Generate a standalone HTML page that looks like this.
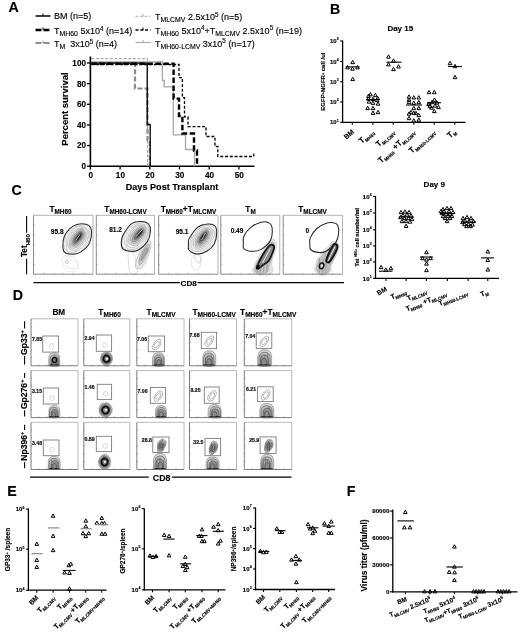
<!DOCTYPE html>
<html><head><meta charset="utf-8"><style>
html,body{margin:0;padding:0;background:#fff;}
svg{display:block;filter:blur(0.35px);}
text{font-family:"Liberation Sans",sans-serif;stroke:#000;stroke-width:0.14px;}
</style></head><body>
<svg width="520" height="632" viewBox="0 0 520 632">
<rect width="520" height="632" fill="#fff"/>
<text x="8.6" y="11.6" font-size="14.2" font-weight="bold" text-anchor="start" fill="#000" >A</text>
<text x="330" y="13.6" font-size="14.2" font-weight="bold" text-anchor="start" fill="#000" >B</text>
<text x="11.6" y="195.4" font-size="14.2" font-weight="bold" text-anchor="start" fill="#000" >C</text>
<text x="12.8" y="299.6" font-size="14.2" font-weight="bold" text-anchor="start" fill="#000" >D</text>
<text x="7.2" y="495.7" font-size="14.2" font-weight="bold" text-anchor="start" fill="#000" >E</text>
<text x="346.8" y="495.7" font-size="14.2" font-weight="bold" text-anchor="start" fill="#000" >F</text>
<line x1="90.4" y1="56.5" x2="90.4" y2="167.0" stroke="#000" stroke-width="1.6" />
<line x1="89.60000000000001" y1="166.2" x2="254.5" y2="166.2" stroke="#000" stroke-width="1.6" />
<line x1="86.9" y1="166.2" x2="90.4" y2="166.2" stroke="#000" stroke-width="1.3" />
<text x="86.0" y="169.1" font-size="8.2" font-weight="bold" text-anchor="end" fill="#000" >0</text>
<line x1="86.9" y1="145.56" x2="90.4" y2="145.56" stroke="#000" stroke-width="1.3" />
<text x="86.0" y="148.46" font-size="8.2" font-weight="bold" text-anchor="end" fill="#000" >20</text>
<line x1="86.9" y1="124.91999999999999" x2="90.4" y2="124.91999999999999" stroke="#000" stroke-width="1.3" />
<text x="86.0" y="127.82" font-size="8.2" font-weight="bold" text-anchor="end" fill="#000" >40</text>
<line x1="86.9" y1="104.27999999999999" x2="90.4" y2="104.27999999999999" stroke="#000" stroke-width="1.3" />
<text x="86.0" y="107.17999999999999" font-size="8.2" font-weight="bold" text-anchor="end" fill="#000" >60</text>
<line x1="86.9" y1="83.63999999999999" x2="90.4" y2="83.63999999999999" stroke="#000" stroke-width="1.3" />
<text x="86.0" y="86.53999999999999" font-size="8.2" font-weight="bold" text-anchor="end" fill="#000" >80</text>
<line x1="86.9" y1="62.999999999999986" x2="90.4" y2="62.999999999999986" stroke="#000" stroke-width="1.3" />
<text x="86.0" y="65.89999999999999" font-size="8.2" font-weight="bold" text-anchor="end" fill="#000" >100</text>
<line x1="90.4" y1="166.2" x2="90.4" y2="169.5" stroke="#000" stroke-width="1.3" />
<text x="90.7" y="178.39999999999998" font-size="8.2" font-weight="bold" text-anchor="middle" fill="#000" >0</text>
<line x1="120.10000000000001" y1="166.2" x2="120.10000000000001" y2="169.5" stroke="#000" stroke-width="1.3" />
<text x="120.4" y="178.39999999999998" font-size="8.2" font-weight="bold" text-anchor="middle" fill="#000" >10</text>
<line x1="149.8" y1="166.2" x2="149.8" y2="169.5" stroke="#000" stroke-width="1.3" />
<text x="150.10000000000002" y="178.39999999999998" font-size="8.2" font-weight="bold" text-anchor="middle" fill="#000" >20</text>
<line x1="179.5" y1="166.2" x2="179.5" y2="169.5" stroke="#000" stroke-width="1.3" />
<text x="179.8" y="178.39999999999998" font-size="8.2" font-weight="bold" text-anchor="middle" fill="#000" >30</text>
<line x1="209.20000000000002" y1="166.2" x2="209.20000000000002" y2="169.5" stroke="#000" stroke-width="1.3" />
<text x="209.50000000000003" y="178.39999999999998" font-size="8.2" font-weight="bold" text-anchor="middle" fill="#000" >40</text>
<line x1="238.9" y1="166.2" x2="238.9" y2="169.5" stroke="#000" stroke-width="1.3" />
<text x="239.20000000000002" y="178.39999999999998" font-size="8.2" font-weight="bold" text-anchor="middle" fill="#000" >50</text>
<text x="172" y="190.2" font-size="9.1" font-weight="bold" text-anchor="middle" fill="#000" >Days Post Transplant</text>
<text x="0" y="0" font-size="9.5" font-weight="bold" text-anchor="middle" fill="#000" transform="translate(68.4,109) rotate(-90)">Percent survival</text>
<polyline points="91.40,58.60 147.50,58.60 147.50,166.20" stroke="#aaa" stroke-width="1.1" fill="none" stroke-dasharray="3,1.6"/>
<polyline points="91.40,62.50 135.00,62.50 135.00,88.50 147.50,88.50 147.50,140.50 149.80,140.50 149.80,166.20" stroke="#8c8c8c" stroke-width="2.2" fill="none" stroke-dasharray="5,2.2"/>
<polyline points="91.40,62.00 162.40,62.00 162.40,80.50 164.20,80.50 164.20,86.80 173.30,86.80 173.30,134.80 185.50,134.80 185.50,149.50 194.50,149.50 194.50,166.20" stroke="#a8a8a8" stroke-width="1.3" fill="none" />
<polyline points="91.40,63.20 147.20,63.20 147.20,124.50 150.20,124.50 150.20,166.20" stroke="#000" stroke-width="1.3" fill="none" />
<polyline points="91.40,64.50 179.00,64.50 179.00,77.70 182.40,77.70 182.40,97.70 184.50,97.70 184.50,116.80 188.00,116.80 188.00,126.60 206.00,126.60 206.00,136.50 215.00,136.50 215.00,146.50 217.80,146.50 217.80,156.50 253.80,156.50" stroke="#000" stroke-width="1.3" fill="none" stroke-dasharray="3,1.8"/>
<line x1="253.8" y1="153.5" x2="253.8" y2="156.5" stroke="#000" stroke-width="1.2" />
<polyline points="91.40,63.80 173.60,63.80 173.60,98.60 179.00,98.60 179.00,116.00 182.40,116.00 182.40,133.50 194.00,133.50 194.00,150.50 197.00,150.50 197.00,166.20" stroke="#000" stroke-width="2.4" fill="none" stroke-dasharray="5.5,2.5"/>
<line x1="35.5" y1="16" x2="50.5" y2="16" stroke="#000" stroke-width="1.5" />
<line x1="43.0" y1="13.5" x2="43.0" y2="16" stroke="#000" stroke-width="1" />
<line x1="35.5" y1="30" x2="50.5" y2="30" stroke="#000" stroke-width="2.4" stroke-dasharray="6,2"/>
<line x1="43.0" y1="27.5" x2="43.0" y2="30" stroke="#000" stroke-width="1" />
<line x1="35.5" y1="43" x2="50.5" y2="43" stroke="#8c8c8c" stroke-width="2.0" stroke-dasharray="6,2"/>
<line x1="43.0" y1="40.5" x2="43.0" y2="43" stroke="#8c8c8c" stroke-width="1" />
<line x1="135.5" y1="16.3" x2="150.5" y2="16.3" stroke="#aaa" stroke-width="1.1" stroke-dasharray="3,1.6"/>
<line x1="143.0" y1="13.8" x2="143.0" y2="16.3" stroke="#aaa" stroke-width="1" />
<line x1="135.5" y1="30" x2="150.5" y2="30" stroke="#000" stroke-width="1.3" stroke-dasharray="3,1.8"/>
<line x1="143.0" y1="27.5" x2="143.0" y2="30" stroke="#000" stroke-width="1" />
<line x1="135.5" y1="42.5" x2="150.5" y2="42.5" stroke="#aaa" stroke-width="1.2" />
<line x1="143.0" y1="40.0" x2="143.0" y2="42.5" stroke="#aaa" stroke-width="1" />
<text x="54" y="19.1" font-size="9" font-weight="normal" text-anchor="start" fill="#000" >BM (n=5)</text>
<text x="54" y="34.1" font-size="9" font-weight="normal" text-anchor="start" fill="#000" >T<tspan font-size="6.9" dy="2.0">MH60</tspan><tspan dy="-2.0"> 5x10<tspan font-size="6.3" dy="-3.4">4</tspan><tspan dy="3.4"> (n=14)</tspan></tspan></text>
<text x="54" y="47.3" font-size="9" font-weight="normal" text-anchor="start" fill="#000" >T<tspan font-size="6.9" dy="2.0">M</tspan><tspan dy="-2.0">&#160; 3x10<tspan font-size="6.3" dy="-3.4">5</tspan><tspan dy="3.4"> (n=4)</tspan></tspan></text>
<text x="155" y="20.1" font-size="9" font-weight="normal" text-anchor="start" fill="#000" >T<tspan font-size="6.9" dy="2.0">MLCMV</tspan><tspan dy="-2.0"> 2.5x10<tspan font-size="6.3" dy="-3.4">5</tspan><tspan dy="3.4"> (n=5)</tspan></tspan></text>
<text x="155" y="33.6" font-size="9" font-weight="normal" text-anchor="start" fill="#000" >T<tspan font-size="6.9" dy="2.0">MH60</tspan><tspan dy="-2.0"> 5x10<tspan font-size="6.3" dy="-3.4">4</tspan><tspan dy="3.4">+</tspan></tspan>T<tspan font-size="6.9" dy="2.0">MLCMV</tspan><tspan dy="-2.0"> 2.5x10<tspan font-size="6.3" dy="-3.4">5</tspan><tspan dy="3.4"> (n=19)</tspan></tspan></text>
<text x="155" y="46.7" font-size="9" font-weight="normal" text-anchor="start" fill="#000" >T<tspan font-size="6.9" dy="2.0">MH60-LCMV</tspan><tspan dy="-2.0"> 3x10<tspan font-size="6.3" dy="-3.4">5</tspan><tspan dy="3.4"> (n=17)</tspan></tspan></text>
<text x="400.3" y="30.8" font-size="8" font-weight="bold" text-anchor="middle" fill="#000" >Day 15</text>
<line x1="342.6" y1="40.5" x2="342.6" y2="122.89999999999999" stroke="#000" stroke-width="1.3" />
<line x1="342.0" y1="122.3" x2="465.5" y2="122.3" stroke="#000" stroke-width="1.3" />
<line x1="340.1" y1="41" x2="342.6" y2="41" stroke="#000" stroke-width="1.1" />
<text x="336.6" y="43.16" font-size="6.0" font-weight="bold" text-anchor="end" fill="#000" >10</text>
<text x="336.8" y="40.4" font-size="3.5999999999999996" font-weight="bold" text-anchor="start" fill="#000" >5</text>
<line x1="340.1" y1="61.5" x2="342.6" y2="61.5" stroke="#000" stroke-width="1.1" />
<text x="336.6" y="63.66" font-size="6.0" font-weight="bold" text-anchor="end" fill="#000" >10</text>
<text x="336.8" y="60.9" font-size="3.5999999999999996" font-weight="bold" text-anchor="start" fill="#000" >4</text>
<line x1="340.1" y1="81.7" x2="342.6" y2="81.7" stroke="#000" stroke-width="1.1" />
<text x="336.6" y="83.86" font-size="6.0" font-weight="bold" text-anchor="end" fill="#000" >10</text>
<text x="336.8" y="81.10000000000001" font-size="3.5999999999999996" font-weight="bold" text-anchor="start" fill="#000" >3</text>
<line x1="340.1" y1="102" x2="342.6" y2="102" stroke="#000" stroke-width="1.1" />
<text x="336.6" y="104.16" font-size="6.0" font-weight="bold" text-anchor="end" fill="#000" >10</text>
<text x="336.8" y="101.4" font-size="3.5999999999999996" font-weight="bold" text-anchor="start" fill="#000" >2</text>
<line x1="340.1" y1="122.3" x2="342.6" y2="122.3" stroke="#000" stroke-width="1.1" />
<text x="336.6" y="124.46" font-size="6.0" font-weight="bold" text-anchor="end" fill="#000" >10</text>
<text x="336.8" y="121.7" font-size="3.5999999999999996" font-weight="bold" text-anchor="start" fill="#000" >1</text>
<line x1="352.3" y1="122.3" x2="352.3" y2="124.8" stroke="#000" stroke-width="1.1" />
<line x1="372.9" y1="122.3" x2="372.9" y2="124.8" stroke="#000" stroke-width="1.1" />
<line x1="393.2" y1="122.3" x2="393.2" y2="124.8" stroke="#000" stroke-width="1.1" />
<line x1="413.8" y1="122.3" x2="413.8" y2="124.8" stroke="#000" stroke-width="1.1" />
<line x1="434.2" y1="122.3" x2="434.2" y2="124.8" stroke="#000" stroke-width="1.1" />
<line x1="454.8" y1="122.3" x2="454.8" y2="124.8" stroke="#000" stroke-width="1.1" />
<text x="0" y="0" font-size="6.0" font-weight="bold" text-anchor="middle" transform="translate(325.4,81.6) rotate(-90)">EGFP<tspan font-size="3.8" dy="-1.8">+</tspan><tspan dy="1.8">NGFR</tspan><tspan font-size="3.8" dy="-1.8">+</tspan><tspan dy="1.8"> cell /ul</tspan></text>
<path d="M350.85,63.66L352.70,60.34L354.55,63.66Z" stroke="#000" stroke-width="1.0" fill="none" stroke-linejoin="miter"/>
<path d="M345.65,68.87L347.50,65.53L349.35,68.87Z" stroke="#000" stroke-width="1.0" fill="none" stroke-linejoin="miter"/>
<path d="M350.65,70.17L352.50,66.83L354.35,70.17Z" stroke="#000" stroke-width="1.0" fill="none" stroke-linejoin="miter"/>
<path d="M355.65,68.87L357.50,65.53L359.35,68.87Z" stroke="#000" stroke-width="1.0" fill="none" stroke-linejoin="miter"/>
<path d="M350.85,80.57L352.70,77.23L354.55,80.57Z" stroke="#000" stroke-width="1.0" fill="none" stroke-linejoin="miter"/>
<line x1="345.8" y1="66.9" x2="359.6" y2="66.9" stroke="#000" stroke-width="1.1" />
<path d="M386.65,58.16L388.50,54.84L390.35,58.16Z" stroke="#000" stroke-width="1.0" fill="none" stroke-linejoin="miter"/>
<path d="M391.65,62.16L393.50,58.84L395.35,62.16Z" stroke="#000" stroke-width="1.0" fill="none" stroke-linejoin="miter"/>
<path d="M386.65,65.87L388.50,62.54L390.35,65.87Z" stroke="#000" stroke-width="1.0" fill="none" stroke-linejoin="miter"/>
<path d="M391.65,70.67L393.50,67.33L395.35,70.67Z" stroke="#000" stroke-width="1.0" fill="none" stroke-linejoin="miter"/>
<path d="M396.65,67.97L398.50,64.63L400.35,67.97Z" stroke="#000" stroke-width="1.0" fill="none" stroke-linejoin="miter"/>
<line x1="386.5" y1="62.2" x2="401.5" y2="62.2" stroke="#000" stroke-width="1.1" />
<path d="M366.65,97.47L368.50,94.13L370.35,97.47Z" stroke="#000" stroke-width="1.0" fill="none" stroke-linejoin="miter"/>
<path d="M368.65,95.87L370.50,92.53L372.35,95.87Z" stroke="#000" stroke-width="1.0" fill="none" stroke-linejoin="miter"/>
<path d="M373.55,96.67L375.40,93.33L377.25,96.67Z" stroke="#000" stroke-width="1.0" fill="none" stroke-linejoin="miter"/>
<path d="M375.85,99.67L377.70,96.33L379.55,99.67Z" stroke="#000" stroke-width="1.0" fill="none" stroke-linejoin="miter"/>
<path d="M371.15,100.47L373.00,97.13L374.85,100.47Z" stroke="#000" stroke-width="1.0" fill="none" stroke-linejoin="miter"/>
<path d="M366.65,100.17L368.50,96.83L370.35,100.17Z" stroke="#000" stroke-width="1.0" fill="none" stroke-linejoin="miter"/>
<path d="M371.15,104.37L373.00,101.03L374.85,104.37Z" stroke="#000" stroke-width="1.0" fill="none" stroke-linejoin="miter"/>
<path d="M376.15,105.17L378.00,101.83L379.85,105.17Z" stroke="#000" stroke-width="1.0" fill="none" stroke-linejoin="miter"/>
<path d="M365.85,109.67L367.70,106.33L369.55,109.67Z" stroke="#000" stroke-width="1.0" fill="none" stroke-linejoin="miter"/>
<path d="M371.15,109.67L373.00,106.33L374.85,109.67Z" stroke="#000" stroke-width="1.0" fill="none" stroke-linejoin="miter"/>
<path d="M371.15,114.37L373.00,111.03L374.85,114.37Z" stroke="#000" stroke-width="1.0" fill="none" stroke-linejoin="miter"/>
<path d="M376.15,113.67L378.00,110.33L379.85,113.67Z" stroke="#000" stroke-width="1.0" fill="none" stroke-linejoin="miter"/>
<path d="M367.15,103.17L369.00,99.83L370.85,103.17Z" stroke="#000" stroke-width="1.0" fill="none" stroke-linejoin="miter"/>
<path d="M375.15,101.67L377.00,98.33L378.85,101.67Z" stroke="#000" stroke-width="1.0" fill="none" stroke-linejoin="miter"/>
<line x1="366" y1="99.6" x2="380" y2="99.6" stroke="#000" stroke-width="1.1" />
<path d="M407.15,98.17L409.00,94.83L410.85,98.17Z" stroke="#000" stroke-width="1.0" fill="none" stroke-linejoin="miter"/>
<path d="M411.95,98.97L413.80,95.63L415.65,98.97Z" stroke="#000" stroke-width="1.0" fill="none" stroke-linejoin="miter"/>
<path d="M416.95,98.97L418.80,95.63L420.65,98.97Z" stroke="#000" stroke-width="1.0" fill="none" stroke-linejoin="miter"/>
<path d="M407.15,101.27L409.00,97.93L410.85,101.27Z" stroke="#000" stroke-width="1.0" fill="none" stroke-linejoin="miter"/>
<path d="M407.15,103.67L409.00,100.33L410.85,103.67Z" stroke="#000" stroke-width="1.0" fill="none" stroke-linejoin="miter"/>
<path d="M411.95,104.37L413.80,101.03L415.65,104.37Z" stroke="#000" stroke-width="1.0" fill="none" stroke-linejoin="miter"/>
<path d="M416.95,103.67L418.80,100.33L420.65,103.67Z" stroke="#000" stroke-width="1.0" fill="none" stroke-linejoin="miter"/>
<path d="M411.95,109.67L413.80,106.33L415.65,109.67Z" stroke="#000" stroke-width="1.0" fill="none" stroke-linejoin="miter"/>
<path d="M416.95,109.67L418.80,106.33L420.65,109.67Z" stroke="#000" stroke-width="1.0" fill="none" stroke-linejoin="miter"/>
<path d="M407.15,115.17L409.00,111.83L410.85,115.17Z" stroke="#000" stroke-width="1.0" fill="none" stroke-linejoin="miter"/>
<path d="M411.95,114.37L413.80,111.03L415.65,114.37Z" stroke="#000" stroke-width="1.0" fill="none" stroke-linejoin="miter"/>
<path d="M416.95,116.67L418.80,113.33L420.65,116.67Z" stroke="#000" stroke-width="1.0" fill="none" stroke-linejoin="miter"/>
<path d="M407.15,119.67L409.00,116.33L410.85,119.67Z" stroke="#000" stroke-width="1.0" fill="none" stroke-linejoin="miter"/>
<path d="M411.95,122.07L413.80,118.73L415.65,122.07Z" stroke="#000" stroke-width="1.0" fill="none" stroke-linejoin="miter"/>
<path d="M416.95,121.27L418.80,117.93L420.65,121.27Z" stroke="#000" stroke-width="1.0" fill="none" stroke-linejoin="miter"/>
<path d="M409.15,113.67L411.00,110.33L412.85,113.67Z" stroke="#000" stroke-width="1.0" fill="none" stroke-linejoin="miter"/>
<path d="M414.15,114.67L416.00,111.33L417.85,114.67Z" stroke="#000" stroke-width="1.0" fill="none" stroke-linejoin="miter"/>
<line x1="406" y1="105" x2="422" y2="105" stroke="#000" stroke-width="1.1" />
<path d="M427.15,93.67L429.00,90.33L430.85,93.67Z" stroke="#000" stroke-width="1.0" fill="none" stroke-linejoin="miter"/>
<path d="M432.45,93.67L434.30,90.33L436.15,93.67Z" stroke="#000" stroke-width="1.0" fill="none" stroke-linejoin="miter"/>
<path d="M432.75,101.27L434.60,97.93L436.45,101.27Z" stroke="#000" stroke-width="1.0" fill="none" stroke-linejoin="miter"/>
<path d="M427.35,105.17L429.20,101.83L431.05,105.17Z" stroke="#000" stroke-width="1.0" fill="none" stroke-linejoin="miter"/>
<path d="M430.15,103.67L432.00,100.33L433.85,103.67Z" stroke="#000" stroke-width="1.0" fill="none" stroke-linejoin="miter"/>
<path d="M435.15,104.17L437.00,100.83L438.85,104.17Z" stroke="#000" stroke-width="1.0" fill="none" stroke-linejoin="miter"/>
<path d="M428.15,107.67L430.00,104.33L431.85,107.67Z" stroke="#000" stroke-width="1.0" fill="none" stroke-linejoin="miter"/>
<path d="M433.15,107.17L435.00,103.83L436.85,107.17Z" stroke="#000" stroke-width="1.0" fill="none" stroke-linejoin="miter"/>
<path d="M436.65,108.67L438.50,105.33L440.35,108.67Z" stroke="#000" stroke-width="1.0" fill="none" stroke-linejoin="miter"/>
<path d="M429.65,109.17L431.50,105.83L433.35,109.17Z" stroke="#000" stroke-width="1.0" fill="none" stroke-linejoin="miter"/>
<path d="M432.45,112.67L434.30,109.33L436.15,112.67Z" stroke="#000" stroke-width="1.0" fill="none" stroke-linejoin="miter"/>
<path d="M426.65,105.67L428.50,102.33L430.35,105.67Z" stroke="#000" stroke-width="1.0" fill="none" stroke-linejoin="miter"/>
<line x1="427" y1="102.7" x2="441" y2="102.7" stroke="#000" stroke-width="1.1" />
<path d="M448.15,64.67L450.00,61.34L451.85,64.67Z" stroke="#000" stroke-width="1.0" fill="none" stroke-linejoin="miter"/>
<path d="M453.15,67.67L455.00,64.33L456.85,67.67Z" stroke="#000" stroke-width="1.0" fill="none" stroke-linejoin="miter"/>
<path d="M453.15,78.67L455.00,75.33L456.85,78.67Z" stroke="#000" stroke-width="1.0" fill="none" stroke-linejoin="miter"/>
<line x1="448" y1="66.5" x2="462" y2="66.5" stroke="#000" stroke-width="1.1" />
<text x="0" y="0" font-weight="bold" text-anchor="end" transform="translate(354.5,132.5) rotate(-42)"><tspan font-size="7.0" dy="0.00">BM</tspan></text>
<text x="0" y="0" font-weight="bold" text-anchor="end" transform="translate(374.5,132.5) rotate(-42)"><tspan font-size="8.2" dy="0.00">T</tspan><tspan font-size="4.6" dy="2.05">MH60</tspan></text>
<text x="0" y="0" font-weight="bold" text-anchor="end" transform="translate(395,132.5) rotate(-42)"><tspan font-size="8.2" dy="0.00">T</tspan><tspan font-size="4.6" dy="2.05">MLCMV</tspan></text>
<text x="0" y="0" font-weight="bold" text-anchor="end" transform="translate(415.2,132.5) rotate(-42)"><tspan font-size="8.2" dy="0.00">T</tspan><tspan font-size="4.6" dy="2.05">MH60</tspan><tspan font-size="8.2" dy="-2.05"> +T</tspan><tspan font-size="4.6" dy="2.05">MLCMV</tspan></text>
<text x="0" y="0" font-weight="bold" text-anchor="end" transform="translate(435.5,132.5) rotate(-42)"><tspan font-size="8.2" dy="0.00">T</tspan><tspan font-size="4.6" dy="2.05">MH60-LCMV</tspan></text>
<text x="0" y="0" font-weight="bold" text-anchor="end" transform="translate(456.5,132.5) rotate(-42)"><tspan font-size="8.2" dy="0.00">T</tspan><tspan font-size="4.6" dy="2.05">M</tspan></text>
<text x="434.3" y="187.3" font-size="8" font-weight="bold" text-anchor="middle" fill="#000" >Day 9</text>
<line x1="375.5" y1="196" x2="375.5" y2="279.0" stroke="#000" stroke-width="1.3" />
<line x1="374.9" y1="278.4" x2="499" y2="278.4" stroke="#000" stroke-width="1.3" />
<line x1="373.0" y1="196.4" x2="375.5" y2="196.4" stroke="#000" stroke-width="1.1" />
<text x="369.5" y="198.56" font-size="6.0" font-weight="bold" text-anchor="end" fill="#000" >10</text>
<text x="369.7" y="195.8" font-size="3.5999999999999996" font-weight="bold" text-anchor="start" fill="#000" >6</text>
<line x1="373.0" y1="213" x2="375.5" y2="213" stroke="#000" stroke-width="1.1" />
<text x="369.5" y="215.16" font-size="6.0" font-weight="bold" text-anchor="end" fill="#000" >10</text>
<text x="369.7" y="212.4" font-size="3.5999999999999996" font-weight="bold" text-anchor="start" fill="#000" >5</text>
<line x1="373.0" y1="229.8" x2="375.5" y2="229.8" stroke="#000" stroke-width="1.1" />
<text x="369.5" y="231.96" font-size="6.0" font-weight="bold" text-anchor="end" fill="#000" >10</text>
<text x="369.7" y="229.20000000000002" font-size="3.5999999999999996" font-weight="bold" text-anchor="start" fill="#000" >4</text>
<line x1="373.0" y1="245.9" x2="375.5" y2="245.9" stroke="#000" stroke-width="1.1" />
<text x="369.5" y="248.06" font-size="6.0" font-weight="bold" text-anchor="end" fill="#000" >10</text>
<text x="369.7" y="245.3" font-size="3.5999999999999996" font-weight="bold" text-anchor="start" fill="#000" >3</text>
<line x1="373.0" y1="262" x2="375.5" y2="262" stroke="#000" stroke-width="1.1" />
<text x="369.5" y="264.16" font-size="6.0" font-weight="bold" text-anchor="end" fill="#000" >10</text>
<text x="369.7" y="261.4" font-size="3.5999999999999996" font-weight="bold" text-anchor="start" fill="#000" >2</text>
<line x1="373.0" y1="278.4" x2="375.5" y2="278.4" stroke="#000" stroke-width="1.1" />
<text x="369.5" y="280.56" font-size="6.0" font-weight="bold" text-anchor="end" fill="#000" >10</text>
<text x="369.7" y="277.79999999999995" font-size="3.5999999999999996" font-weight="bold" text-anchor="start" fill="#000" >1</text>
<line x1="386" y1="278.4" x2="386" y2="280.9" stroke="#000" stroke-width="1.1" />
<line x1="406.2" y1="278.4" x2="406.2" y2="280.9" stroke="#000" stroke-width="1.1" />
<line x1="426.4" y1="278.4" x2="426.4" y2="280.9" stroke="#000" stroke-width="1.1" />
<line x1="447.4" y1="278.4" x2="447.4" y2="280.9" stroke="#000" stroke-width="1.1" />
<line x1="468.2" y1="278.4" x2="468.2" y2="280.9" stroke="#000" stroke-width="1.1" />
<line x1="487.8" y1="278.4" x2="487.8" y2="280.9" stroke="#000" stroke-width="1.1" />
<text x="0" y="0" font-size="5.6" font-weight="bold" text-anchor="middle" transform="translate(358.8,237.3) rotate(-90)">Tet <tspan font-size="3.3" dy="-1.6">H60+</tspan><tspan dy="1.6"> cell number/ml</tspan></text>
<path d="M379.25,268.67L381.10,265.33L382.95,268.67Z" stroke="#000" stroke-width="1.0" fill="none" stroke-linejoin="miter"/>
<path d="M383.95,271.17L385.80,267.83L387.65,271.17Z" stroke="#000" stroke-width="1.0" fill="none" stroke-linejoin="miter"/>
<path d="M389.05,269.67L390.90,266.33L392.75,269.67Z" stroke="#000" stroke-width="1.0" fill="none" stroke-linejoin="miter"/>
<line x1="379" y1="271.2" x2="392.5" y2="271.2" stroke="#000" stroke-width="1.1" />
<path d="M399.15,213.66L401.00,210.34L402.85,213.66Z" stroke="#000" stroke-width="1.0" fill="none" stroke-linejoin="miter"/>
<path d="M403.15,213.16L405.00,209.84L406.85,213.16Z" stroke="#000" stroke-width="1.0" fill="none" stroke-linejoin="miter"/>
<path d="M407.15,213.66L409.00,210.34L410.85,213.66Z" stroke="#000" stroke-width="1.0" fill="none" stroke-linejoin="miter"/>
<path d="M401.15,216.66L403.00,213.34L404.85,216.66Z" stroke="#000" stroke-width="1.0" fill="none" stroke-linejoin="miter"/>
<path d="M405.15,216.16L407.00,212.84L408.85,216.16Z" stroke="#000" stroke-width="1.0" fill="none" stroke-linejoin="miter"/>
<path d="M409.15,217.16L411.00,213.84L412.85,217.16Z" stroke="#000" stroke-width="1.0" fill="none" stroke-linejoin="miter"/>
<path d="M398.65,218.66L400.50,215.34L402.35,218.66Z" stroke="#000" stroke-width="1.0" fill="none" stroke-linejoin="miter"/>
<path d="M402.65,219.66L404.50,216.34L406.35,219.66Z" stroke="#000" stroke-width="1.0" fill="none" stroke-linejoin="miter"/>
<path d="M406.65,219.66L408.50,216.34L410.35,219.66Z" stroke="#000" stroke-width="1.0" fill="none" stroke-linejoin="miter"/>
<path d="M410.15,220.66L412.00,217.34L413.85,220.66Z" stroke="#000" stroke-width="1.0" fill="none" stroke-linejoin="miter"/>
<path d="M400.15,222.66L402.00,219.34L403.85,222.66Z" stroke="#000" stroke-width="1.0" fill="none" stroke-linejoin="miter"/>
<path d="M404.15,222.66L406.00,219.34L407.85,222.66Z" stroke="#000" stroke-width="1.0" fill="none" stroke-linejoin="miter"/>
<path d="M408.15,223.16L410.00,219.84L411.85,223.16Z" stroke="#000" stroke-width="1.0" fill="none" stroke-linejoin="miter"/>
<path d="M404.25,227.47L406.10,224.14L407.95,227.47Z" stroke="#000" stroke-width="1.0" fill="none" stroke-linejoin="miter"/>
<line x1="399" y1="217" x2="414" y2="217" stroke="#000" stroke-width="1.1" />
<path d="M424.65,253.66L426.50,250.34L428.35,253.66Z" stroke="#000" stroke-width="1.0" fill="none" stroke-linejoin="miter"/>
<path d="M420.65,259.67L422.50,256.33L424.35,259.67Z" stroke="#000" stroke-width="1.0" fill="none" stroke-linejoin="miter"/>
<path d="M424.65,261.17L426.50,257.83L428.35,261.17Z" stroke="#000" stroke-width="1.0" fill="none" stroke-linejoin="miter"/>
<path d="M428.65,259.67L430.50,256.33L432.35,259.67Z" stroke="#000" stroke-width="1.0" fill="none" stroke-linejoin="miter"/>
<path d="M424.65,265.17L426.50,261.83L428.35,265.17Z" stroke="#000" stroke-width="1.0" fill="none" stroke-linejoin="miter"/>
<path d="M424.65,271.67L426.50,268.33L428.35,271.67Z" stroke="#000" stroke-width="1.0" fill="none" stroke-linejoin="miter"/>
<line x1="420" y1="257" x2="433" y2="257" stroke="#000" stroke-width="1.1" />
<path d="M441.15,210.66L443.00,207.34L444.85,210.66Z" stroke="#000" stroke-width="1.0" fill="none" stroke-linejoin="miter"/>
<path d="M445.15,209.66L447.00,206.34L448.85,209.66Z" stroke="#000" stroke-width="1.0" fill="none" stroke-linejoin="miter"/>
<path d="M449.15,209.66L451.00,206.34L452.85,209.66Z" stroke="#000" stroke-width="1.0" fill="none" stroke-linejoin="miter"/>
<path d="M442.15,212.66L444.00,209.34L445.85,212.66Z" stroke="#000" stroke-width="1.0" fill="none" stroke-linejoin="miter"/>
<path d="M447.15,212.66L449.00,209.34L450.85,212.66Z" stroke="#000" stroke-width="1.0" fill="none" stroke-linejoin="miter"/>
<path d="M451.15,213.66L453.00,210.34L454.85,213.66Z" stroke="#000" stroke-width="1.0" fill="none" stroke-linejoin="miter"/>
<path d="M440.15,214.66L442.00,211.34L443.85,214.66Z" stroke="#000" stroke-width="1.0" fill="none" stroke-linejoin="miter"/>
<path d="M444.15,215.66L446.00,212.34L447.85,215.66Z" stroke="#000" stroke-width="1.0" fill="none" stroke-linejoin="miter"/>
<path d="M448.15,215.66L450.00,212.34L451.85,215.66Z" stroke="#000" stroke-width="1.0" fill="none" stroke-linejoin="miter"/>
<path d="M441.15,217.66L443.00,214.34L444.85,217.66Z" stroke="#000" stroke-width="1.0" fill="none" stroke-linejoin="miter"/>
<path d="M446.15,217.66L448.00,214.34L449.85,217.66Z" stroke="#000" stroke-width="1.0" fill="none" stroke-linejoin="miter"/>
<path d="M450.15,217.66L452.00,214.34L453.85,217.66Z" stroke="#000" stroke-width="1.0" fill="none" stroke-linejoin="miter"/>
<path d="M443.15,219.66L445.00,216.34L446.85,219.66Z" stroke="#000" stroke-width="1.0" fill="none" stroke-linejoin="miter"/>
<path d="M448.15,219.66L450.00,216.34L451.85,219.66Z" stroke="#000" stroke-width="1.0" fill="none" stroke-linejoin="miter"/>
<path d="M445.15,222.66L447.00,219.34L448.85,222.66Z" stroke="#000" stroke-width="1.0" fill="none" stroke-linejoin="miter"/>
<path d="M439.15,212.66L441.00,209.34L442.85,212.66Z" stroke="#000" stroke-width="1.0" fill="none" stroke-linejoin="miter"/>
<line x1="440" y1="213.5" x2="455" y2="213.5" stroke="#000" stroke-width="1.1" />
<path d="M461.15,219.66L463.00,216.34L464.85,219.66Z" stroke="#000" stroke-width="1.0" fill="none" stroke-linejoin="miter"/>
<path d="M465.15,218.66L467.00,215.34L468.85,218.66Z" stroke="#000" stroke-width="1.0" fill="none" stroke-linejoin="miter"/>
<path d="M469.15,219.66L471.00,216.34L472.85,219.66Z" stroke="#000" stroke-width="1.0" fill="none" stroke-linejoin="miter"/>
<path d="M463.15,222.16L465.00,218.84L466.85,222.16Z" stroke="#000" stroke-width="1.0" fill="none" stroke-linejoin="miter"/>
<path d="M467.15,222.66L469.00,219.34L470.85,222.66Z" stroke="#000" stroke-width="1.0" fill="none" stroke-linejoin="miter"/>
<path d="M460.65,223.66L462.50,220.34L464.35,223.66Z" stroke="#000" stroke-width="1.0" fill="none" stroke-linejoin="miter"/>
<path d="M471.65,222.66L473.50,219.34L475.35,222.66Z" stroke="#000" stroke-width="1.0" fill="none" stroke-linejoin="miter"/>
<path d="M462.65,225.66L464.50,222.34L466.35,225.66Z" stroke="#000" stroke-width="1.0" fill="none" stroke-linejoin="miter"/>
<path d="M466.65,225.66L468.50,222.34L470.35,225.66Z" stroke="#000" stroke-width="1.0" fill="none" stroke-linejoin="miter"/>
<path d="M470.65,226.16L472.50,222.84L474.35,226.16Z" stroke="#000" stroke-width="1.0" fill="none" stroke-linejoin="miter"/>
<path d="M464.65,227.66L466.50,224.34L468.35,227.66Z" stroke="#000" stroke-width="1.0" fill="none" stroke-linejoin="miter"/>
<path d="M468.65,227.66L470.50,224.34L472.35,227.66Z" stroke="#000" stroke-width="1.0" fill="none" stroke-linejoin="miter"/>
<line x1="461" y1="222" x2="476" y2="222" stroke="#000" stroke-width="1.1" />
<path d="M485.95,252.97L487.80,249.64L489.65,252.97Z" stroke="#000" stroke-width="1.0" fill="none" stroke-linejoin="miter"/>
<path d="M485.95,261.47L487.80,258.13L489.65,261.47Z" stroke="#000" stroke-width="1.0" fill="none" stroke-linejoin="miter"/>
<path d="M485.95,271.06L487.80,267.73L489.65,271.06Z" stroke="#000" stroke-width="1.0" fill="none" stroke-linejoin="miter"/>
<line x1="481" y1="257.9" x2="494" y2="257.9" stroke="#000" stroke-width="1.1" />
<text x="0" y="0" font-weight="bold" text-anchor="end" transform="translate(387.5,290.3) rotate(-30)"><tspan font-size="6.6" dy="0.00">BM</tspan></text>
<text x="0" y="0" font-weight="bold" text-anchor="end" transform="translate(407,293.2) rotate(-22)"><tspan font-size="7.0" dy="0.00">T</tspan><tspan font-size="4.6" dy="1.75">MH60</tspan></text>
<text x="0" y="0" font-weight="bold" text-anchor="end" transform="translate(427.5,292.8) rotate(-22)"><tspan font-size="7.0" dy="0.00">T</tspan><tspan font-size="4.6" dy="1.75">MLCMV</tspan></text>
<text x="0" y="0" font-weight="bold" text-anchor="end" transform="translate(447.5,295) rotate(-22)"><tspan font-size="7.0" dy="0.00">T</tspan><tspan font-size="4.6" dy="1.75">MH60</tspan><tspan font-size="7.0" dy="-1.75"> +T</tspan><tspan font-size="4.6" dy="1.75">MLCMV</tspan></text>
<text x="0" y="0" font-weight="bold" text-anchor="end" transform="translate(468.5,294.3) rotate(-22)"><tspan font-size="7.0" dy="0.00">T</tspan><tspan font-size="4.6" dy="1.75">MH60-LCMV</tspan></text>
<text x="0" y="0" font-weight="bold" text-anchor="end" transform="translate(489,293.8) rotate(-22)"><tspan font-size="7.0" dy="0.00">T</tspan><tspan font-size="4.6" dy="1.75">M</tspan></text>
<path d="M68.59,262.00 L68.49,262.72 L68.00,263.26 L67.35,263.53 L66.65,263.55 L66.02,263.23 L65.51,262.72 L65.39,262.00 L65.61,261.33 L66.01,260.76 L66.64,260.41 L67.36,260.43 L68.01,260.73 L68.39,261.33Z" fill="none" stroke="#999" stroke-width="0.6"/>
<path d="M72.87,257.02 L76.07,259.28 L77.98,262.28 L78.44,265.30 L76.98,267.58 L74.15,268.65 L70.66,268.41 L66.87,267.41 L63.90,264.74 L62.05,261.72 L61.90,258.84 L63.12,256.49 L65.71,255.13 L69.30,255.15Z" fill="none" stroke="#ccc" stroke-width="0.5"/>
<path d="M78.71,266.00 L78.31,268.64 L76.10,270.80 L72.78,271.85 L69.23,271.82 L66.16,270.55 L63.72,268.63 L62.71,266.00 L63.89,263.43 L66.12,261.41 L69.22,260.15 L72.79,260.13 L76.13,261.17 L78.14,263.42Z" fill="none" stroke="#ddd" stroke-width="0.5"/>
<path d="M85.83,245.68 C83.23,249.52 84.67,248.16 81.18,251.00 C77.70,253.85 79.06,253.38 75.38,254.22 C71.70,255.05 73.10,254.78 70.14,253.50 C67.19,252.23 68.58,252.91 66.52,250.38 C64.46,247.86 64.54,249.56 63.96,245.94 C63.38,242.31 63.50,243.79 64.78,239.50 C66.06,235.21 65.10,236.81 67.81,233.07 C70.52,229.32 69.35,230.66 72.91,228.26 C76.47,225.86 74.79,226.90 78.50,225.86 C82.20,224.82 80.72,224.55 84.03,225.14 C87.34,225.73 86.58,224.91 88.42,227.64 C90.26,230.36 89.36,229.36 89.55,233.31 C89.73,237.26 90.22,235.37 88.98,239.50 C87.74,243.62 88.43,241.85 85.83,245.68Z" fill="rgb(246,246,246)" fill-opacity="1.0" stroke="rgb(152,152,152)" stroke-width="0.45"/>
<path d="M84.92,244.60 C82.50,247.88 83.48,246.37 80.33,248.72 C77.19,251.06 78.73,250.44 75.49,251.63 C72.25,252.82 73.38,252.92 70.62,252.29 C67.86,251.66 68.61,252.22 67.22,249.74 C65.83,247.25 66.62,248.25 66.45,244.84 C66.28,241.43 65.63,243.14 66.71,239.50 C67.79,235.87 67.34,237.48 69.69,233.94 C72.05,230.40 70.71,231.34 73.78,228.87 C76.86,226.41 75.73,227.19 78.91,226.54 C82.10,225.89 80.74,226.06 83.34,226.92 C85.94,227.78 84.87,227.07 86.71,229.11 C88.55,231.15 88.56,229.79 88.86,233.04 C89.15,236.30 88.91,235.02 87.59,238.87 C86.28,242.73 87.34,241.32 84.92,244.60Z" fill="rgb(244,244,244)" fill-opacity="1.0" stroke="rgb(151,151,151)" stroke-width="0.45"/>
<path d="M83.48,243.15 C81.32,246.13 82.49,244.86 79.83,247.25 C77.16,249.64 78.24,249.35 75.48,250.32 C72.73,251.30 73.72,250.99 71.57,250.17 C69.43,249.35 70.30,249.83 69.04,247.87 C67.78,245.90 67.95,247.08 67.79,244.27 C67.63,241.46 67.54,242.76 68.57,239.44 C69.60,236.13 68.78,237.40 70.87,234.32 C72.96,231.24 72.09,232.16 74.84,230.20 C77.58,228.23 76.35,229.23 79.10,228.42 C81.85,227.61 80.73,227.44 83.08,227.76 C85.44,228.09 84.82,227.51 86.16,229.39 C87.51,231.26 87.09,230.41 87.13,233.38 C87.18,236.35 87.52,235.04 86.30,238.30 C85.08,241.56 85.64,240.17 83.48,243.15Z" fill="rgb(236,236,236)" fill-opacity="1.0" stroke="rgb(146,146,146)" stroke-width="0.45"/>
<path d="M82.75,242.20 C80.86,244.84 81.68,243.91 79.35,245.72 C77.03,247.54 78.07,246.81 75.78,247.64 C73.48,248.48 74.47,248.40 72.47,248.23 C70.47,248.06 70.78,248.74 69.78,247.14 C68.78,245.55 69.31,246.05 69.48,243.45 C69.64,240.84 69.25,242.11 70.28,239.32 C71.31,236.53 70.74,237.73 72.57,235.07 C74.39,232.40 73.45,233.41 75.75,231.34 C78.05,229.26 77.15,229.71 79.47,228.85 C81.80,227.99 81.03,228.09 82.73,228.75 C84.43,229.42 83.52,229.24 84.57,230.84 C85.62,232.44 85.72,231.23 85.87,233.55 C86.02,235.86 86.07,234.90 85.03,237.79 C83.99,240.67 84.64,239.55 82.75,242.20Z" fill="rgb(221,221,221)" fill-opacity="1.0" stroke="rgb(137,137,137)" stroke-width="0.45"/>
<path d="M81.81,241.09 C80.24,243.41 80.93,242.67 78.97,244.31 C77.02,245.95 77.78,245.41 75.95,246.02 C74.12,246.63 75.04,246.31 73.48,246.15 C71.92,245.99 72.13,246.70 71.27,245.55 C70.41,244.41 70.73,244.84 70.89,242.71 C71.04,240.58 70.75,241.56 71.74,239.16 C72.72,236.76 72.23,237.75 73.85,235.52 C75.47,233.29 74.66,234.22 76.58,232.46 C78.50,230.71 77.65,231.21 79.60,230.25 C81.55,229.29 81.05,229.17 82.44,229.58 C83.84,229.98 83.11,230.02 83.78,231.46 C84.45,232.90 84.49,231.92 84.46,233.89 C84.43,235.85 84.57,234.95 83.68,237.35 C82.80,239.76 83.38,238.77 81.81,241.09Z" fill="rgb(199,199,199)" fill-opacity="1.0" stroke="rgb(123,123,123)" stroke-width="0.45"/>
<path d="M80.96,240.06 C79.61,241.95 80.19,241.25 78.62,242.63 C77.05,244.01 77.72,243.53 76.25,244.20 C74.77,244.87 75.45,244.65 74.20,244.65 C72.96,244.65 73.06,245.17 72.51,244.20 C71.96,243.23 72.26,243.50 72.54,241.73 C72.82,239.96 72.52,240.84 73.35,238.89 C74.17,236.94 73.72,237.79 75.02,235.89 C76.32,233.99 75.68,234.70 77.25,233.19 C78.81,231.68 78.19,232.11 79.71,231.36 C81.24,230.61 80.80,230.62 81.83,230.95 C82.85,231.28 82.25,231.30 82.78,232.35 C83.31,233.39 83.46,232.54 83.42,234.08 C83.39,235.61 83.51,234.96 82.68,236.95 C81.86,238.95 82.32,238.16 80.96,240.06Z" fill="rgb(167,167,167)" fill-opacity="1.0" stroke="rgb(103,103,103)" stroke-width="0.45"/>
<path d="M80.30,239.15 C79.23,240.62 79.63,239.96 78.40,241.08 C77.16,242.20 77.74,241.82 76.59,242.51 C75.45,243.20 75.83,243.13 74.96,243.15 C74.09,243.16 74.29,243.33 73.97,242.54 C73.65,241.76 73.76,242.11 73.99,240.79 C74.22,239.47 73.95,240.10 74.67,238.59 C75.38,237.07 75.08,237.79 76.14,236.23 C77.19,234.67 76.63,235.15 77.83,233.90 C79.03,232.66 78.62,233.04 79.74,232.50 C80.86,231.95 80.42,232.12 81.19,232.28 C81.96,232.43 81.68,232.26 82.05,232.97 C82.43,233.68 82.48,233.18 82.32,234.41 C82.17,235.64 82.27,235.08 81.60,236.66 C80.92,238.24 81.37,237.67 80.30,239.15Z" fill="rgb(126,126,126)" fill-opacity="1.0" stroke="rgb(78,78,78)" stroke-width="0.45"/>
<path d="M79.65,238.25 C78.84,239.40 79.19,239.00 78.30,239.89 C77.42,240.79 77.77,240.47 76.99,240.92 C76.21,241.38 76.50,241.29 75.97,241.27 C75.44,241.25 75.67,241.29 75.41,240.86 C75.14,240.42 74.98,240.85 75.17,239.96 C75.35,239.07 75.34,239.37 75.96,238.18 C76.58,237.00 76.23,237.53 77.02,236.41 C77.81,235.29 77.45,235.75 78.32,234.82 C79.20,233.90 78.85,234.17 79.66,233.63 C80.47,233.09 80.19,233.20 80.75,233.19 C81.32,233.18 81.24,233.01 81.36,233.60 C81.48,234.19 81.32,234.02 81.11,234.96 C80.89,235.90 81.20,235.33 80.71,236.43 C80.23,237.52 80.45,237.09 79.65,238.25Z" fill="rgb(76,76,76)" fill-opacity="1.0" stroke="rgb(47,47,47)" stroke-width="0.45"/>
<path d="M79.19,237.48 C78.65,238.22 78.89,237.91 78.33,238.52 C77.77,239.13 78.02,238.90 77.50,239.32 C76.99,239.75 77.09,239.76 76.78,239.80 C76.47,239.83 76.60,239.80 76.57,239.44 C76.53,239.08 76.50,239.29 76.68,238.71 C76.86,238.13 76.72,238.43 77.10,237.70 C77.48,236.97 77.29,237.29 77.81,236.52 C78.34,235.75 78.12,236.01 78.68,235.38 C79.25,234.75 79.06,234.93 79.52,234.63 C79.97,234.32 79.74,234.50 80.05,234.47 C80.37,234.44 80.33,234.30 80.45,234.54 C80.57,234.79 80.58,234.63 80.41,235.21 C80.23,235.79 80.34,235.53 79.93,236.29 C79.52,237.05 79.72,236.74 79.19,237.48Z" fill="rgb(15,15,15)" fill-opacity="1.0" stroke="rgb(9,9,9)" stroke-width="0.45"/>
<path d="M129.00,250.00 C130.35,247.00 130.90,248.40 133.00,252.00 C135.10,255.60 134.80,256.00 136.00,262.00 C137.20,268.00 138.50,268.70 137.00,272.00 C135.50,275.30 133.55,276.00 131.00,273.00 C128.45,270.00 129.10,268.90 128.50,262.00 C127.90,255.10 127.65,253.00 129.00,250.00Z" fill="none" stroke="#bbb" stroke-width="0.5"/>
<path d="M148.00,241.00 C150.10,240.70 151.00,239.50 151.00,244.00 C151.00,248.50 150.40,249.40 148.00,256.00 C145.60,262.60 145.85,262.25 143.00,266.00 C140.15,269.75 140.75,268.80 138.50,268.50 C136.25,268.20 135.35,269.35 135.50,265.00 C135.65,260.65 136.45,260.00 139.00,254.00 C141.55,248.00 141.30,248.90 144.00,245.00 C146.70,241.10 145.90,241.30 148.00,241.00Z" fill="#e6e6e6" stroke="#a0a0a0" stroke-width="0.5"/>
<path d="M147.50,244.50 C148.94,244.20 149.75,243.55 149.30,247.00 C148.85,250.45 148.34,251.05 146.00,256.00 C143.66,260.95 143.60,261.25 141.50,263.50 C139.40,265.75 139.30,266.05 139.00,263.50 C138.70,260.95 138.85,259.65 140.50,255.00 C142.15,250.35 142.40,251.15 144.50,248.00 C146.60,244.85 146.06,244.80 147.50,244.50Z" fill="#c8c8c8" stroke="#888" stroke-width="0.5"/>
<path d="M146.50,248.00 C147.70,247.40 148.10,247.60 147.50,250.00 C146.90,252.40 146.21,253.00 144.50,256.00 C142.79,259.00 142.85,259.25 141.80,260.00 C140.75,260.75 140.49,260.90 141.00,258.50 C141.51,256.10 141.85,255.15 143.50,252.00 C145.15,248.85 145.30,248.60 146.50,248.00Z" fill="#aaa" stroke="#777" stroke-width="0.5"/>
<path d="M144.41,244.06 C141.45,247.74 142.87,246.28 139.01,248.92 C135.14,251.56 136.52,251.51 132.82,251.98 C129.11,252.44 130.82,251.80 127.88,250.32 C124.95,248.85 125.88,250.14 124.02,247.54 C122.16,244.95 122.48,246.35 122.31,242.53 C122.14,238.72 121.76,240.30 123.51,236.09 C125.26,231.89 124.39,233.54 127.56,229.92 C130.73,226.29 129.25,227.39 133.03,225.21 C136.81,223.04 134.96,224.29 138.89,223.40 C142.82,222.50 141.63,221.65 144.81,222.53 C148.00,223.41 146.92,223.03 148.45,226.04 C149.98,229.06 149.58,227.64 149.40,231.59 C149.22,235.53 149.56,233.71 147.90,237.87 C146.24,242.02 147.37,240.37 144.41,244.06Z" fill="rgb(246,246,246)" fill-opacity="1.0" stroke="rgb(152,152,152)" stroke-width="0.45"/>
<path d="M143.48,242.47 C140.84,245.84 142.12,244.84 138.76,247.11 C135.40,249.38 136.79,248.58 133.39,249.29 C129.99,249.99 130.97,250.41 128.56,249.24 C126.15,248.07 127.52,248.27 126.16,245.78 C124.79,243.29 124.65,244.99 124.46,241.77 C124.26,238.54 123.97,239.85 125.57,236.10 C127.16,232.35 126.36,233.73 129.24,230.52 C132.12,227.31 130.82,228.63 134.22,226.47 C137.61,224.32 136.18,224.74 139.44,224.05 C142.70,223.36 141.17,223.66 144.00,224.40 C146.83,225.13 146.52,223.91 147.94,226.26 C149.36,228.60 148.68,227.85 148.26,231.43 C147.84,235.01 148.27,233.32 146.68,237.00 C145.08,240.68 146.12,239.10 143.48,242.47Z" fill="rgb(244,244,244)" fill-opacity="1.0" stroke="rgb(151,151,151)" stroke-width="0.45"/>
<path d="M142.66,240.98 C140.07,243.79 141.38,242.50 138.44,244.62 C135.51,246.74 136.73,246.48 133.86,247.34 C130.99,248.21 132.08,247.98 129.83,247.21 C127.59,246.44 128.17,247.14 127.13,245.03 C126.08,242.92 126.34,243.87 126.70,240.88 C127.06,237.89 126.83,239.32 128.22,236.06 C129.61,232.79 128.55,234.13 130.87,231.09 C133.19,228.04 132.21,228.84 135.18,226.93 C138.15,225.02 136.91,225.91 139.77,225.36 C142.63,224.82 141.58,224.57 143.75,225.29 C145.93,226.01 145.11,225.53 146.30,227.52 C147.49,229.50 147.35,228.35 147.32,231.24 C147.29,234.13 147.76,232.95 146.21,236.20 C144.66,239.45 145.25,238.17 142.66,240.98Z" fill="rgb(237,237,237)" fill-opacity="1.0" stroke="rgb(146,146,146)" stroke-width="0.45"/>
<path d="M142.03,239.65 C139.91,242.29 140.95,241.50 138.42,243.37 C135.88,245.23 136.78,244.76 134.43,245.24 C132.09,245.73 133.14,245.47 131.38,244.82 C129.62,244.17 130.20,244.82 129.15,243.30 C128.10,241.78 128.03,242.72 128.24,240.27 C128.45,237.81 128.35,238.80 129.77,235.93 C131.20,233.06 130.34,234.13 132.51,231.66 C134.68,229.18 133.75,230.23 136.28,228.49 C138.81,226.75 137.62,227.33 140.10,226.43 C142.59,225.53 141.86,225.33 143.74,225.79 C145.62,226.26 145.06,225.95 145.75,227.82 C146.43,229.70 146.10,228.87 145.78,231.41 C145.47,233.96 146.05,232.71 144.80,235.45 C143.55,238.19 144.16,237.01 142.03,239.65Z" fill="rgb(223,223,223)" fill-opacity="1.0" stroke="rgb(138,138,138)" stroke-width="0.45"/>
<path d="M141.49,238.39 C139.74,240.61 140.50,239.83 138.35,241.45 C136.20,243.07 137.05,242.61 135.05,243.25 C133.06,243.89 133.70,243.90 132.36,243.36 C131.02,242.83 131.68,243.02 131.03,241.65 C130.39,240.28 130.30,241.22 130.42,239.25 C130.53,237.29 130.17,238.12 131.38,235.75 C132.60,233.38 132.12,234.31 134.05,232.15 C135.98,229.98 135.06,230.79 137.17,229.24 C139.27,227.69 138.38,228.18 140.36,227.50 C142.34,226.81 141.53,226.93 143.11,227.18 C144.69,227.43 144.47,226.88 145.10,228.25 C145.73,229.62 145.50,229.11 145.01,231.29 C144.51,233.47 144.78,232.43 143.61,234.79 C142.44,237.16 143.25,236.17 141.49,238.39Z" fill="rgb(202,202,202)" fill-opacity="1.0" stroke="rgb(125,125,125)" stroke-width="0.45"/>
<path d="M140.91,237.10 C139.34,238.88 140.11,238.12 138.39,239.53 C136.66,240.93 137.33,240.64 135.74,241.30 C134.15,241.97 134.81,241.72 133.62,241.52 C132.43,241.31 132.52,241.80 132.17,240.68 C131.82,239.56 132.14,239.89 132.57,238.14 C133.00,236.40 132.54,237.35 133.47,235.44 C134.40,233.54 133.85,234.30 135.35,232.43 C136.85,230.56 136.24,231.15 137.98,229.84 C139.72,228.53 138.98,229.07 140.56,228.51 C142.15,227.95 141.66,227.86 142.72,228.16 C143.78,228.45 143.21,228.39 143.75,229.39 C144.28,230.40 144.55,229.58 144.33,231.17 C144.11,232.76 144.22,232.19 143.08,234.16 C141.94,236.14 142.47,235.31 140.91,237.10Z" fill="rgb(172,172,172)" fill-opacity="1.0" stroke="rgb(106,106,106)" stroke-width="0.45"/>
<path d="M140.57,236.01 C139.31,237.44 139.87,236.85 138.54,237.93 C137.20,239.00 137.84,238.56 136.57,239.23 C135.30,239.90 135.55,240.05 134.73,239.94 C133.90,239.84 134.31,239.78 134.09,238.90 C133.88,238.03 133.74,238.59 134.09,237.32 C134.44,236.04 134.28,236.60 135.14,235.08 C136.01,233.55 135.49,234.24 136.68,232.75 C137.87,231.25 137.35,231.75 138.72,230.60 C140.08,229.45 139.64,229.70 140.78,229.29 C141.92,228.88 141.32,229.20 142.13,229.36 C142.95,229.52 142.89,229.08 143.23,229.77 C143.57,230.47 143.44,230.16 143.14,231.45 C142.84,232.73 143.19,232.11 142.33,233.63 C141.47,235.15 141.84,234.58 140.57,236.01Z" fill="rgb(134,134,134)" fill-opacity="1.0" stroke="rgb(83,83,83)" stroke-width="0.45"/>
<path d="M140.31,234.98 C139.37,236.09 139.76,235.69 138.79,236.51 C137.81,237.34 138.20,237.05 137.38,237.47 C136.55,237.88 136.94,237.71 136.32,237.75 C135.70,237.79 135.70,238.07 135.52,237.58 C135.34,237.09 135.42,237.26 135.79,236.28 C136.16,235.30 135.94,235.76 136.63,234.64 C137.32,233.52 136.95,234.01 137.85,232.92 C138.76,231.83 138.35,232.26 139.34,231.37 C140.33,230.48 139.94,230.74 140.82,230.25 C141.70,229.76 141.49,229.77 141.97,229.90 C142.46,230.03 142.16,230.06 142.27,230.64 C142.38,231.22 142.51,230.78 142.29,231.63 C142.07,232.49 142.26,232.09 141.60,233.21 C140.94,234.32 141.25,233.88 140.31,234.98Z" fill="rgb(87,87,87)" fill-opacity="1.0" stroke="rgb(53,53,53)" stroke-width="0.45"/>
<path d="M140.15,234.05 C139.52,234.77 139.80,234.46 139.17,235.03 C138.54,235.60 138.81,235.40 138.27,235.77 C137.72,236.13 137.87,236.10 137.54,236.14 C137.21,236.17 137.32,236.18 137.27,235.86 C137.22,235.54 137.12,235.78 137.39,235.19 C137.65,234.59 137.57,234.82 138.06,234.09 C138.56,233.35 138.27,233.71 138.87,232.97 C139.47,232.23 139.22,232.48 139.85,231.87 C140.49,231.26 140.27,231.44 140.78,231.14 C141.29,230.84 141.08,230.96 141.39,230.97 C141.69,230.98 141.66,230.86 141.70,231.17 C141.73,231.48 141.71,231.34 141.50,231.90 C141.29,232.47 141.51,232.15 141.06,232.86 C140.61,233.58 140.78,233.33 140.15,234.05Z" fill="rgb(30,30,30)" fill-opacity="1.0" stroke="rgb(18,18,18)" stroke-width="0.45"/>
<path d="M200.96,262.00 L200.35,265.35 L199.14,268.30 L197.14,270.03 L194.89,269.76 L192.88,268.25 L191.63,265.36 L190.96,262.00 L191.34,258.41 L192.90,255.79 L194.92,254.43 L197.12,254.16 L199.12,255.74 L200.64,258.42Z" fill="none" stroke="#ccc" stroke-width="0.5"/>
<path d="M200.81,256.98 L201.20,259.09 L201.07,261.01 L200.31,262.39 L199.06,262.89 L197.57,262.37 L196.28,260.83 L195.17,259.03 L194.64,256.86 L194.88,254.95 L195.72,253.68 L196.98,253.28 L198.42,253.74 L199.88,254.91Z" fill="none" stroke="#aaa" stroke-width="0.5"/>
<path d="M211.27,245.14 C208.39,248.81 209.95,247.27 206.50,250.00 C203.05,252.74 204.63,252.17 200.92,253.35 C197.22,254.53 198.51,254.54 195.38,253.54 C192.25,252.55 193.43,253.12 191.54,250.38 C189.66,247.63 189.91,249.10 189.72,245.31 C189.52,241.52 189.78,243.26 190.96,239.00 C192.14,234.74 190.83,236.44 193.25,232.52 C195.68,228.61 194.63,229.77 198.23,227.26 C201.83,224.75 200.36,225.69 204.04,224.99 C207.72,224.30 206.13,224.30 209.26,225.18 C212.40,226.06 211.43,225.13 213.45,227.63 C215.46,230.13 214.74,228.89 215.31,232.68 C215.88,236.47 216.50,234.84 215.16,239.00 C213.81,243.15 214.16,241.47 211.27,245.14Z" fill="rgb(246,246,246)" fill-opacity="1.0" stroke="rgb(152,152,152)" stroke-width="0.45"/>
<path d="M210.20,244.01 C207.74,247.34 208.88,246.01 205.78,248.35 C202.68,250.69 204.10,250.00 200.91,251.02 C197.72,252.04 199.07,251.90 196.22,251.41 C193.37,250.91 193.82,251.88 192.37,249.52 C190.91,247.17 191.88,247.85 191.87,244.35 C191.86,240.84 191.29,242.66 192.35,239.01 C193.40,235.35 192.73,236.87 195.04,233.40 C197.35,229.92 196.17,231.04 199.27,228.58 C202.37,226.12 201.13,226.83 204.34,226.01 C207.55,225.18 206.42,225.13 208.91,226.11 C211.40,227.09 210.04,226.79 211.80,228.95 C213.56,231.10 213.75,229.43 214.20,232.57 C214.65,235.71 214.48,234.55 213.15,238.36 C211.82,242.17 212.66,240.68 210.20,244.01Z" fill="rgb(244,244,244)" fill-opacity="1.0" stroke="rgb(151,151,151)" stroke-width="0.45"/>
<path d="M208.94,242.74 C206.79,245.66 207.75,244.35 205.07,246.52 C202.38,248.70 203.67,248.10 200.88,249.27 C198.10,250.43 198.92,250.61 196.71,250.02 C194.51,249.43 195.38,249.61 194.26,247.49 C193.15,245.37 193.47,246.49 193.37,243.65 C193.26,240.80 192.91,242.17 193.94,238.96 C194.97,235.74 194.39,237.12 196.46,234.00 C198.53,230.89 197.47,231.76 200.15,229.61 C202.84,227.45 201.84,228.14 204.51,227.52 C207.18,226.91 205.91,227.22 208.16,227.76 C210.41,228.29 209.80,227.44 211.27,229.12 C212.73,230.80 212.47,229.91 212.56,232.81 C212.64,235.70 212.73,234.48 211.52,237.79 C210.31,241.10 211.09,239.83 208.94,242.74Z" fill="rgb(236,236,236)" fill-opacity="1.0" stroke="rgb(146,146,146)" stroke-width="0.45"/>
<path d="M207.64,241.45 C205.81,244.08 206.78,243.21 204.55,245.17 C202.33,247.12 203.30,246.35 200.96,247.32 C198.61,248.28 199.33,248.47 197.52,248.06 C195.71,247.66 196.34,247.86 195.52,246.10 C194.70,244.33 195.06,245.18 195.06,242.76 C195.05,240.35 194.65,241.62 195.51,238.85 C196.37,236.07 195.78,237.07 197.63,234.44 C199.48,231.82 198.71,232.87 201.05,230.98 C203.39,229.08 202.44,229.48 204.65,228.76 C206.86,228.03 205.86,228.41 207.69,228.81 C209.51,229.21 208.96,228.58 210.14,229.96 C211.32,231.34 211.27,230.50 211.24,232.94 C211.20,235.38 211.24,234.45 210.04,237.28 C208.85,240.12 209.47,238.82 207.64,241.45Z" fill="rgb(221,221,221)" fill-opacity="1.0" stroke="rgb(137,137,137)" stroke-width="0.45"/>
<path d="M206.83,240.50 C205.19,242.69 205.92,241.74 204.01,243.39 C202.10,245.04 202.90,244.69 201.09,245.46 C199.28,246.23 200.14,245.84 198.58,245.70 C197.03,245.57 197.21,246.25 196.44,245.05 C195.66,243.85 195.99,244.24 196.26,242.10 C196.53,239.96 196.30,240.97 197.25,238.63 C198.19,236.29 197.59,237.36 199.08,235.08 C200.58,232.80 199.85,233.49 201.73,231.79 C203.61,230.09 202.83,230.78 204.72,229.99 C206.62,229.20 206.09,229.02 207.42,229.42 C208.75,229.82 208.01,229.86 208.72,231.18 C209.43,232.50 209.49,231.51 209.55,233.39 C209.62,235.27 209.83,234.44 208.92,236.81 C208.02,239.18 208.47,238.31 206.83,240.50Z" fill="rgb(197,197,197)" fill-opacity="1.0" stroke="rgb(122,122,122)" stroke-width="0.45"/>
<path d="M205.99,239.53 C204.74,241.36 205.20,240.60 203.63,242.00 C202.06,243.40 202.68,243.09 201.27,243.73 C199.86,244.36 200.46,244.09 199.39,243.90 C198.32,243.71 198.67,244.03 198.06,243.16 C197.45,242.29 197.46,242.87 197.56,241.30 C197.66,239.73 197.45,240.36 198.36,238.44 C199.26,236.51 198.94,237.39 200.28,235.53 C201.62,233.67 200.89,234.28 202.37,232.85 C203.84,231.43 203.21,232.01 204.71,231.24 C206.20,230.48 205.73,230.44 206.84,230.55 C207.96,230.67 207.63,230.51 208.05,231.59 C208.48,232.67 208.34,232.17 208.12,233.80 C207.89,235.44 208.09,234.58 207.38,236.49 C206.67,238.40 207.24,237.69 205.99,239.53Z" fill="rgb(165,165,165)" fill-opacity="1.0" stroke="rgb(102,102,102)" stroke-width="0.45"/>
<path d="M205.06,238.50 C204.00,239.91 204.50,239.20 203.32,240.37 C202.14,241.55 202.60,241.36 201.53,242.02 C200.45,242.68 200.90,242.40 200.09,242.35 C199.28,242.31 199.41,242.61 199.10,241.88 C198.79,241.16 198.90,241.46 199.17,240.18 C199.44,238.90 199.25,239.52 199.91,238.05 C200.57,236.58 200.17,237.27 201.15,235.76 C202.13,234.25 201.70,234.64 202.86,233.52 C204.01,232.41 203.53,232.96 204.61,232.42 C205.69,231.88 205.36,231.83 206.11,231.91 C206.86,231.98 206.52,231.96 206.86,232.65 C207.20,233.35 207.25,232.83 207.13,234.00 C207.01,235.16 207.20,234.64 206.51,236.14 C205.82,237.64 206.12,237.09 205.06,238.50Z" fill="rgb(123,123,123)" fill-opacity="1.0" stroke="rgb(76,76,76)" stroke-width="0.45"/>
<path d="M204.41,237.66 C203.69,238.74 203.98,238.40 203.15,239.26 C202.32,240.12 202.62,239.84 201.91,240.24 C201.21,240.63 201.55,240.43 201.03,240.45 C200.52,240.46 200.57,240.70 200.38,240.28 C200.18,239.85 200.27,240.03 200.45,239.17 C200.63,238.31 200.38,238.76 200.91,237.70 C201.43,236.64 201.24,237.04 202.02,235.99 C202.80,234.93 202.43,235.40 203.25,234.54 C204.07,233.68 203.71,233.97 204.48,233.41 C205.25,232.85 205.07,232.85 205.56,232.85 C206.05,232.86 205.82,232.90 205.96,233.43 C206.10,233.95 206.21,233.57 205.99,234.42 C205.77,235.28 205.83,234.92 205.31,235.99 C204.78,237.07 205.13,236.57 204.41,237.66Z" fill="rgb(70,70,70)" fill-opacity="1.0" stroke="rgb(43,43,43)" stroke-width="0.45"/>
<path d="M203.87,236.90 C203.38,237.58 203.62,237.27 203.11,237.83 C202.61,238.40 202.81,238.23 202.37,238.61 C201.92,238.98 202.04,238.93 201.77,238.96 C201.51,239.00 201.61,239.00 201.56,238.71 C201.52,238.42 201.45,238.63 201.64,238.10 C201.82,237.57 201.76,237.80 202.11,237.13 C202.47,236.46 202.25,236.78 202.72,236.09 C203.18,235.40 203.00,235.61 203.50,235.05 C204.01,234.49 203.81,234.70 204.23,234.41 C204.64,234.12 204.47,234.22 204.74,234.18 C205.01,234.14 204.97,234.05 205.04,234.29 C205.11,234.53 205.09,234.41 204.95,234.92 C204.80,235.42 204.95,235.15 204.59,235.81 C204.24,236.48 204.37,236.23 203.87,236.90Z" fill="rgb(8,8,8)" fill-opacity="1.0" stroke="rgb(4,4,4)" stroke-width="0.45"/>
<path d="M271.00,239.50 C274.60,237.70 274.80,239.25 276.00,243.00 C277.20,246.75 276.20,246.30 275.00,252.00 C273.80,257.70 273.20,255.64 272.00,262.00 C270.80,268.36 276.25,269.84 271.00,273.20 C265.75,276.56 259.60,275.36 254.50,273.20 C249.40,271.04 252.95,270.56 254.00,266.00 C255.05,261.44 255.00,263.10 258.00,258.00 C261.00,252.90 260.10,254.55 264.00,249.00 C267.90,243.45 267.40,241.30 271.00,239.50Z" fill="#e4e4e4" stroke="#c8c8c8" stroke-width="0.5"/>
<path d="M270.50,242.50 C273.05,241.60 273.90,241.95 274.50,246.00 C275.10,250.05 274.00,250.30 272.50,256.00 C271.00,261.70 271.45,260.05 269.50,265.00 C267.55,269.95 270.05,270.25 266.00,272.50 C261.95,274.75 259.00,274.75 256.00,272.50 C253.00,270.25 254.65,269.65 256.00,265.00 C257.35,260.35 257.50,261.80 260.50,257.00 C263.50,252.20 263.00,253.35 266.00,249.00 C269.00,244.65 267.95,243.40 270.50,242.50Z" fill="#c4c4c4" stroke="#999" stroke-width="0.5"/>
<path d="M271.50,244.60 C272.64,244.74 274.10,245.32 274.20,247.20 C274.30,249.08 273.12,251.24 272.00,254.00 C270.88,256.76 270.40,258.80 268.60,261.00 C266.80,263.20 265.00,263.48 263.00,265.00 C261.00,266.52 259.84,268.16 258.60,268.60 C257.36,269.04 256.42,269.12 256.80,267.20 C257.18,265.28 258.96,262.04 260.50,259.00 C262.04,255.96 262.90,254.50 264.50,252.00 C266.10,249.50 267.10,247.98 268.50,246.50 C269.90,245.02 270.36,244.46 271.50,244.60Z" fill="#8a8a8a" stroke="#111" stroke-width="1.7"/>
<line x1="270.6" y1="248" x2="262.5" y2="263" stroke="#f2f2f2" stroke-width="1.0" />
<line x1="258" y1="262" x2="257" y2="272.5" stroke="#777" stroke-width="0.5" />
<line x1="261" y1="263" x2="260" y2="272.5" stroke="#777" stroke-width="0.5" />
<line x1="264" y1="264" x2="263.5" y2="272.5" stroke="#777" stroke-width="0.5" />
<line x1="267" y1="264" x2="267" y2="272.5" stroke="#777" stroke-width="0.5" />
<ellipse cx="258" cy="266.8" rx="1.5" ry="2.4" fill="#111" transform="rotate(25 258 266.8)"/>
<path d="M334.00,241.50 C337.15,241.20 337.60,241.75 338.50,245.50 C339.40,249.25 338.95,248.45 337.00,254.00 C335.05,259.55 334.40,258.24 332.00,264.00 C329.60,269.76 333.65,270.44 329.00,273.20 C324.35,275.96 320.25,276.56 316.50,273.20 C312.75,269.84 314.85,268.06 316.50,262.00 C318.15,255.94 318.55,257.65 322.00,253.00 C325.45,248.35 324.40,249.95 328.00,246.50 C331.60,243.05 330.85,241.80 334.00,241.50Z" fill="#e4e4e4" stroke="#c8c8c8" stroke-width="0.5"/>
<path d="M333.50,243.50 C336.35,243.20 337.20,243.95 337.50,248.00 C337.80,252.05 336.60,251.90 334.50,257.00 C332.40,262.10 332.60,260.35 330.50,265.00 C328.40,269.65 331.25,270.25 327.50,272.50 C323.75,274.75 320.85,275.65 318.00,272.50 C315.15,269.35 316.50,267.25 318.00,262.00 C319.50,256.75 320.00,258.90 323.00,255.00 C326.00,251.10 324.85,252.45 328.00,249.00 C331.15,245.55 330.65,243.80 333.50,243.50Z" fill="#c0c0c0" stroke="#999" stroke-width="0.5"/>
<path d="M335.30,243.80 C336.40,244.08 337.69,244.62 337.50,247.00 C337.31,249.38 336.25,250.66 334.50,254.00 C332.75,257.34 331.63,259.36 330.00,261.30 C328.37,263.24 328.36,262.60 327.50,262.30 C326.64,262.00 325.83,262.40 326.30,260.00 C326.77,257.60 327.98,255.31 329.50,252.00 C331.02,248.69 331.45,247.71 332.80,245.80 C334.15,243.89 334.20,243.52 335.30,243.80Z" fill="#7a7a7a" stroke="#111" stroke-width="1.9"/>
<line x1="335" y1="246.5" x2="328.3" y2="260.5" stroke="#f0f0f0" stroke-width="0.9" />
<line x1="319.5" y1="258" x2="319.5" y2="272.5" stroke="#777" stroke-width="0.5" />
<line x1="323" y1="259" x2="323" y2="272.5" stroke="#777" stroke-width="0.5" />
<line x1="326" y1="262" x2="326" y2="272.5" stroke="#777" stroke-width="0.5" />
<ellipse cx="321.6" cy="265.8" rx="2.2" ry="2.9" fill="#bbb" stroke="#111" stroke-width="1.5" transform="rotate(15 321.6 265.8)"/>
<circle cx="321.8" cy="265.6" r="0.8" fill="#fff"/>
<line x1="75.8" y1="240.5" x2="80" y2="234.2" stroke="#f0f0f0" stroke-width="0.8" />
<line x1="136" y1="236.5" x2="142.5" y2="229.5" stroke="#f0f0f0" stroke-width="0.8" />
<line x1="201.5" y1="240" x2="205.5" y2="233" stroke="#f0f0f0" stroke-width="0.8" />
<path d="M33.5,215.3 L93,215.3 L93,274.2" fill="none" stroke="#aaaaaa" stroke-width="0.9"/>
<path d="M33.5,215.3 L33.5,274.2 L93,274.2" fill="none" stroke="#7a7a7a" stroke-width="0.9"/>
<line x1="33.5" y1="264.38" x2="34.7" y2="264.38" stroke="#7a7a7a" stroke-width="0.6"/>
<line x1="43.42" y1="274.2" x2="43.42" y2="273.0" stroke="#7a7a7a" stroke-width="0.6"/>
<line x1="33.5" y1="254.57" x2="34.7" y2="254.57" stroke="#7a7a7a" stroke-width="0.6"/>
<line x1="53.33" y1="274.2" x2="53.33" y2="273.0" stroke="#7a7a7a" stroke-width="0.6"/>
<line x1="33.5" y1="244.75" x2="34.7" y2="244.75" stroke="#7a7a7a" stroke-width="0.6"/>
<line x1="63.25" y1="274.2" x2="63.25" y2="273.0" stroke="#7a7a7a" stroke-width="0.6"/>
<line x1="33.5" y1="234.93" x2="34.7" y2="234.93" stroke="#7a7a7a" stroke-width="0.6"/>
<line x1="73.17" y1="274.2" x2="73.17" y2="273.0" stroke="#7a7a7a" stroke-width="0.6"/>
<line x1="33.5" y1="225.12" x2="34.7" y2="225.12" stroke="#7a7a7a" stroke-width="0.6"/>
<line x1="83.08" y1="274.2" x2="83.08" y2="273.0" stroke="#7a7a7a" stroke-width="0.6"/>
<path d="M96.3,215.3 L154.5,215.3 L154.5,274.2" fill="none" stroke="#aaaaaa" stroke-width="0.9"/>
<path d="M96.3,215.3 L96.3,274.2 L154.5,274.2" fill="none" stroke="#7a7a7a" stroke-width="0.9"/>
<line x1="96.3" y1="264.38" x2="97.5" y2="264.38" stroke="#7a7a7a" stroke-width="0.6"/>
<line x1="106.00" y1="274.2" x2="106.00" y2="273.0" stroke="#7a7a7a" stroke-width="0.6"/>
<line x1="96.3" y1="254.57" x2="97.5" y2="254.57" stroke="#7a7a7a" stroke-width="0.6"/>
<line x1="115.70" y1="274.2" x2="115.70" y2="273.0" stroke="#7a7a7a" stroke-width="0.6"/>
<line x1="96.3" y1="244.75" x2="97.5" y2="244.75" stroke="#7a7a7a" stroke-width="0.6"/>
<line x1="125.40" y1="274.2" x2="125.40" y2="273.0" stroke="#7a7a7a" stroke-width="0.6"/>
<line x1="96.3" y1="234.93" x2="97.5" y2="234.93" stroke="#7a7a7a" stroke-width="0.6"/>
<line x1="135.10" y1="274.2" x2="135.10" y2="273.0" stroke="#7a7a7a" stroke-width="0.6"/>
<line x1="96.3" y1="225.12" x2="97.5" y2="225.12" stroke="#7a7a7a" stroke-width="0.6"/>
<line x1="144.80" y1="274.2" x2="144.80" y2="273.0" stroke="#7a7a7a" stroke-width="0.6"/>
<path d="M158.7,215.3 L218,215.3 L218,274.2" fill="none" stroke="#aaaaaa" stroke-width="0.9"/>
<path d="M158.7,215.3 L158.7,274.2 L218,274.2" fill="none" stroke="#7a7a7a" stroke-width="0.9"/>
<line x1="158.7" y1="264.38" x2="159.89999999999998" y2="264.38" stroke="#7a7a7a" stroke-width="0.6"/>
<line x1="168.58" y1="274.2" x2="168.58" y2="273.0" stroke="#7a7a7a" stroke-width="0.6"/>
<line x1="158.7" y1="254.57" x2="159.89999999999998" y2="254.57" stroke="#7a7a7a" stroke-width="0.6"/>
<line x1="178.47" y1="274.2" x2="178.47" y2="273.0" stroke="#7a7a7a" stroke-width="0.6"/>
<line x1="158.7" y1="244.75" x2="159.89999999999998" y2="244.75" stroke="#7a7a7a" stroke-width="0.6"/>
<line x1="188.35" y1="274.2" x2="188.35" y2="273.0" stroke="#7a7a7a" stroke-width="0.6"/>
<line x1="158.7" y1="234.93" x2="159.89999999999998" y2="234.93" stroke="#7a7a7a" stroke-width="0.6"/>
<line x1="198.23" y1="274.2" x2="198.23" y2="273.0" stroke="#7a7a7a" stroke-width="0.6"/>
<line x1="158.7" y1="225.12" x2="159.89999999999998" y2="225.12" stroke="#7a7a7a" stroke-width="0.6"/>
<line x1="208.12" y1="274.2" x2="208.12" y2="273.0" stroke="#7a7a7a" stroke-width="0.6"/>
<path d="M220.8,215.3 L279.8,215.3 L279.8,274.2" fill="none" stroke="#aaaaaa" stroke-width="0.9"/>
<path d="M220.8,215.3 L220.8,274.2 L279.8,274.2" fill="none" stroke="#7a7a7a" stroke-width="0.9"/>
<line x1="220.8" y1="264.38" x2="222.0" y2="264.38" stroke="#7a7a7a" stroke-width="0.6"/>
<line x1="230.63" y1="274.2" x2="230.63" y2="273.0" stroke="#7a7a7a" stroke-width="0.6"/>
<line x1="220.8" y1="254.57" x2="222.0" y2="254.57" stroke="#7a7a7a" stroke-width="0.6"/>
<line x1="240.47" y1="274.2" x2="240.47" y2="273.0" stroke="#7a7a7a" stroke-width="0.6"/>
<line x1="220.8" y1="244.75" x2="222.0" y2="244.75" stroke="#7a7a7a" stroke-width="0.6"/>
<line x1="250.30" y1="274.2" x2="250.30" y2="273.0" stroke="#7a7a7a" stroke-width="0.6"/>
<line x1="220.8" y1="234.93" x2="222.0" y2="234.93" stroke="#7a7a7a" stroke-width="0.6"/>
<line x1="260.13" y1="274.2" x2="260.13" y2="273.0" stroke="#7a7a7a" stroke-width="0.6"/>
<line x1="220.8" y1="225.12" x2="222.0" y2="225.12" stroke="#7a7a7a" stroke-width="0.6"/>
<line x1="269.97" y1="274.2" x2="269.97" y2="273.0" stroke="#7a7a7a" stroke-width="0.6"/>
<path d="M283.2,215.3 L342.5,215.3 L342.5,274.2" fill="none" stroke="#aaaaaa" stroke-width="0.9"/>
<path d="M283.2,215.3 L283.2,274.2 L342.5,274.2" fill="none" stroke="#7a7a7a" stroke-width="0.9"/>
<line x1="283.2" y1="264.38" x2="284.4" y2="264.38" stroke="#7a7a7a" stroke-width="0.6"/>
<line x1="293.08" y1="274.2" x2="293.08" y2="273.0" stroke="#7a7a7a" stroke-width="0.6"/>
<line x1="283.2" y1="254.57" x2="284.4" y2="254.57" stroke="#7a7a7a" stroke-width="0.6"/>
<line x1="302.97" y1="274.2" x2="302.97" y2="273.0" stroke="#7a7a7a" stroke-width="0.6"/>
<line x1="283.2" y1="244.75" x2="284.4" y2="244.75" stroke="#7a7a7a" stroke-width="0.6"/>
<line x1="312.85" y1="274.2" x2="312.85" y2="273.0" stroke="#7a7a7a" stroke-width="0.6"/>
<line x1="283.2" y1="234.93" x2="284.4" y2="234.93" stroke="#7a7a7a" stroke-width="0.6"/>
<line x1="322.73" y1="274.2" x2="322.73" y2="273.0" stroke="#7a7a7a" stroke-width="0.6"/>
<line x1="283.2" y1="225.12" x2="284.4" y2="225.12" stroke="#7a7a7a" stroke-width="0.6"/>
<line x1="332.62" y1="274.2" x2="332.62" y2="273.0" stroke="#7a7a7a" stroke-width="0.6"/>
<path d="M64.20,236.80 C65.41,233.56 67.15,231.17 69.50,228.90 C71.85,226.63 73.92,225.24 77.00,224.40 C80.08,223.56 83.77,223.64 86.30,224.30 C88.83,224.96 89.90,225.71 90.80,228.00 C91.70,230.29 91.60,233.72 91.20,236.80 C90.80,239.88 90.47,242.03 88.60,244.80 C86.73,247.57 83.68,250.20 81.00,251.90 C78.32,253.60 76.92,253.94 74.00,254.10 C71.08,254.26 67.13,254.18 65.10,252.80 C63.06,251.43 63.06,249.53 62.90,246.60 C62.73,243.67 62.99,240.05 64.20,236.80Z" fill="none" stroke="#262626" stroke-width="1.05" stroke-linejoin="round"/>
<path d="M132.00,223.40 C135.48,220.96 139.16,221.39 142.20,221.50 C145.24,221.61 147.08,222.26 148.60,224.00 C150.12,225.74 150.74,227.74 150.50,231.00 C150.26,234.26 149.52,238.32 147.30,241.80 C145.08,245.28 141.43,248.26 138.40,250.00 C135.38,251.74 133.64,251.52 130.80,251.30 C127.96,251.08 124.64,250.41 122.90,248.80 C121.16,247.19 121.25,245.07 121.30,242.50 C121.35,239.93 121.24,238.30 123.20,234.80 C125.16,231.30 128.52,225.84 132.00,223.40Z" fill="none" stroke="#262626" stroke-width="1.05" stroke-linejoin="round"/>
<path d="M197.90,227.20 C201.35,224.52 204.87,224.22 208.00,224.00 C211.13,223.78 213.41,224.24 215.00,226.00 C216.59,227.76 216.81,230.35 216.70,233.60 C216.59,236.84 216.22,240.45 214.40,243.70 C212.59,246.94 210.06,249.43 206.80,251.30 C203.54,253.17 199.86,254.14 196.60,253.90 C193.34,253.66 190.48,251.81 189.00,250.00 C187.52,248.19 188.46,246.09 188.50,244.00 C188.54,241.91 187.48,241.68 189.20,238.60 C190.92,235.52 194.45,229.88 197.90,227.20Z" fill="none" stroke="#262626" stroke-width="1.05" stroke-linejoin="round"/>
<path d="M251.00,227.20 C254.13,224.67 257.84,223.01 261.10,222.20 C264.36,221.39 266.80,221.88 268.80,222.80 C270.80,223.72 271.65,224.05 272.00,227.20 C272.35,230.35 272.70,235.93 270.70,240.00 C268.70,244.07 264.47,247.33 261.10,249.40 C257.73,251.47 255.44,251.41 252.30,251.30 C249.17,251.19 245.63,250.19 244.00,248.80 C242.37,247.41 243.40,246.05 243.40,243.70 C243.40,241.35 242.61,239.03 244.00,236.00 C245.39,232.97 247.87,229.73 251.00,227.20Z" fill="none" stroke="#262626" stroke-width="1.05" stroke-linejoin="round"/>
<path d="M316.80,228.50 C319.59,225.93 322.68,224.44 325.70,223.40 C328.72,222.36 331.10,222.45 333.30,222.80 C335.50,223.15 336.73,223.32 337.70,225.30 C338.67,227.28 338.95,230.45 338.60,233.60 C338.25,236.75 337.71,239.49 335.80,242.50 C333.89,245.51 330.99,248.15 328.20,250.00 C325.41,251.85 323.74,252.60 320.60,252.60 C317.47,252.60 313.08,251.63 311.10,250.00 C309.12,248.37 309.91,246.01 309.80,243.70 C309.69,241.39 309.22,240.19 310.50,237.40 C311.78,234.61 314.01,231.07 316.80,228.50Z" fill="none" stroke="#262626" stroke-width="1.05" stroke-linejoin="round"/>
<text x="57.2" y="233.8" font-size="6.5" font-weight="bold" text-anchor="middle" fill="#000" >95.8</text>
<text x="115.5" y="231.7" font-size="6.5" font-weight="bold" text-anchor="middle" fill="#000" >81.2</text>
<text x="182" y="233.8" font-size="6.5" font-weight="bold" text-anchor="middle" fill="#000" >95.1</text>
<text x="237" y="233.3" font-size="6.5" font-weight="bold" text-anchor="middle" fill="#000" >0.49</text>
<text x="307.3" y="233.3" font-size="6.5" font-weight="bold" text-anchor="middle" fill="#000" >0</text>
<text x="60.5" y="211.8" font-weight="bold" text-anchor="middle"><tspan font-size="8.4" dy="0">T</tspan><tspan font-size="6.4" dy="2.18">MH60</tspan></text>
<text x="125.5" y="211.8" font-weight="bold" text-anchor="middle"><tspan font-size="8.4" dy="0">T</tspan><tspan font-size="6.4" dy="2.18">MH60-LCMV</tspan></text>
<text x="188.5" y="211.8" font-weight="bold" text-anchor="middle"><tspan font-size="8.4" dy="0">T</tspan><tspan font-size="6.4" dy="2.18">MH60</tspan><tspan font-size="8.4" dy="-2.184">+T</tspan><tspan font-size="6.4" dy="2.18">MLCMV</tspan></text>
<text x="250.5" y="211.8" font-weight="bold" text-anchor="middle"><tspan font-size="8.4" dy="0">T</tspan><tspan font-size="6.4" dy="2.18">M</tspan></text>
<text x="312.5" y="211.8" font-weight="bold" text-anchor="middle"><tspan font-size="8.4" dy="0">T</tspan><tspan font-size="6.4" dy="2.18">MLCMV</tspan></text>
<line x1="26.6" y1="216" x2="26.6" y2="232.7" stroke="#000" stroke-width="1.1" />
<line x1="26.6" y1="258.7" x2="26.6" y2="274.2" stroke="#000" stroke-width="1.1" />
<text x="0" y="0" font-weight="bold" text-anchor="middle" transform="translate(27.2,245.6) rotate(-90)"><tspan font-size="8.2">Tet</tspan><tspan font-size="6.1" dy="2.4">H60</tspan></text>
<line x1="33.5" y1="282.6" x2="179.8" y2="282.6" stroke="#000" stroke-width="1.2" />
<line x1="197.6" y1="282.6" x2="344" y2="282.6" stroke="#000" stroke-width="1.2" />
<text x="188.7" y="285.6" font-size="8.1" font-weight="bold" text-anchor="middle" fill="#000" >CD8</text>
<path d="M48.72,365.80 L48.72,359.95 C48.72,354.10 50.92,352.80 54.22,352.80 C57.52,352.80 59.72,354.10 59.72,359.95 L59.72,365.80Z" fill="rgb(214,214,214)" stroke="#707070" stroke-width="0.55"/>
<path d="M50.06,365.80 L50.06,360.89 C50.06,355.97 51.82,354.88 54.46,354.88 C57.10,354.88 58.86,355.97 58.86,360.89 L58.86,365.80Z" fill="rgb(188,188,188)" stroke="#404040" stroke-width="0.55"/>
<path d="M51.53,365.80 L51.53,361.94 C51.53,358.08 52.80,357.22 54.72,357.22 C56.63,357.22 57.91,358.08 57.91,361.94 L57.91,365.80Z" fill="rgb(165,165,165)" stroke="#2a2a2a" stroke-width="0.55"/>
<path d="M52.68,365.80 L52.68,363.11 C52.68,360.42 53.48,359.82 54.66,359.82 C55.85,359.82 56.64,360.42 56.64,363.11 L56.64,365.80Z" fill="rgb(150,150,150)" stroke="#222" stroke-width="0.55"/>
<line x1="52.26" y1="357.61" x2="52.62" y2="365.3" stroke="#666" stroke-width="0.5" />
<line x1="53.71" y1="358.99" x2="53.66" y2="365.3" stroke="#666" stroke-width="0.5" />
<line x1="54.87" y1="355.66" x2="55.41" y2="365.3" stroke="#666" stroke-width="0.5" />
<line x1="56.81" y1="358.09" x2="57.13" y2="365.3" stroke="#666" stroke-width="0.5" />
<path d="M49.88,365.80 Q51.75,362.60 53.62,365.80 Q55.82,363.00 58.90,365.80Z" fill="#1c1c1c"/>
<line x1="49.55" y1="365.2" x2="59.45" y2="365.2" stroke="#222" stroke-width="1.2" />
<path d="M56.70,359.95 L56.43,361.05 L55.86,361.96 L55.01,362.59 L54.01,362.48 L53.16,361.94 L52.53,361.07 L52.30,359.95 L52.47,358.79 L53.12,357.90 L54.03,357.52 L54.99,357.41 L55.90,357.88 L56.50,358.81Z" fill="#777" stroke="#111" stroke-width="1.4"/>
<path d="M53.78,346.82 L53.20,347.76 L52.29,348.25 L51.32,348.34 L50.44,348.00 L49.53,347.47 L49.47,346.35 L49.64,345.32 L50.19,344.44 L50.99,343.78 L52.00,343.60 L52.96,343.94 L53.39,344.88 L53.90,345.74Z" fill="none" stroke="#aaa" stroke-width="0.5"/>
<path d="M31,318.8 L78,318.8 L78,365.8" fill="none" stroke="#b0b0b0" stroke-width="0.9"/>
<path d="M31,318.8 L31,365.8 L78,365.8" fill="none" stroke="#6e6e6e" stroke-width="0.9"/>
<line x1="31" y1="357.97" x2="32.2" y2="357.97" stroke="#6e6e6e" stroke-width="0.6"/>
<line x1="38.83" y1="365.8" x2="38.83" y2="364.6" stroke="#6e6e6e" stroke-width="0.6"/>
<line x1="31" y1="350.13" x2="32.2" y2="350.13" stroke="#6e6e6e" stroke-width="0.6"/>
<line x1="46.67" y1="365.8" x2="46.67" y2="364.6" stroke="#6e6e6e" stroke-width="0.6"/>
<line x1="31" y1="342.30" x2="32.2" y2="342.30" stroke="#6e6e6e" stroke-width="0.6"/>
<line x1="54.50" y1="365.8" x2="54.50" y2="364.6" stroke="#6e6e6e" stroke-width="0.6"/>
<line x1="31" y1="334.47" x2="32.2" y2="334.47" stroke="#6e6e6e" stroke-width="0.6"/>
<line x1="62.33" y1="365.8" x2="62.33" y2="364.6" stroke="#6e6e6e" stroke-width="0.6"/>
<line x1="31" y1="326.63" x2="32.2" y2="326.63" stroke="#6e6e6e" stroke-width="0.6"/>
<line x1="70.17" y1="365.8" x2="70.17" y2="364.6" stroke="#6e6e6e" stroke-width="0.6"/>
<rect x="42.7" y="336" width="15.899999999999999" height="16.100000000000023" fill="none" stroke="#7c7c7c" stroke-width="0.9"/>
<text x="37" y="341.09999999999997" font-size="5.2" font-weight="bold" text-anchor="middle" fill="#000" >7.85</text>
<path d="M112.35,358.80 C112.31,360.81 112.51,359.96 111.80,361.78 C111.09,363.59 111.52,362.86 110.22,364.24 C108.91,365.61 109.59,365.37 107.89,365.90 C106.19,366.43 106.75,366.48 105.13,365.82 C103.50,365.16 104.34,365.24 103.01,363.91 C101.67,362.58 102.00,363.53 101.11,361.83 C100.23,360.12 100.39,360.84 100.35,358.80 C100.31,356.76 100.19,357.54 100.99,355.70 C101.78,353.87 101.32,354.44 102.73,353.29 C104.15,352.14 103.53,352.62 105.22,352.25 C106.91,351.87 106.04,351.93 107.80,352.17 C109.55,352.41 109.11,351.77 110.49,352.97 C111.86,354.16 111.30,353.81 111.92,355.75 C112.55,357.70 112.39,356.79 112.35,358.80Z" fill="rgb(215,215,215)" fill-opacity="1.0" stroke="rgb(96,96,96)" stroke-width="0.45"/>
<path d="M111.99,358.80 C111.92,360.56 111.87,359.85 111.07,361.37 C110.28,362.89 110.74,362.15 109.61,363.35 C108.49,364.56 109.14,364.46 107.71,364.97 C106.27,365.49 106.81,365.36 105.31,364.91 C103.81,364.45 104.36,364.78 103.21,363.62 C102.05,362.45 102.42,363.02 101.85,361.41 C101.28,359.81 101.57,360.59 101.49,358.80 C101.42,357.01 101.09,357.73 101.61,356.05 C102.14,354.38 101.81,354.78 103.07,353.78 C104.32,352.77 103.85,353.30 105.37,353.03 C106.90,352.76 106.18,352.63 107.64,352.96 C109.10,353.30 108.53,353.00 109.75,354.04 C110.98,355.09 110.56,354.51 111.31,356.10 C112.06,357.68 112.07,357.04 111.99,358.80Z" fill="rgb(188,188,188)" fill-opacity="1.0" stroke="rgb(84,84,84)" stroke-width="0.45"/>
<path d="M111.16,358.80 C111.23,360.29 111.19,359.70 110.59,361.10 C110.00,362.50 110.42,362.12 109.38,363.01 C108.34,363.90 108.75,363.54 107.47,363.77 C106.19,363.99 106.83,363.94 105.54,363.70 C104.25,363.46 104.70,363.87 103.60,363.04 C102.51,362.20 102.73,362.60 102.25,361.19 C101.77,359.77 102.08,360.35 102.16,358.80 C102.23,357.25 101.95,357.88 102.48,356.54 C103.02,355.21 102.77,355.81 103.77,354.80 C104.76,353.80 104.21,353.98 105.47,353.53 C106.73,353.08 106.30,353.03 107.54,353.46 C108.79,353.90 108.28,353.77 109.22,354.83 C110.15,355.88 109.71,355.31 110.36,356.63 C111.01,357.95 111.08,357.31 111.16,358.80Z" fill="rgb(162,162,162)" fill-opacity="1.0" stroke="rgb(72,72,72)" stroke-width="0.45"/>
<path d="M110.08,358.80 C110.15,360.07 110.42,359.63 110.00,360.77 C109.59,361.91 109.72,361.40 108.84,362.22 C107.96,363.05 108.41,363.03 107.37,363.24 C106.32,363.46 106.75,363.24 105.70,362.87 C104.66,362.49 105.13,362.82 104.24,362.11 C103.34,361.41 103.57,361.86 103.02,360.76 C102.47,359.65 102.50,360.06 102.58,358.80 C102.65,357.54 102.72,358.11 103.25,356.97 C103.77,355.83 103.34,356.13 104.16,355.38 C104.98,354.63 104.63,355.06 105.70,354.71 C106.77,354.36 106.30,354.15 107.37,354.34 C108.44,354.52 108.11,354.40 108.91,355.27 C109.71,356.14 109.39,355.78 109.78,356.96 C110.17,358.14 110.00,357.53 110.08,358.80Z" fill="rgb(136,136,136)" fill-opacity="1.0" stroke="rgb(61,61,61)" stroke-width="0.45"/>
<path d="M109.44,358.80 C109.48,359.83 109.63,359.43 109.30,360.37 C108.96,361.32 109.16,361.07 108.44,361.64 C107.72,362.20 108.00,361.92 107.14,362.07 C106.28,362.22 106.72,362.22 105.86,362.08 C105.00,361.93 105.25,362.23 104.56,361.65 C103.86,361.06 104.14,361.28 103.77,360.33 C103.40,359.38 103.40,359.80 103.44,358.80 C103.48,357.80 103.47,358.21 103.89,357.33 C104.31,356.46 104.06,356.86 104.70,356.16 C105.34,355.47 104.97,355.55 105.80,355.25 C106.64,354.94 106.36,354.94 107.19,355.25 C108.02,355.56 107.64,355.49 108.30,356.17 C108.96,356.85 108.80,356.42 109.18,357.30 C109.56,358.17 109.40,357.77 109.44,358.80Z" fill="rgb(110,110,110)" fill-opacity="1.0" stroke="rgb(49,49,49)" stroke-width="0.45"/>
<path d="M109.68,358.80 L109.33,360.27 L108.47,361.45 L107.16,361.92 L105.80,362.12 L104.51,361.49 L103.68,360.26 L103.44,358.80 L103.71,357.35 L104.57,356.20 L105.77,355.37 L107.18,355.57 L108.40,356.24 L109.30,357.35Z" fill="#888" stroke="#111" stroke-width="1.8"/>
<circle cx="106.90" cy="358.80" r="1.1" fill="#f2f2f2"/>
<path d="M107.02,345.90 L106.38,346.72 L105.59,347.34 L104.58,347.71 L103.70,347.17 L103.10,346.39 L102.77,345.45 L102.88,344.40 L103.36,343.41 L104.29,342.88 L105.26,342.98 L106.22,343.11 L106.96,343.80 L107.20,344.84Z" fill="none" stroke="#aaa" stroke-width="0.5"/>
<path d="M83.8,318.8 L129.8,318.8 L129.8,365.8" fill="none" stroke="#b0b0b0" stroke-width="0.9"/>
<path d="M83.8,318.8 L83.8,365.8 L129.8,365.8" fill="none" stroke="#6e6e6e" stroke-width="0.9"/>
<line x1="83.8" y1="357.97" x2="85.0" y2="357.97" stroke="#6e6e6e" stroke-width="0.6"/>
<line x1="91.47" y1="365.8" x2="91.47" y2="364.6" stroke="#6e6e6e" stroke-width="0.6"/>
<line x1="83.8" y1="350.13" x2="85.0" y2="350.13" stroke="#6e6e6e" stroke-width="0.6"/>
<line x1="99.13" y1="365.8" x2="99.13" y2="364.6" stroke="#6e6e6e" stroke-width="0.6"/>
<line x1="83.8" y1="342.30" x2="85.0" y2="342.30" stroke="#6e6e6e" stroke-width="0.6"/>
<line x1="106.80" y1="365.8" x2="106.80" y2="364.6" stroke="#6e6e6e" stroke-width="0.6"/>
<line x1="83.8" y1="334.47" x2="85.0" y2="334.47" stroke="#6e6e6e" stroke-width="0.6"/>
<line x1="114.47" y1="365.8" x2="114.47" y2="364.6" stroke="#6e6e6e" stroke-width="0.6"/>
<line x1="83.8" y1="326.63" x2="85.0" y2="326.63" stroke="#6e6e6e" stroke-width="0.6"/>
<line x1="122.13" y1="365.8" x2="122.13" y2="364.6" stroke="#6e6e6e" stroke-width="0.6"/>
<rect x="96.3" y="335" width="15.299999999999997" height="16.30000000000001" fill="none" stroke="#7c7c7c" stroke-width="0.9"/>
<text x="89.6" y="340.09999999999997" font-size="5.2" font-weight="bold" text-anchor="middle" fill="#000" >2.94</text>
<path d="M152.52,365.80 L152.52,359.95 C152.52,354.10 154.92,352.80 158.52,352.80 C162.12,352.80 164.52,354.10 164.52,359.95 L164.52,365.80Z" fill="rgb(214,214,214)" stroke="#707070" stroke-width="0.55"/>
<path d="M154.09,365.80 L154.09,360.89 C154.09,355.97 156.01,354.88 158.89,354.88 C161.77,354.88 163.69,355.97 163.69,360.89 L163.69,365.80Z" fill="rgb(188,188,188)" stroke="#404040" stroke-width="0.55"/>
<path d="M155.06,365.80 L155.06,361.94 C155.06,358.08 156.45,357.22 158.54,357.22 C160.62,357.22 162.02,358.08 162.02,361.94 L162.02,365.80Z" fill="rgb(165,165,165)" stroke="#2a2a2a" stroke-width="0.55"/>
<path d="M156.81,365.80 L156.81,363.11 C156.81,360.42 157.67,359.82 158.97,359.82 C160.27,359.82 161.13,360.42 161.13,363.11 L161.13,365.80Z" fill="rgb(150,150,150)" stroke="#222" stroke-width="0.55"/>
<line x1="156.21" y1="357.80" x2="156.35" y2="365.3" stroke="#666" stroke-width="0.5" />
<line x1="157.97" y1="359.13" x2="158.00" y2="365.3" stroke="#666" stroke-width="0.5" />
<line x1="159.82" y1="357.27" x2="160.28" y2="365.3" stroke="#666" stroke-width="0.5" />
<line x1="161.74" y1="357.83" x2="161.41" y2="365.3" stroke="#666" stroke-width="0.5" />
<path d="M153.76,365.80 Q155.80,362.60 157.84,365.80 Q160.24,363.00 163.60,365.80Z" fill="#1c1c1c"/>
<line x1="153.4" y1="365.2" x2="164.20000000000002" y2="365.2" stroke="#222" stroke-width="1.2" />
<path d="M159.47,346.55 L157.63,348.49 L155.67,349.74 L154.24,349.36 L152.70,349.15 L152.21,347.48 L152.87,345.13 L154.23,342.88 L155.89,340.92 L157.78,339.77 L159.78,338.96 L160.58,340.39 L160.86,342.08 L160.58,344.17Z" fill="none" stroke="#6a6a6a" stroke-width="0.5"/>
<path d="M158.29,345.73 L157.29,347.01 L156.09,347.74 L155.12,347.71 L154.58,347.06 L153.99,346.37 L154.41,344.94 L155.15,343.53 L156.25,342.47 L157.36,341.76 L158.45,341.47 L159.31,341.80 L159.18,343.14 L159.03,344.37Z" fill="none" stroke="#6a6a6a" stroke-width="0.5"/>
<path d="M136.8,318.8 L184,318.8 L184,365.8" fill="none" stroke="#b0b0b0" stroke-width="0.9"/>
<path d="M136.8,318.8 L136.8,365.8 L184,365.8" fill="none" stroke="#6e6e6e" stroke-width="0.9"/>
<line x1="136.8" y1="357.97" x2="138.0" y2="357.97" stroke="#6e6e6e" stroke-width="0.6"/>
<line x1="144.67" y1="365.8" x2="144.67" y2="364.6" stroke="#6e6e6e" stroke-width="0.6"/>
<line x1="136.8" y1="350.13" x2="138.0" y2="350.13" stroke="#6e6e6e" stroke-width="0.6"/>
<line x1="152.53" y1="365.8" x2="152.53" y2="364.6" stroke="#6e6e6e" stroke-width="0.6"/>
<line x1="136.8" y1="342.30" x2="138.0" y2="342.30" stroke="#6e6e6e" stroke-width="0.6"/>
<line x1="160.40" y1="365.8" x2="160.40" y2="364.6" stroke="#6e6e6e" stroke-width="0.6"/>
<line x1="136.8" y1="334.47" x2="138.0" y2="334.47" stroke="#6e6e6e" stroke-width="0.6"/>
<line x1="168.27" y1="365.8" x2="168.27" y2="364.6" stroke="#6e6e6e" stroke-width="0.6"/>
<line x1="136.8" y1="326.63" x2="138.0" y2="326.63" stroke="#6e6e6e" stroke-width="0.6"/>
<line x1="176.13" y1="365.8" x2="176.13" y2="364.6" stroke="#6e6e6e" stroke-width="0.6"/>
<rect x="148.3" y="336" width="16.299999999999983" height="15.699999999999989" fill="none" stroke="#7c7c7c" stroke-width="0.9"/>
<text x="142.1" y="341.09999999999997" font-size="5.2" font-weight="bold" text-anchor="middle" fill="#000" >7.06</text>
<path d="M202.78,365.80 L202.78,359.05 C202.78,352.30 205.38,350.80 209.28,350.80 C213.18,350.80 215.78,352.30 215.78,359.05 L215.78,365.80Z" fill="rgb(214,214,214)" stroke="#707070" stroke-width="0.55"/>
<path d="M203.67,365.80 L203.67,360.13 C203.67,354.46 205.75,353.20 208.87,353.20 C211.99,353.20 214.07,354.46 214.07,360.13 L214.07,365.80Z" fill="rgb(188,188,188)" stroke="#404040" stroke-width="0.55"/>
<path d="M205.31,365.80 L205.31,361.35 C205.31,356.89 206.81,355.90 209.08,355.90 C211.34,355.90 212.85,356.89 212.85,361.35 L212.85,365.80Z" fill="rgb(165,165,165)" stroke="#2a2a2a" stroke-width="0.55"/>
<path d="M206.75,365.80 L206.75,362.69 C206.75,359.59 207.68,358.90 209.09,358.90 C210.49,358.90 211.43,359.59 211.43,362.69 L211.43,365.80Z" fill="rgb(150,150,150)" stroke="#222" stroke-width="0.55"/>
<line x1="205.69" y1="357.95" x2="205.81" y2="365.3" stroke="#666" stroke-width="0.5" />
<line x1="207.55" y1="356.58" x2="208.01" y2="365.3" stroke="#666" stroke-width="0.5" />
<line x1="210.25" y1="357.77" x2="209.75" y2="365.3" stroke="#666" stroke-width="0.5" />
<line x1="211.55" y1="354.57" x2="210.98" y2="365.3" stroke="#666" stroke-width="0.5" />
<path d="M203.44,365.80 Q205.65,362.60 207.86,365.80 Q210.46,363.00 214.10,365.80Z" fill="#1c1c1c"/>
<line x1="203.05" y1="365.2" x2="214.75" y2="365.2" stroke="#222" stroke-width="1.2" />
<path d="M211.82,343.05 L210.15,345.18 L208.16,346.41 L206.53,346.35 L205.64,345.27 L204.64,344.12 L205.35,341.73 L206.58,339.38 L208.42,337.61 L210.27,336.43 L212.08,335.95 L213.51,336.51 L213.29,338.73 L213.06,340.78Z" fill="none" stroke="#6a6a6a" stroke-width="0.5"/>
<path d="M210.74,342.29 L209.82,343.74 L208.62,344.23 L207.62,344.31 L206.97,343.78 L206.64,342.88 L206.86,341.55 L207.59,340.09 L208.78,339.19 L209.89,338.25 L210.95,338.07 L211.70,338.52 L211.83,339.64 L211.49,340.97Z" fill="none" stroke="#6a6a6a" stroke-width="0.5"/>
<path d="M189.5,318.8 L236.5,318.8 L236.5,365.8" fill="none" stroke="#b0b0b0" stroke-width="0.9"/>
<path d="M189.5,318.8 L189.5,365.8 L236.5,365.8" fill="none" stroke="#6e6e6e" stroke-width="0.9"/>
<line x1="189.5" y1="357.97" x2="190.7" y2="357.97" stroke="#6e6e6e" stroke-width="0.6"/>
<line x1="197.33" y1="365.8" x2="197.33" y2="364.6" stroke="#6e6e6e" stroke-width="0.6"/>
<line x1="189.5" y1="350.13" x2="190.7" y2="350.13" stroke="#6e6e6e" stroke-width="0.6"/>
<line x1="205.17" y1="365.8" x2="205.17" y2="364.6" stroke="#6e6e6e" stroke-width="0.6"/>
<line x1="189.5" y1="342.30" x2="190.7" y2="342.30" stroke="#6e6e6e" stroke-width="0.6"/>
<line x1="213.00" y1="365.8" x2="213.00" y2="364.6" stroke="#6e6e6e" stroke-width="0.6"/>
<line x1="189.5" y1="334.47" x2="190.7" y2="334.47" stroke="#6e6e6e" stroke-width="0.6"/>
<line x1="220.83" y1="365.8" x2="220.83" y2="364.6" stroke="#6e6e6e" stroke-width="0.6"/>
<line x1="189.5" y1="326.63" x2="190.7" y2="326.63" stroke="#6e6e6e" stroke-width="0.6"/>
<line x1="228.67" y1="365.8" x2="228.67" y2="364.6" stroke="#6e6e6e" stroke-width="0.6"/>
<rect x="201.3" y="332.3" width="15.299999999999983" height="16.30000000000001" fill="none" stroke="#7c7c7c" stroke-width="0.9"/>
<text x="194.5" y="337.2" font-size="5.2" font-weight="bold" text-anchor="middle" fill="#000" >7.68</text>
<path d="M257.67,365.80 L257.67,358.60 C257.67,351.40 260.47,349.80 264.67,349.80 C268.87,349.80 271.67,351.40 271.67,358.60 L271.67,365.80Z" fill="rgb(214,214,214)" stroke="#707070" stroke-width="0.55"/>
<path d="M259.00,365.80 L259.00,359.75 C259.00,353.70 261.24,352.36 264.60,352.36 C267.96,352.36 270.20,353.70 270.20,359.75 L270.20,365.80Z" fill="rgb(188,188,188)" stroke="#404040" stroke-width="0.55"/>
<path d="M260.43,365.80 L260.43,361.05 C260.43,356.30 262.05,355.24 264.49,355.24 C266.92,355.24 268.55,356.30 268.55,361.05 L268.55,365.80Z" fill="rgb(165,165,165)" stroke="#2a2a2a" stroke-width="0.55"/>
<path d="M261.56,365.80 L261.56,362.49 C261.56,359.18 262.57,358.44 264.08,358.44 C265.59,358.44 266.60,359.18 266.60,362.49 L266.60,365.80Z" fill="rgb(150,150,150)" stroke="#222" stroke-width="0.55"/>
<line x1="260.98" y1="354.37" x2="261.35" y2="365.3" stroke="#666" stroke-width="0.5" />
<line x1="262.77" y1="357.00" x2="263.24" y2="365.3" stroke="#666" stroke-width="0.5" />
<line x1="264.97" y1="354.65" x2="264.76" y2="365.3" stroke="#666" stroke-width="0.5" />
<line x1="267.60" y1="353.66" x2="267.69" y2="365.3" stroke="#666" stroke-width="0.5" />
<path d="M258.42,365.80 Q260.80,362.60 263.18,365.80 Q265.98,363.00 269.90,365.80Z" fill="#1c1c1c"/>
<line x1="258.0" y1="365.2" x2="270.6" y2="365.2" stroke="#222" stroke-width="1.2" />
<path d="M266.78,343.19 L265.25,345.59 L263.25,346.42 L261.59,346.54 L260.51,345.67 L259.96,344.16 L260.32,341.94 L261.54,339.52 L263.51,338.02 L265.36,336.45 L267.13,336.14 L268.38,336.90 L268.61,338.76 L268.03,340.99Z" fill="none" stroke="#6a6a6a" stroke-width="0.5"/>
<path d="M265.83,342.52 L264.83,343.76 L263.64,344.56 L262.59,344.66 L262.17,343.82 L261.64,343.11 L261.93,341.74 L262.68,340.32 L263.79,339.22 L264.91,338.57 L265.92,338.42 L266.90,338.56 L266.83,339.87 L266.56,341.17Z" fill="none" stroke="#6a6a6a" stroke-width="0.5"/>
<path d="M244.3,318.8 L291.8,318.8 L291.8,365.8" fill="none" stroke="#b0b0b0" stroke-width="0.9"/>
<path d="M244.3,318.8 L244.3,365.8 L291.8,365.8" fill="none" stroke="#6e6e6e" stroke-width="0.9"/>
<line x1="244.3" y1="357.97" x2="245.5" y2="357.97" stroke="#6e6e6e" stroke-width="0.6"/>
<line x1="252.22" y1="365.8" x2="252.22" y2="364.6" stroke="#6e6e6e" stroke-width="0.6"/>
<line x1="244.3" y1="350.13" x2="245.5" y2="350.13" stroke="#6e6e6e" stroke-width="0.6"/>
<line x1="260.13" y1="365.8" x2="260.13" y2="364.6" stroke="#6e6e6e" stroke-width="0.6"/>
<line x1="244.3" y1="342.30" x2="245.5" y2="342.30" stroke="#6e6e6e" stroke-width="0.6"/>
<line x1="268.05" y1="365.8" x2="268.05" y2="364.6" stroke="#6e6e6e" stroke-width="0.6"/>
<line x1="244.3" y1="334.47" x2="245.5" y2="334.47" stroke="#6e6e6e" stroke-width="0.6"/>
<line x1="275.97" y1="365.8" x2="275.97" y2="364.6" stroke="#6e6e6e" stroke-width="0.6"/>
<line x1="244.3" y1="326.63" x2="245.5" y2="326.63" stroke="#6e6e6e" stroke-width="0.6"/>
<line x1="283.88" y1="365.8" x2="283.88" y2="364.6" stroke="#6e6e6e" stroke-width="0.6"/>
<rect x="256.2" y="332.9" width="15.600000000000023" height="15.5" fill="none" stroke="#7c7c7c" stroke-width="0.9"/>
<text x="250.2" y="337.5" font-size="5.2" font-weight="bold" text-anchor="middle" fill="#000" >7.04</text>
<path d="M48.85,417.60 L48.85,412.20 C48.85,406.80 51.05,405.60 54.35,405.60 C57.65,405.60 59.85,406.80 59.85,412.20 L59.85,417.60Z" fill="rgb(214,214,214)" stroke="#707070" stroke-width="0.55"/>
<path d="M49.51,417.60 L49.51,413.06 C49.51,408.53 51.27,407.52 53.91,407.52 C56.55,407.52 58.31,408.53 58.31,413.06 L58.31,417.60Z" fill="rgb(188,188,188)" stroke="#404040" stroke-width="0.55"/>
<path d="M51.07,417.60 L51.07,414.04 C51.07,410.47 52.34,409.68 54.26,409.68 C56.17,409.68 57.45,410.47 57.45,414.04 L57.45,417.60Z" fill="rgb(165,165,165)" stroke="#2a2a2a" stroke-width="0.55"/>
<path d="M51.82,417.60 L51.82,415.12 C51.82,412.63 52.61,412.08 53.80,412.08 C54.99,412.08 55.78,412.63 55.78,415.12 L55.78,417.60Z" fill="rgb(150,150,150)" stroke="#222" stroke-width="0.55"/>
<line x1="51.51" y1="410.61" x2="51.56" y2="417.1" stroke="#666" stroke-width="0.5" />
<line x1="52.75" y1="410.10" x2="52.53" y2="417.1" stroke="#666" stroke-width="0.5" />
<line x1="54.37" y1="408.66" x2="54.86" y2="417.1" stroke="#666" stroke-width="0.5" />
<line x1="56.13" y1="409.32" x2="56.16" y2="417.1" stroke="#666" stroke-width="0.5" />
<path d="M49.38,417.60 Q51.25,414.40 53.12,417.60 Q55.32,414.80 58.40,417.60Z" fill="#1c1c1c"/>
<line x1="49.05" y1="417.0" x2="58.95" y2="417.0" stroke="#222" stroke-width="1.2" />
<path d="M53.98,398.74 L53.50,399.70 L52.62,400.32 L51.61,400.37 L50.81,399.84 L49.93,399.35 L49.68,398.31 L49.84,397.23 L50.49,396.39 L51.33,395.85 L52.29,395.64 L53.33,395.78 L53.79,396.77 L54.11,397.71Z" fill="none" stroke="#aaa" stroke-width="0.5"/>
<path d="M31,370.6 L78,370.6 L78,417.6" fill="none" stroke="#b0b0b0" stroke-width="0.9"/>
<path d="M31,370.6 L31,417.6 L78,417.6" fill="none" stroke="#6e6e6e" stroke-width="0.9"/>
<line x1="31" y1="409.77" x2="32.2" y2="409.77" stroke="#6e6e6e" stroke-width="0.6"/>
<line x1="38.83" y1="417.6" x2="38.83" y2="416.40000000000003" stroke="#6e6e6e" stroke-width="0.6"/>
<line x1="31" y1="401.93" x2="32.2" y2="401.93" stroke="#6e6e6e" stroke-width="0.6"/>
<line x1="46.67" y1="417.6" x2="46.67" y2="416.40000000000003" stroke="#6e6e6e" stroke-width="0.6"/>
<line x1="31" y1="394.10" x2="32.2" y2="394.10" stroke="#6e6e6e" stroke-width="0.6"/>
<line x1="54.50" y1="417.6" x2="54.50" y2="416.40000000000003" stroke="#6e6e6e" stroke-width="0.6"/>
<line x1="31" y1="386.27" x2="32.2" y2="386.27" stroke="#6e6e6e" stroke-width="0.6"/>
<line x1="62.33" y1="417.6" x2="62.33" y2="416.40000000000003" stroke="#6e6e6e" stroke-width="0.6"/>
<line x1="31" y1="378.43" x2="32.2" y2="378.43" stroke="#6e6e6e" stroke-width="0.6"/>
<line x1="70.17" y1="417.6" x2="70.17" y2="416.40000000000003" stroke="#6e6e6e" stroke-width="0.6"/>
<rect x="43.3" y="388" width="15.300000000000004" height="16" fill="none" stroke="#7c7c7c" stroke-width="0.9"/>
<text x="37" y="392.5" font-size="5.2" font-weight="bold" text-anchor="middle" fill="#000" >3.15</text>
<path d="M112.08,410.10 C111.99,412.29 112.19,411.47 111.26,413.30 C110.34,415.13 110.71,414.08 109.30,415.60 C107.89,417.11 108.79,417.20 107.03,417.85 C105.28,418.49 105.88,418.17 104.03,417.53 C102.18,416.89 102.88,417.35 101.47,415.93 C100.07,414.50 100.62,415.20 99.82,413.25 C99.02,411.31 99.17,412.25 99.08,410.10 C98.99,407.95 98.85,408.87 99.55,406.79 C100.26,404.72 99.66,405.06 101.19,403.87 C102.72,402.68 102.23,403.55 104.14,403.23 C106.05,402.90 105.11,402.58 106.92,402.91 C108.74,403.23 108.04,402.92 109.58,404.20 C111.12,405.48 110.70,404.78 111.54,406.75 C112.37,408.71 112.17,407.91 112.08,410.10Z" fill="rgb(215,215,215)" fill-opacity="1.0" stroke="rgb(96,96,96)" stroke-width="0.45"/>
<path d="M111.09,410.10 C111.21,411.97 111.40,411.27 110.74,413.01 C110.07,414.75 110.41,414.08 109.10,415.31 C107.79,416.53 108.40,416.42 106.80,416.69 C105.21,416.95 105.91,416.63 104.31,416.12 C102.71,415.60 103.40,416.16 102.01,415.15 C100.62,414.14 100.90,414.77 100.13,413.08 C99.37,411.40 99.60,412.02 99.72,410.10 C99.84,408.18 99.73,409.00 100.49,407.32 C101.25,405.63 100.75,406.19 102.01,405.05 C103.27,403.91 102.66,404.47 104.27,403.89 C105.88,403.31 105.23,402.99 106.84,403.32 C108.45,403.65 107.92,403.53 109.10,404.89 C110.28,406.24 109.72,405.65 110.38,407.39 C111.04,409.13 110.97,408.23 111.09,410.10Z" fill="rgb(188,188,188)" fill-opacity="1.0" stroke="rgb(84,84,84)" stroke-width="0.45"/>
<path d="M110.16,410.10 C110.11,411.75 110.42,411.08 109.86,412.52 C109.30,413.97 109.57,413.33 108.49,414.43 C107.41,415.52 108.00,415.36 106.63,415.80 C105.26,416.24 105.72,416.25 104.38,415.74 C103.04,415.24 103.66,415.38 102.61,414.28 C101.56,413.19 101.97,413.86 101.24,412.47 C100.51,411.07 100.47,411.71 100.41,410.10 C100.36,408.49 100.41,409.13 101.08,407.64 C101.74,406.15 101.28,406.57 102.41,405.63 C103.54,404.70 103.08,405.12 104.46,404.83 C105.84,404.55 105.14,404.56 106.55,404.77 C107.96,404.99 107.53,404.55 108.69,405.49 C109.84,406.43 109.53,406.05 110.03,407.58 C110.52,409.12 110.22,408.45 110.16,410.10Z" fill="rgb(162,162,162)" fill-opacity="1.0" stroke="rgb(72,72,72)" stroke-width="0.45"/>
<path d="M109.67,410.10 C109.73,411.42 109.66,410.85 109.16,412.13 C108.66,413.41 109.09,413.15 108.16,413.94 C107.23,414.73 107.55,414.33 106.37,414.51 C105.20,414.68 105.79,414.70 104.63,414.48 C103.48,414.26 103.91,414.59 102.92,413.84 C101.92,413.09 102.12,413.48 101.66,412.24 C101.20,410.99 101.48,411.49 101.54,410.10 C101.60,408.71 101.32,409.23 101.84,408.07 C102.36,406.90 102.18,407.51 103.09,406.61 C104.00,405.71 103.45,405.79 104.56,405.37 C105.68,404.94 105.30,404.96 106.44,405.34 C107.58,405.72 107.14,405.57 107.98,406.51 C108.83,407.45 108.42,406.97 108.98,408.17 C109.54,409.36 109.61,408.78 109.67,410.10Z" fill="rgb(136,136,136)" fill-opacity="1.0" stroke="rgb(61,61,61)" stroke-width="0.45"/>
<path d="M108.76,410.10 C108.86,411.20 109.06,410.89 108.63,411.84 C108.20,412.79 108.28,412.34 107.47,412.95 C106.66,413.55 107.10,413.40 106.20,413.66 C105.31,413.92 105.71,413.91 104.78,413.72 C103.86,413.52 104.22,413.72 103.44,413.08 C102.67,412.43 102.86,412.78 102.46,411.79 C102.07,410.80 102.15,411.17 102.26,410.10 C102.36,409.03 102.39,409.59 102.77,408.59 C103.16,407.58 102.75,407.83 103.41,407.08 C104.07,406.34 103.82,406.58 104.76,406.35 C105.70,406.12 105.32,406.12 106.23,406.41 C107.14,406.69 106.80,406.50 107.49,407.21 C108.19,407.92 107.90,407.57 108.32,408.53 C108.74,409.50 108.65,409.00 108.76,410.10Z" fill="rgb(110,110,110)" fill-opacity="1.0" stroke="rgb(49,49,49)" stroke-width="0.45"/>
<path d="M108.82,410.10 L108.50,411.64 L107.59,412.89 L106.26,413.64 L104.73,413.69 L103.39,412.92 L102.59,411.59 L102.06,410.10 L102.41,408.52 L103.37,407.26 L104.75,406.62 L106.23,406.67 L107.60,407.29 L108.68,408.47Z" fill="#888" stroke="#111" stroke-width="1.8"/>
<circle cx="105.90" cy="410.10" r="1.1" fill="#f2f2f2"/>
<path d="M107.47,394.69 L106.97,395.62 L106.12,396.25 L105.09,396.42 L104.29,395.83 L103.56,395.21 L103.12,394.27 L103.34,393.18 L103.95,392.31 L104.82,391.78 L105.77,391.69 L106.81,391.76 L107.43,392.63 L107.56,393.66Z" fill="none" stroke="#aaa" stroke-width="0.5"/>
<path d="M83.8,370.6 L129.8,370.6 L129.8,417.6" fill="none" stroke="#b0b0b0" stroke-width="0.9"/>
<path d="M83.8,370.6 L83.8,417.6 L129.8,417.6" fill="none" stroke="#6e6e6e" stroke-width="0.9"/>
<line x1="83.8" y1="409.77" x2="85.0" y2="409.77" stroke="#6e6e6e" stroke-width="0.6"/>
<line x1="91.47" y1="417.6" x2="91.47" y2="416.40000000000003" stroke="#6e6e6e" stroke-width="0.6"/>
<line x1="83.8" y1="401.93" x2="85.0" y2="401.93" stroke="#6e6e6e" stroke-width="0.6"/>
<line x1="99.13" y1="417.6" x2="99.13" y2="416.40000000000003" stroke="#6e6e6e" stroke-width="0.6"/>
<line x1="83.8" y1="394.10" x2="85.0" y2="394.10" stroke="#6e6e6e" stroke-width="0.6"/>
<line x1="106.80" y1="417.6" x2="106.80" y2="416.40000000000003" stroke="#6e6e6e" stroke-width="0.6"/>
<line x1="83.8" y1="386.27" x2="85.0" y2="386.27" stroke="#6e6e6e" stroke-width="0.6"/>
<line x1="114.47" y1="417.6" x2="114.47" y2="416.40000000000003" stroke="#6e6e6e" stroke-width="0.6"/>
<line x1="83.8" y1="378.43" x2="85.0" y2="378.43" stroke="#6e6e6e" stroke-width="0.6"/>
<line x1="122.13" y1="417.6" x2="122.13" y2="416.40000000000003" stroke="#6e6e6e" stroke-width="0.6"/>
<rect x="97.3" y="384.3" width="14.299999999999997" height="15.300000000000011" fill="none" stroke="#7c7c7c" stroke-width="0.9"/>
<text x="89.6" y="389.2" font-size="5.2" font-weight="bold" text-anchor="middle" fill="#000" >1.46</text>
<path d="M155.48,417.60 L155.48,412.20 C155.48,406.80 157.68,405.60 160.98,405.60 C164.28,405.60 166.48,406.80 166.48,412.20 L166.48,417.60Z" fill="rgb(214,214,214)" stroke="#707070" stroke-width="0.55"/>
<path d="M156.73,417.60 L156.73,413.06 C156.73,408.53 158.49,407.52 161.13,407.52 C163.77,407.52 165.53,408.53 165.53,413.06 L165.53,417.60Z" fill="rgb(188,188,188)" stroke="#404040" stroke-width="0.55"/>
<path d="M157.91,417.60 L157.91,414.04 C157.91,410.47 159.18,409.68 161.10,409.68 C163.01,409.68 164.29,410.47 164.29,414.04 L164.29,417.60Z" fill="rgb(165,165,165)" stroke="#2a2a2a" stroke-width="0.55"/>
<path d="M159.18,417.60 L159.18,415.12 C159.18,412.63 159.97,412.08 161.16,412.08 C162.35,412.08 163.14,412.63 163.14,415.12 L163.14,417.60Z" fill="rgb(150,150,150)" stroke="#222" stroke-width="0.55"/>
<line x1="158.93" y1="408.89" x2="158.52" y2="417.1" stroke="#666" stroke-width="0.5" />
<line x1="159.90" y1="409.96" x2="159.76" y2="417.1" stroke="#666" stroke-width="0.5" />
<line x1="162.29" y1="408.98" x2="162.25" y2="417.1" stroke="#666" stroke-width="0.5" />
<line x1="163.33" y1="410.78" x2="163.45" y2="417.1" stroke="#666" stroke-width="0.5" />
<path d="M156.38,417.60 Q158.25,414.40 160.12,417.60 Q162.32,414.80 165.40,417.60Z" fill="#1c1c1c"/>
<line x1="156.05" y1="417.0" x2="165.95" y2="417.0" stroke="#222" stroke-width="1.2" />
<path d="M160.78,397.92 L159.09,399.83 L157.21,401.04 L155.43,401.45 L154.13,400.73 L153.90,398.87 L154.75,396.59 L155.54,394.25 L157.36,392.25 L159.33,391.06 L160.97,391.05 L162.01,391.97 L162.55,393.47 L162.46,395.63Z" fill="none" stroke="#6a6a6a" stroke-width="0.5"/>
<path d="M159.77,397.22 L158.82,398.65 L157.63,399.08 L156.65,399.16 L155.94,398.72 L155.59,397.81 L155.87,396.45 L156.63,395.01 L157.78,394.10 L158.90,393.09 L159.97,392.92 L160.67,393.46 L160.78,394.57 L160.50,395.87Z" fill="none" stroke="#6a6a6a" stroke-width="0.5"/>
<path d="M136.8,370.6 L184,370.6 L184,417.6" fill="none" stroke="#b0b0b0" stroke-width="0.9"/>
<path d="M136.8,370.6 L136.8,417.6 L184,417.6" fill="none" stroke="#6e6e6e" stroke-width="0.9"/>
<line x1="136.8" y1="409.77" x2="138.0" y2="409.77" stroke="#6e6e6e" stroke-width="0.6"/>
<line x1="144.67" y1="417.6" x2="144.67" y2="416.40000000000003" stroke="#6e6e6e" stroke-width="0.6"/>
<line x1="136.8" y1="401.93" x2="138.0" y2="401.93" stroke="#6e6e6e" stroke-width="0.6"/>
<line x1="152.53" y1="417.6" x2="152.53" y2="416.40000000000003" stroke="#6e6e6e" stroke-width="0.6"/>
<line x1="136.8" y1="394.10" x2="138.0" y2="394.10" stroke="#6e6e6e" stroke-width="0.6"/>
<line x1="160.40" y1="417.6" x2="160.40" y2="416.40000000000003" stroke="#6e6e6e" stroke-width="0.6"/>
<line x1="136.8" y1="386.27" x2="138.0" y2="386.27" stroke="#6e6e6e" stroke-width="0.6"/>
<line x1="168.27" y1="417.6" x2="168.27" y2="416.40000000000003" stroke="#6e6e6e" stroke-width="0.6"/>
<line x1="136.8" y1="378.43" x2="138.0" y2="378.43" stroke="#6e6e6e" stroke-width="0.6"/>
<line x1="176.13" y1="417.6" x2="176.13" y2="416.40000000000003" stroke="#6e6e6e" stroke-width="0.6"/>
<rect x="150.3" y="387.4" width="15.299999999999983" height="15.900000000000034" fill="none" stroke="#7c7c7c" stroke-width="0.9"/>
<text x="142.5" y="392.5" font-size="5.2" font-weight="bold" text-anchor="middle" fill="#000" >7.06</text>
<path d="M208.12,417.60 L208.12,411.75 C208.12,405.90 210.72,404.60 214.62,404.60 C218.52,404.60 221.12,405.90 221.12,411.75 L221.12,417.60Z" fill="rgb(214,214,214)" stroke="#707070" stroke-width="0.55"/>
<path d="M210.09,417.60 L210.09,412.69 C210.09,407.77 212.17,406.68 215.29,406.68 C218.41,406.68 220.49,407.77 220.49,412.69 L220.49,417.60Z" fill="rgb(188,188,188)" stroke="#404040" stroke-width="0.55"/>
<path d="M211.41,417.60 L211.41,413.74 C211.41,409.88 212.92,409.02 215.18,409.02 C217.44,409.02 218.95,409.88 218.95,413.74 L218.95,417.60Z" fill="rgb(165,165,165)" stroke="#2a2a2a" stroke-width="0.55"/>
<path d="M212.27,417.60 L212.27,414.91 C212.27,412.22 213.21,411.62 214.61,411.62 C216.02,411.62 216.95,412.22 216.95,414.91 L216.95,417.60Z" fill="rgb(150,150,150)" stroke="#222" stroke-width="0.55"/>
<line x1="212.12" y1="410.17" x2="212.58" y2="417.1" stroke="#666" stroke-width="0.5" />
<line x1="214.38" y1="409.92" x2="214.50" y2="417.1" stroke="#666" stroke-width="0.5" />
<line x1="215.97" y1="410.00" x2="215.89" y2="417.1" stroke="#666" stroke-width="0.5" />
<line x1="217.82" y1="409.28" x2="218.36" y2="417.1" stroke="#666" stroke-width="0.5" />
<path d="M209.54,417.60 Q211.75,414.40 213.96,417.60 Q216.56,414.80 220.20,417.60Z" fill="#1c1c1c"/>
<line x1="209.15" y1="417.0" x2="220.85" y2="417.0" stroke="#222" stroke-width="1.2" />
<path d="M214.59,397.73 L213.00,400.11 L211.02,400.83 L209.38,400.96 L208.20,400.23 L207.62,398.72 L208.09,396.44 L209.34,394.06 L211.27,392.54 L213.13,390.85 L214.92,390.56 L216.08,391.46 L216.27,393.32 L215.80,395.48Z" fill="none" stroke="#6a6a6a" stroke-width="0.5"/>
<path d="M213.70,397.11 L212.59,398.31 L211.47,398.68 L210.37,399.10 L209.67,398.60 L209.34,397.64 L209.73,396.24 L210.56,394.90 L211.55,393.77 L212.74,392.69 L213.70,392.86 L214.40,393.34 L214.53,394.40 L214.35,395.66Z" fill="none" stroke="#6a6a6a" stroke-width="0.5"/>
<path d="M189.5,370.6 L236.5,370.6 L236.5,417.6" fill="none" stroke="#b0b0b0" stroke-width="0.9"/>
<path d="M189.5,370.6 L189.5,417.6 L236.5,417.6" fill="none" stroke="#6e6e6e" stroke-width="0.9"/>
<line x1="189.5" y1="409.77" x2="190.7" y2="409.77" stroke="#6e6e6e" stroke-width="0.6"/>
<line x1="197.33" y1="417.6" x2="197.33" y2="416.40000000000003" stroke="#6e6e6e" stroke-width="0.6"/>
<line x1="189.5" y1="401.93" x2="190.7" y2="401.93" stroke="#6e6e6e" stroke-width="0.6"/>
<line x1="205.17" y1="417.6" x2="205.17" y2="416.40000000000003" stroke="#6e6e6e" stroke-width="0.6"/>
<line x1="189.5" y1="394.10" x2="190.7" y2="394.10" stroke="#6e6e6e" stroke-width="0.6"/>
<line x1="213.00" y1="417.6" x2="213.00" y2="416.40000000000003" stroke="#6e6e6e" stroke-width="0.6"/>
<line x1="189.5" y1="386.27" x2="190.7" y2="386.27" stroke="#6e6e6e" stroke-width="0.6"/>
<line x1="220.83" y1="417.6" x2="220.83" y2="416.40000000000003" stroke="#6e6e6e" stroke-width="0.6"/>
<line x1="189.5" y1="378.43" x2="190.7" y2="378.43" stroke="#6e6e6e" stroke-width="0.6"/>
<line x1="228.67" y1="417.6" x2="228.67" y2="416.40000000000003" stroke="#6e6e6e" stroke-width="0.6"/>
<rect x="204.3" y="387" width="14.899999999999977" height="16.30000000000001" fill="none" stroke="#7c7c7c" stroke-width="0.9"/>
<text x="195.5" y="392.2" font-size="5.2" font-weight="bold" text-anchor="middle" fill="#000" >8.25</text>
<path d="M259.79,417.60 L259.79,411.30 C259.79,405.00 262.59,403.60 266.79,403.60 C270.99,403.60 273.79,405.00 273.79,411.30 L273.79,417.60Z" fill="rgb(214,214,214)" stroke="#707070" stroke-width="0.55"/>
<path d="M261.08,417.60 L261.08,412.31 C261.08,407.02 263.32,405.84 266.68,405.84 C270.04,405.84 272.28,407.02 272.28,412.31 L272.28,417.60Z" fill="rgb(188,188,188)" stroke="#404040" stroke-width="0.55"/>
<path d="M263.07,417.60 L263.07,413.44 C263.07,409.28 264.70,408.36 267.13,408.36 C269.57,408.36 271.19,409.28 271.19,413.44 L271.19,417.60Z" fill="rgb(165,165,165)" stroke="#2a2a2a" stroke-width="0.55"/>
<path d="M264.27,417.60 L264.27,414.70 C264.27,411.80 265.28,411.16 266.79,411.16 C268.31,411.16 269.31,411.80 269.31,414.70 L269.31,417.60Z" fill="rgb(150,150,150)" stroke="#222" stroke-width="0.55"/>
<line x1="263.97" y1="409.96" x2="264.55" y2="417.1" stroke="#666" stroke-width="0.5" />
<line x1="266.12" y1="409.36" x2="265.60" y2="417.1" stroke="#666" stroke-width="0.5" />
<line x1="268.39" y1="406.83" x2="268.19" y2="417.1" stroke="#666" stroke-width="0.5" />
<line x1="269.76" y1="406.49" x2="270.23" y2="417.1" stroke="#666" stroke-width="0.5" />
<path d="M261.12,417.60 Q263.50,414.40 265.88,417.60 Q268.68,414.80 272.60,417.60Z" fill="#1c1c1c"/>
<line x1="260.7" y1="417.0" x2="273.3" y2="417.0" stroke="#222" stroke-width="1.2" />
<path d="M268.45,396.93 L266.60,398.94 L264.74,399.54 L262.90,400.25 L261.74,399.41 L261.19,397.82 L261.83,395.48 L263.21,393.26 L264.87,391.36 L266.85,389.57 L268.44,389.85 L269.61,390.65 L269.84,392.42 L269.54,394.52Z" fill="none" stroke="#6a6a6a" stroke-width="0.5"/>
<path d="M267.29,396.11 L266.23,397.29 L265.04,398.12 L264.03,398.14 L263.47,397.48 L263.17,396.58 L263.19,395.31 L264.14,393.91 L265.18,392.75 L266.31,392.13 L267.36,391.89 L268.20,392.22 L268.36,393.34 L267.82,394.74Z" fill="none" stroke="#6a6a6a" stroke-width="0.5"/>
<path d="M244.3,370.6 L291.8,370.6 L291.8,417.6" fill="none" stroke="#b0b0b0" stroke-width="0.9"/>
<path d="M244.3,370.6 L244.3,417.6 L291.8,417.6" fill="none" stroke="#6e6e6e" stroke-width="0.9"/>
<line x1="244.3" y1="409.77" x2="245.5" y2="409.77" stroke="#6e6e6e" stroke-width="0.6"/>
<line x1="252.22" y1="417.6" x2="252.22" y2="416.40000000000003" stroke="#6e6e6e" stroke-width="0.6"/>
<line x1="244.3" y1="401.93" x2="245.5" y2="401.93" stroke="#6e6e6e" stroke-width="0.6"/>
<line x1="260.13" y1="417.6" x2="260.13" y2="416.40000000000003" stroke="#6e6e6e" stroke-width="0.6"/>
<line x1="244.3" y1="394.10" x2="245.5" y2="394.10" stroke="#6e6e6e" stroke-width="0.6"/>
<line x1="268.05" y1="417.6" x2="268.05" y2="416.40000000000003" stroke="#6e6e6e" stroke-width="0.6"/>
<line x1="244.3" y1="386.27" x2="245.5" y2="386.27" stroke="#6e6e6e" stroke-width="0.6"/>
<line x1="275.97" y1="417.6" x2="275.97" y2="416.40000000000003" stroke="#6e6e6e" stroke-width="0.6"/>
<line x1="244.3" y1="378.43" x2="245.5" y2="378.43" stroke="#6e6e6e" stroke-width="0.6"/>
<line x1="283.88" y1="417.6" x2="283.88" y2="416.40000000000003" stroke="#6e6e6e" stroke-width="0.6"/>
<rect x="257.6" y="386.8" width="15.599999999999966" height="14.800000000000011" fill="none" stroke="#7c7c7c" stroke-width="0.9"/>
<text x="251" y="391.0" font-size="5.2" font-weight="bold" text-anchor="middle" fill="#000" >6.21</text>
<path d="M48.21,469.50 L48.21,463.65 C48.21,457.80 50.61,456.50 54.21,456.50 C57.81,456.50 60.21,457.80 60.21,463.65 L60.21,469.50Z" fill="rgb(214,214,214)" stroke="#707070" stroke-width="0.55"/>
<path d="M49.15,469.50 L49.15,464.59 C49.15,459.67 51.07,458.58 53.95,458.58 C56.83,458.58 58.75,459.67 58.75,464.59 L58.75,469.50Z" fill="rgb(188,188,188)" stroke="#404040" stroke-width="0.55"/>
<path d="M51.08,469.50 L51.08,465.64 C51.08,461.78 52.47,460.92 54.56,460.92 C56.65,460.92 58.04,461.78 58.04,465.64 L58.04,469.50Z" fill="rgb(165,165,165)" stroke="#2a2a2a" stroke-width="0.55"/>
<path d="M52.15,469.50 L52.15,466.81 C52.15,464.12 53.01,463.52 54.31,463.52 C55.60,463.52 56.47,464.12 56.47,466.81 L56.47,469.50Z" fill="rgb(150,150,150)" stroke="#222" stroke-width="0.55"/>
<line x1="51.59" y1="459.33" x2="51.10" y2="469.0" stroke="#666" stroke-width="0.5" />
<line x1="53.59" y1="462.13" x2="53.29" y2="469.0" stroke="#666" stroke-width="0.5" />
<line x1="54.92" y1="460.12" x2="55.45" y2="469.0" stroke="#666" stroke-width="0.5" />
<line x1="57.11" y1="461.76" x2="56.66" y2="469.0" stroke="#666" stroke-width="0.5" />
<path d="M49.16,469.50 Q51.20,466.30 53.24,469.50 Q55.64,466.70 59.00,469.50Z" fill="#1c1c1c"/>
<line x1="48.800000000000004" y1="468.9" x2="59.6" y2="468.9" stroke="#222" stroke-width="1.2" />
<path d="M54.25,450.62 L53.58,451.42 L52.77,451.99 L51.78,452.40 L50.88,451.90 L50.27,451.11 L49.99,450.14 L50.12,449.11 L50.56,448.11 L51.48,447.53 L52.46,447.67 L53.40,447.84 L54.13,448.52 L54.43,449.54Z" fill="none" stroke="#aaa" stroke-width="0.5"/>
<path d="M31,422.3 L78,422.3 L78,469.5" fill="none" stroke="#b0b0b0" stroke-width="0.9"/>
<path d="M31,422.3 L31,469.5 L78,469.5" fill="none" stroke="#6e6e6e" stroke-width="0.9"/>
<line x1="31" y1="461.63" x2="32.2" y2="461.63" stroke="#6e6e6e" stroke-width="0.6"/>
<line x1="38.83" y1="469.5" x2="38.83" y2="468.3" stroke="#6e6e6e" stroke-width="0.6"/>
<line x1="31" y1="453.77" x2="32.2" y2="453.77" stroke="#6e6e6e" stroke-width="0.6"/>
<line x1="46.67" y1="469.5" x2="46.67" y2="468.3" stroke="#6e6e6e" stroke-width="0.6"/>
<line x1="31" y1="445.90" x2="32.2" y2="445.90" stroke="#6e6e6e" stroke-width="0.6"/>
<line x1="54.50" y1="469.5" x2="54.50" y2="468.3" stroke="#6e6e6e" stroke-width="0.6"/>
<line x1="31" y1="438.03" x2="32.2" y2="438.03" stroke="#6e6e6e" stroke-width="0.6"/>
<line x1="62.33" y1="469.5" x2="62.33" y2="468.3" stroke="#6e6e6e" stroke-width="0.6"/>
<line x1="31" y1="430.17" x2="32.2" y2="430.17" stroke="#6e6e6e" stroke-width="0.6"/>
<line x1="70.17" y1="469.5" x2="70.17" y2="468.3" stroke="#6e6e6e" stroke-width="0.6"/>
<rect x="43.3" y="440" width="15.700000000000003" height="15.699999999999989" fill="none" stroke="#7c7c7c" stroke-width="0.9"/>
<text x="37" y="444.5" font-size="5.2" font-weight="bold" text-anchor="middle" fill="#000" >3.48</text>
<path d="M110.21,462.00 C110.26,464.21 110.76,463.33 110.19,465.36 C109.62,467.40 109.92,466.82 108.50,468.11 C107.08,469.40 107.65,468.94 105.92,469.24 C104.20,469.54 105.01,469.47 103.32,469.02 C101.63,468.57 102.21,469.15 100.84,467.89 C99.48,466.63 100.10,467.20 99.22,465.24 C98.35,463.27 98.16,464.13 98.21,462.00 C98.26,459.87 98.44,460.73 99.38,458.86 C100.31,456.98 99.72,457.80 101.02,456.38 C102.31,454.97 101.59,455.28 103.25,454.62 C104.91,453.95 104.30,453.88 105.99,454.39 C107.68,454.91 106.97,454.72 108.32,456.16 C109.67,457.61 109.41,456.78 110.04,458.73 C110.66,460.67 110.16,459.79 110.21,462.00Z" fill="rgb(215,215,215)" fill-opacity="1.0" stroke="rgb(96,96,96)" stroke-width="0.45"/>
<path d="M109.84,462.00 C109.77,463.93 109.98,463.17 109.28,464.82 C108.59,466.46 108.92,465.73 107.75,466.93 C106.58,468.13 107.24,467.80 105.77,468.42 C104.31,469.05 104.82,469.27 103.36,468.81 C101.90,468.35 102.49,468.39 101.39,467.03 C100.29,465.68 100.74,466.41 100.06,464.73 C99.38,463.06 99.42,463.87 99.34,462.00 C99.27,460.13 99.20,460.90 99.82,459.12 C100.44,457.35 100.00,457.84 101.20,456.67 C102.41,455.51 101.94,455.85 103.44,455.63 C104.93,455.41 104.19,455.63 105.69,456.01 C107.19,456.39 106.66,455.76 107.93,456.77 C109.21,457.78 108.88,457.30 109.52,459.04 C110.15,460.78 109.92,460.07 109.84,462.00Z" fill="rgb(188,188,188)" fill-opacity="1.0" stroke="rgb(84,84,84)" stroke-width="0.45"/>
<path d="M108.93,462.00 C109.02,463.65 109.31,463.03 108.84,464.55 C108.37,466.07 108.60,465.66 107.51,466.56 C106.42,467.46 106.86,466.97 105.56,467.25 C104.26,467.52 104.88,467.66 103.62,467.38 C102.36,467.10 102.84,467.37 101.79,466.41 C100.73,465.45 101.08,465.96 100.46,464.49 C99.84,463.02 99.84,463.61 99.93,462.00 C100.02,460.39 100.07,461.08 100.73,459.67 C101.39,458.26 100.96,458.90 101.90,457.77 C102.84,456.64 102.32,456.73 103.56,456.28 C104.80,455.83 104.34,455.97 105.62,456.41 C106.90,456.86 106.41,456.55 107.40,457.62 C108.38,458.68 108.06,458.15 108.57,459.61 C109.08,461.07 108.84,460.35 108.93,462.00Z" fill="rgb(162,162,162)" fill-opacity="1.0" stroke="rgb(72,72,72)" stroke-width="0.45"/>
<path d="M108.34,462.00 C108.38,463.34 108.40,462.74 107.99,464.04 C107.58,465.34 107.96,465.15 107.10,465.91 C106.23,466.68 106.49,466.16 105.39,466.34 C104.29,466.51 104.84,466.65 103.79,466.44 C102.74,466.23 103.13,466.48 102.24,465.70 C101.34,464.92 101.58,465.34 101.11,464.10 C100.64,462.87 100.80,463.38 100.84,462.00 C100.88,460.62 100.70,461.11 101.23,459.97 C101.76,458.83 101.59,459.51 102.42,458.58 C103.25,457.66 102.71,457.63 103.72,457.20 C104.74,456.77 104.39,456.91 105.46,457.30 C106.52,457.69 106.11,457.46 106.91,458.37 C107.72,459.28 107.39,458.83 107.87,460.03 C108.34,461.24 108.30,460.66 108.34,462.00Z" fill="rgb(136,136,136)" fill-opacity="1.0" stroke="rgb(61,61,61)" stroke-width="0.45"/>
<path d="M107.66,462.00 C107.57,463.09 107.61,462.61 107.19,463.56 C106.78,464.51 107.05,464.10 106.41,464.84 C105.78,465.58 106.12,465.51 105.29,465.78 C104.46,466.06 104.81,465.92 103.93,465.67 C103.05,465.42 103.29,465.75 102.66,465.04 C102.04,464.33 102.39,464.55 102.05,463.53 C101.72,462.52 101.75,463.08 101.66,462.00 C101.57,460.92 101.45,461.31 101.79,460.31 C102.12,459.30 101.95,459.59 102.67,458.98 C103.40,458.37 103.09,458.68 103.96,458.47 C104.82,458.27 104.45,458.13 105.26,458.36 C106.08,458.59 105.67,458.53 106.40,459.17 C107.13,459.81 107.04,459.34 107.46,460.28 C107.88,461.22 107.75,460.91 107.66,462.00Z" fill="rgb(110,110,110)" fill-opacity="1.0" stroke="rgb(49,49,49)" stroke-width="0.45"/>
<path d="M107.72,462.00 L107.30,463.50 L106.57,464.85 L105.29,465.50 L103.88,465.62 L102.68,464.78 L101.87,463.52 L101.48,462.00 L101.68,460.38 L102.68,459.22 L103.90,458.48 L105.27,458.60 L106.57,459.15 L107.49,460.39Z" fill="#888" stroke="#111" stroke-width="1.8"/>
<circle cx="105.00" cy="462.00" r="1.1" fill="#f2f2f2"/>
<path d="M107.06,446.72 L106.49,447.65 L105.62,448.26 L104.64,448.11 L103.69,447.98 L102.92,447.31 L102.69,446.26 L102.93,445.21 L103.48,444.33 L104.33,443.80 L105.32,443.38 L106.21,443.91 L106.78,444.72 L107.13,445.65Z" fill="none" stroke="#aaa" stroke-width="0.5"/>
<path d="M83.8,422.3 L129.8,422.3 L129.8,469.5" fill="none" stroke="#b0b0b0" stroke-width="0.9"/>
<path d="M83.8,422.3 L83.8,469.5 L129.8,469.5" fill="none" stroke="#6e6e6e" stroke-width="0.9"/>
<line x1="83.8" y1="461.63" x2="85.0" y2="461.63" stroke="#6e6e6e" stroke-width="0.6"/>
<line x1="91.47" y1="469.5" x2="91.47" y2="468.3" stroke="#6e6e6e" stroke-width="0.6"/>
<line x1="83.8" y1="453.77" x2="85.0" y2="453.77" stroke="#6e6e6e" stroke-width="0.6"/>
<line x1="99.13" y1="469.5" x2="99.13" y2="468.3" stroke="#6e6e6e" stroke-width="0.6"/>
<line x1="83.8" y1="445.90" x2="85.0" y2="445.90" stroke="#6e6e6e" stroke-width="0.6"/>
<line x1="106.80" y1="469.5" x2="106.80" y2="468.3" stroke="#6e6e6e" stroke-width="0.6"/>
<line x1="83.8" y1="438.03" x2="85.0" y2="438.03" stroke="#6e6e6e" stroke-width="0.6"/>
<line x1="114.47" y1="469.5" x2="114.47" y2="468.3" stroke="#6e6e6e" stroke-width="0.6"/>
<line x1="83.8" y1="430.17" x2="85.0" y2="430.17" stroke="#6e6e6e" stroke-width="0.6"/>
<line x1="122.13" y1="469.5" x2="122.13" y2="468.3" stroke="#6e6e6e" stroke-width="0.6"/>
<rect x="96.3" y="436.3" width="15.299999999999997" height="15.300000000000011" fill="none" stroke="#7c7c7c" stroke-width="0.9"/>
<text x="89.6" y="441.09999999999997" font-size="5.2" font-weight="bold" text-anchor="middle" fill="#000" >0.89</text>
<path d="M153.51,469.50 L153.51,462.30 C153.51,455.10 156.11,453.50 160.01,453.50 C163.91,453.50 166.51,455.10 166.51,462.30 L166.51,469.50Z" fill="rgb(214,214,214)" stroke="#707070" stroke-width="0.55"/>
<path d="M154.88,469.50 L154.88,463.45 C154.88,457.40 156.96,456.06 160.08,456.06 C163.20,456.06 165.28,457.40 165.28,463.45 L165.28,469.50Z" fill="rgb(188,188,188)" stroke="#404040" stroke-width="0.55"/>
<path d="M156.07,469.50 L156.07,464.75 C156.07,460.00 157.58,458.94 159.84,458.94 C162.10,458.94 163.61,460.00 163.61,464.75 L163.61,469.50Z" fill="rgb(165,165,165)" stroke="#2a2a2a" stroke-width="0.55"/>
<path d="M158.00,469.50 L158.00,466.19 C158.00,462.88 158.94,462.14 160.34,462.14 C161.75,462.14 162.68,462.88 162.68,466.19 L162.68,469.50Z" fill="rgb(150,150,150)" stroke="#222" stroke-width="0.55"/>
<line x1="157.30" y1="457.85" x2="157.25" y2="469.0" stroke="#666" stroke-width="0.5" />
<line x1="159.36" y1="457.98" x2="159.47" y2="469.0" stroke="#666" stroke-width="0.5" />
<line x1="160.58" y1="459.34" x2="161.15" y2="469.0" stroke="#666" stroke-width="0.5" />
<line x1="162.98" y1="459.68" x2="163.14" y2="469.0" stroke="#666" stroke-width="0.5" />
<path d="M154.54,469.50 Q156.75,466.30 158.96,469.50 Q161.56,466.70 165.20,469.50Z" fill="#1c1c1c"/>
<line x1="154.15" y1="468.9" x2="165.85" y2="468.9" stroke="#222" stroke-width="1.2" />
<path d="M164.87,446.73 C164.12,448.57 164.56,447.66 163.61,449.24 C162.66,450.83 163.18,450.49 162.02,451.48 C160.86,452.48 161.37,452.03 160.14,452.23 C158.92,452.43 159.16,452.91 158.34,452.08 C157.52,451.25 157.95,451.35 157.68,449.73 C157.41,448.11 157.55,449.00 157.54,447.22 C157.53,445.44 157.18,446.28 157.64,444.38 C158.10,442.48 157.87,443.01 158.92,441.52 C159.97,440.02 159.56,440.71 160.80,439.91 C162.04,439.10 161.55,439.07 162.63,439.09 C163.72,439.12 163.10,439.33 164.05,439.99 C164.99,440.65 164.86,439.84 165.47,441.08 C166.08,442.33 166.08,441.84 165.88,443.72 C165.68,445.60 165.63,444.89 164.87,446.73Z" fill="rgb(225,225,225)" fill-opacity="1.0" stroke="rgb(67,67,67)" stroke-width="0.6"/>
<path d="M164.17,446.50 C163.55,447.93 163.86,447.16 163.10,448.40 C162.34,449.64 162.78,449.43 161.89,450.23 C160.99,451.02 161.37,450.67 160.41,450.80 C159.46,450.93 159.70,451.24 159.03,450.61 C158.36,449.99 158.61,450.18 158.40,448.92 C158.20,447.67 158.38,448.28 158.41,446.85 C158.45,445.43 158.17,446.16 158.50,444.66 C158.84,443.16 158.62,443.52 159.43,442.35 C160.24,441.18 159.95,441.77 160.93,441.16 C161.91,440.55 161.51,440.52 162.36,440.51 C163.22,440.51 162.79,440.60 163.50,441.14 C164.22,441.69 164.03,441.16 164.51,442.15 C164.99,443.14 165.06,442.67 164.94,444.11 C164.83,445.56 164.78,445.07 164.17,446.50Z" fill="rgb(200,200,200)" fill-opacity="1.0" stroke="rgb(60,60,60)" stroke-width="0.6"/>
<path d="M163.56,446.30 C163.15,447.36 163.30,446.92 162.69,447.72 C162.07,448.51 162.39,448.13 161.73,448.69 C161.06,449.24 161.33,449.28 160.68,449.40 C160.03,449.51 160.34,449.41 159.78,449.03 C159.22,448.65 159.20,449.10 159.00,448.26 C158.81,447.43 159.04,447.62 159.20,446.52 C159.35,445.43 159.19,446.03 159.47,444.97 C159.74,443.91 159.51,444.29 160.03,443.34 C160.55,442.39 160.35,442.59 161.03,442.12 C161.72,441.66 161.43,441.94 162.09,441.96 C162.75,441.97 162.57,441.71 163.01,442.18 C163.46,442.65 163.12,442.57 163.42,443.36 C163.72,444.15 163.87,443.56 163.92,444.54 C163.97,445.52 163.97,445.24 163.56,446.30Z" fill="rgb(175,175,175)" fill-opacity="1.0" stroke="rgb(52,52,52)" stroke-width="0.6"/>
<path d="M162.64,446.00 C162.37,446.63 162.49,446.27 162.15,446.83 C161.81,447.40 162.02,447.33 161.62,447.70 C161.22,448.06 161.38,447.89 160.96,447.93 C160.54,447.97 160.65,448.10 160.35,447.82 C160.06,447.53 160.17,447.63 160.06,447.08 C159.96,446.53 160.04,446.80 160.05,446.16 C160.07,445.53 159.96,445.86 160.11,445.18 C160.27,444.50 160.15,444.64 160.51,444.13 C160.87,443.61 160.75,443.91 161.19,443.64 C161.63,443.38 161.44,443.36 161.83,443.34 C162.21,443.32 162.03,443.35 162.35,443.58 C162.67,443.82 162.59,443.60 162.79,444.05 C163.00,444.51 163.02,444.29 162.97,444.94 C162.92,445.59 162.92,445.37 162.64,446.00Z" fill="rgb(150,150,150)" fill-opacity="1.0" stroke="rgb(45,45,45)" stroke-width="0.6"/>
<line x1="160.00" y1="443.07" x2="159.68" y2="450.3" stroke="#444" stroke-width="0.5" />
<line x1="161.67" y1="443.57" x2="162.08" y2="450.3" stroke="#444" stroke-width="0.5" />
<line x1="162.27" y1="443.98" x2="162.64" y2="450.3" stroke="#444" stroke-width="0.5" />
<path d="M136.8,422.3 L184,422.3 L184,469.5" fill="none" stroke="#b0b0b0" stroke-width="0.9"/>
<path d="M136.8,422.3 L136.8,469.5 L184,469.5" fill="none" stroke="#6e6e6e" stroke-width="0.9"/>
<line x1="136.8" y1="461.63" x2="138.0" y2="461.63" stroke="#6e6e6e" stroke-width="0.6"/>
<line x1="144.67" y1="469.5" x2="144.67" y2="468.3" stroke="#6e6e6e" stroke-width="0.6"/>
<line x1="136.8" y1="453.77" x2="138.0" y2="453.77" stroke="#6e6e6e" stroke-width="0.6"/>
<line x1="152.53" y1="469.5" x2="152.53" y2="468.3" stroke="#6e6e6e" stroke-width="0.6"/>
<line x1="136.8" y1="445.90" x2="138.0" y2="445.90" stroke="#6e6e6e" stroke-width="0.6"/>
<line x1="160.40" y1="469.5" x2="160.40" y2="468.3" stroke="#6e6e6e" stroke-width="0.6"/>
<line x1="136.8" y1="438.03" x2="138.0" y2="438.03" stroke="#6e6e6e" stroke-width="0.6"/>
<line x1="168.27" y1="469.5" x2="168.27" y2="468.3" stroke="#6e6e6e" stroke-width="0.6"/>
<line x1="136.8" y1="430.17" x2="138.0" y2="430.17" stroke="#6e6e6e" stroke-width="0.6"/>
<line x1="176.13" y1="469.5" x2="176.13" y2="468.3" stroke="#6e6e6e" stroke-width="0.6"/>
<rect x="152.8" y="437" width="16.19999999999999" height="15.600000000000023" fill="none" stroke="#7c7c7c" stroke-width="0.9"/>
<text x="146.9" y="441.5" font-size="5.2" font-weight="bold" text-anchor="middle" fill="#000" >28.8</text>
<path d="M206.14,469.50 L206.14,463.88 C206.14,458.25 208.74,457.00 212.64,457.00 C216.54,457.00 219.14,458.25 219.14,463.88 L219.14,469.50Z" fill="rgb(214,214,214)" stroke="#707070" stroke-width="0.55"/>
<path d="M207.47,469.50 L207.47,464.77 C207.47,460.05 209.55,459.00 212.67,459.00 C215.79,459.00 217.87,460.05 217.87,464.77 L217.87,469.50Z" fill="rgb(188,188,188)" stroke="#404040" stroke-width="0.55"/>
<path d="M209.16,469.50 L209.16,465.79 C209.16,462.07 210.66,461.25 212.93,461.25 C215.19,461.25 216.70,462.07 216.70,465.79 L216.70,469.50Z" fill="rgb(165,165,165)" stroke="#2a2a2a" stroke-width="0.55"/>
<path d="M210.35,469.50 L210.35,466.91 C210.35,464.32 211.28,463.75 212.69,463.75 C214.09,463.75 215.03,464.32 215.03,466.91 L215.03,469.50Z" fill="rgb(150,150,150)" stroke="#222" stroke-width="0.55"/>
<line x1="210.48" y1="463.11" x2="210.52" y2="469.0" stroke="#666" stroke-width="0.5" />
<line x1="211.86" y1="460.05" x2="211.45" y2="469.0" stroke="#666" stroke-width="0.5" />
<line x1="213.81" y1="462.00" x2="213.51" y2="469.0" stroke="#666" stroke-width="0.5" />
<line x1="215.43" y1="461.61" x2="214.93" y2="469.0" stroke="#666" stroke-width="0.5" />
<path d="M207.54,469.50 Q209.75,466.30 211.96,469.50 Q214.56,466.70 218.20,469.50Z" fill="#1c1c1c"/>
<line x1="207.15" y1="468.9" x2="218.85" y2="468.9" stroke="#222" stroke-width="1.2" />
<path d="M216.97,449.04 C216.31,450.95 216.70,450.39 215.66,451.74 C214.62,453.09 215.07,452.15 213.85,453.10 C212.64,454.05 213.23,454.17 212.02,454.59 C210.81,455.01 211.08,455.18 210.23,454.36 C209.37,453.53 209.76,453.73 209.46,452.12 C209.15,450.50 209.22,451.33 209.32,449.52 C209.41,447.71 209.19,448.53 209.74,446.69 C210.29,444.86 210.01,445.73 210.97,444.01 C211.93,442.28 211.45,442.37 212.63,441.52 C213.81,440.67 213.41,441.21 214.51,441.46 C215.61,441.71 215.02,441.60 215.93,442.27 C216.85,442.94 216.67,442.22 217.25,443.47 C217.82,444.72 217.75,444.17 217.65,446.02 C217.56,447.88 217.64,447.14 216.97,449.04Z" fill="rgb(225,225,225)" fill-opacity="1.0" stroke="rgb(67,67,67)" stroke-width="0.6"/>
<path d="M216.29,448.82 C215.74,450.24 215.86,449.58 215.02,450.68 C214.17,451.78 214.67,451.23 213.75,452.12 C212.83,453.00 213.18,453.13 212.26,453.32 C211.35,453.52 211.69,453.38 211.01,452.70 C210.33,452.01 210.51,452.44 210.23,451.26 C209.94,450.09 210.02,450.59 210.16,449.17 C210.29,447.74 210.24,448.50 210.63,446.98 C211.03,445.47 210.62,445.94 211.34,444.63 C212.06,443.31 211.84,443.58 212.79,443.05 C213.75,442.52 213.32,442.97 214.21,443.04 C215.11,443.10 214.78,442.74 215.48,443.23 C216.19,443.71 215.93,443.42 216.33,444.49 C216.73,445.55 216.70,444.98 216.69,446.43 C216.68,447.87 216.85,447.41 216.29,448.82Z" fill="rgb(200,200,200)" fill-opacity="1.0" stroke="rgb(60,60,60)" stroke-width="0.6"/>
<path d="M215.49,448.56 C215.18,449.61 215.24,449.15 214.63,450.04 C214.02,450.93 214.32,450.83 213.66,451.24 C213.00,451.66 213.29,451.30 212.65,451.28 C212.00,451.27 212.29,451.46 211.72,451.19 C211.15,450.92 211.24,451.24 210.94,450.47 C210.64,449.70 210.68,449.96 210.84,448.88 C210.99,447.80 211.02,448.31 211.40,447.23 C211.78,446.16 211.45,446.51 211.97,445.66 C212.49,444.81 212.27,445.29 212.97,444.68 C213.66,444.08 213.40,443.96 214.06,443.84 C214.72,443.73 214.53,443.76 214.96,444.34 C215.39,444.91 215.15,444.71 215.35,445.57 C215.56,446.42 215.51,445.90 215.56,446.90 C215.61,447.90 215.80,447.52 215.49,448.56Z" fill="rgb(175,175,175)" fill-opacity="1.0" stroke="rgb(52,52,52)" stroke-width="0.6"/>
<path d="M214.60,448.27 C214.38,448.94 214.51,448.76 214.14,449.23 C213.77,449.70 213.92,449.37 213.49,449.68 C213.07,449.99 213.28,450.01 212.86,450.16 C212.44,450.31 212.54,450.39 212.23,450.12 C211.92,449.86 212.05,449.93 211.93,449.37 C211.82,448.81 211.84,449.08 211.89,448.44 C211.93,447.80 211.87,448.09 212.07,447.45 C212.28,446.81 212.17,447.13 212.50,446.53 C212.83,445.92 212.65,445.95 213.07,445.63 C213.48,445.31 213.35,445.48 213.73,445.56 C214.12,445.65 213.91,445.63 214.22,445.89 C214.53,446.15 214.47,445.90 214.66,446.34 C214.85,446.78 214.82,446.57 214.80,447.22 C214.79,447.86 214.83,447.60 214.60,448.27Z" fill="rgb(150,150,150)" fill-opacity="1.0" stroke="rgb(45,45,45)" stroke-width="0.6"/>
<line x1="211.35" y1="443.38" x2="211.20" y2="452.54999999999995" stroke="#444" stroke-width="0.5" />
<line x1="212.58" y1="446.47" x2="211.84" y2="452.54999999999995" stroke="#444" stroke-width="0.5" />
<line x1="214.26" y1="444.31" x2="214.82" y2="452.54999999999995" stroke="#444" stroke-width="0.5" />
<path d="M189.5,422.3 L236.5,422.3 L236.5,469.5" fill="none" stroke="#b0b0b0" stroke-width="0.9"/>
<path d="M189.5,422.3 L189.5,469.5 L236.5,469.5" fill="none" stroke="#6e6e6e" stroke-width="0.9"/>
<line x1="189.5" y1="461.63" x2="190.7" y2="461.63" stroke="#6e6e6e" stroke-width="0.6"/>
<line x1="197.33" y1="469.5" x2="197.33" y2="468.3" stroke="#6e6e6e" stroke-width="0.6"/>
<line x1="189.5" y1="453.77" x2="190.7" y2="453.77" stroke="#6e6e6e" stroke-width="0.6"/>
<line x1="205.17" y1="469.5" x2="205.17" y2="468.3" stroke="#6e6e6e" stroke-width="0.6"/>
<line x1="189.5" y1="445.90" x2="190.7" y2="445.90" stroke="#6e6e6e" stroke-width="0.6"/>
<line x1="213.00" y1="469.5" x2="213.00" y2="468.3" stroke="#6e6e6e" stroke-width="0.6"/>
<line x1="189.5" y1="438.03" x2="190.7" y2="438.03" stroke="#6e6e6e" stroke-width="0.6"/>
<line x1="220.83" y1="469.5" x2="220.83" y2="468.3" stroke="#6e6e6e" stroke-width="0.6"/>
<line x1="189.5" y1="430.17" x2="190.7" y2="430.17" stroke="#6e6e6e" stroke-width="0.6"/>
<line x1="228.67" y1="469.5" x2="228.67" y2="468.3" stroke="#6e6e6e" stroke-width="0.6"/>
<rect x="205" y="438.4" width="15.599999999999994" height="17.30000000000001" fill="none" stroke="#7c7c7c" stroke-width="0.9"/>
<text x="198.4" y="443.5" font-size="5.2" font-weight="bold" text-anchor="middle" fill="#000" >32.5</text>
<path d="M260.67,469.50 L260.67,462.75 C260.67,456.00 263.27,454.50 267.17,454.50 C271.07,454.50 273.67,456.00 273.67,462.75 L273.67,469.50Z" fill="rgb(214,214,214)" stroke="#707070" stroke-width="0.55"/>
<path d="M261.64,469.50 L261.64,463.83 C261.64,458.16 263.72,456.90 266.84,456.90 C269.96,456.90 272.04,458.16 272.04,463.83 L272.04,469.50Z" fill="rgb(188,188,188)" stroke="#404040" stroke-width="0.55"/>
<path d="M262.77,469.50 L262.77,465.05 C262.77,460.59 264.28,459.60 266.54,459.60 C268.80,459.60 270.31,460.59 270.31,465.05 L270.31,469.50Z" fill="rgb(165,165,165)" stroke="#2a2a2a" stroke-width="0.55"/>
<path d="M264.83,469.50 L264.83,466.39 C264.83,463.29 265.77,462.60 267.17,462.60 C268.58,462.60 269.51,463.29 269.51,466.39 L269.51,469.50Z" fill="rgb(150,150,150)" stroke="#222" stroke-width="0.55"/>
<line x1="263.79" y1="458.46" x2="263.23" y2="469.0" stroke="#666" stroke-width="0.5" />
<line x1="265.49" y1="457.64" x2="265.87" y2="469.0" stroke="#666" stroke-width="0.5" />
<line x1="267.30" y1="459.87" x2="267.21" y2="469.0" stroke="#666" stroke-width="0.5" />
<line x1="269.45" y1="461.54" x2="269.23" y2="469.0" stroke="#666" stroke-width="0.5" />
<path d="M261.34,469.50 Q263.55,466.30 265.76,469.50 Q268.36,466.70 272.00,469.50Z" fill="#1c1c1c"/>
<line x1="260.95" y1="468.9" x2="272.65000000000003" y2="468.9" stroke="#222" stroke-width="1.2" />
<path d="M272.33,447.16 C271.61,448.99 271.87,448.21 270.82,449.60 C269.76,451.00 270.36,450.18 269.17,451.34 C267.98,452.51 268.39,452.86 267.25,453.10 C266.10,453.33 266.58,452.97 265.73,452.04 C264.87,451.11 265.04,451.78 264.68,450.31 C264.32,448.83 264.50,449.44 264.64,447.61 C264.79,445.78 264.61,446.73 265.10,444.81 C265.60,442.90 265.18,443.56 266.13,441.88 C267.08,440.19 266.75,440.40 267.95,439.77 C269.15,439.13 268.57,439.90 269.73,439.96 C270.90,440.03 270.52,439.39 271.43,439.95 C272.34,440.52 271.95,440.27 272.47,441.66 C272.98,443.04 273.02,442.28 272.98,444.11 C272.93,445.95 273.05,445.33 272.33,447.16Z" fill="rgb(225,225,225)" fill-opacity="1.0" stroke="rgb(67,67,67)" stroke-width="0.6"/>
<path d="M271.59,446.92 C270.99,448.33 271.12,447.57 270.28,448.73 C269.44,449.88 269.96,449.58 269.07,450.40 C268.18,451.22 268.54,451.03 267.61,451.18 C266.68,451.33 267.01,451.43 266.29,450.85 C265.56,450.28 265.68,450.67 265.44,449.46 C265.19,448.25 265.38,448.69 265.55,447.23 C265.71,445.77 265.57,446.60 265.93,445.08 C266.28,443.56 265.88,443.92 266.61,442.67 C267.34,441.42 267.13,441.92 268.11,441.33 C269.10,440.74 268.68,440.87 269.56,440.89 C270.44,440.91 270.09,440.79 270.76,441.38 C271.42,441.98 271.10,441.65 271.54,442.69 C271.98,443.72 272.06,443.08 272.08,444.49 C272.09,445.90 272.19,445.51 271.59,446.92Z" fill="rgb(200,200,200)" fill-opacity="1.0" stroke="rgb(60,60,60)" stroke-width="0.6"/>
<path d="M270.81,446.67 C270.44,447.68 270.47,447.21 269.84,448.00 C269.21,448.79 269.58,448.45 268.93,449.05 C268.27,449.64 268.56,449.61 267.87,449.80 C267.19,449.98 267.34,450.10 266.87,449.61 C266.41,449.11 266.68,449.20 266.47,448.32 C266.26,447.43 266.15,447.93 266.24,446.94 C266.32,445.95 266.40,446.45 266.72,445.34 C267.03,444.23 266.68,444.57 267.19,443.62 C267.69,442.67 267.54,442.91 268.23,442.49 C268.93,442.06 268.66,442.26 269.28,442.35 C269.91,442.44 269.57,442.40 270.11,442.76 C270.64,443.11 270.60,442.68 270.88,443.42 C271.17,444.15 270.98,443.88 270.96,444.96 C270.94,446.04 271.19,445.66 270.81,446.67Z" fill="rgb(175,175,175)" fill-opacity="1.0" stroke="rgb(52,52,52)" stroke-width="0.6"/>
<path d="M269.76,446.33 C269.57,447.01 269.79,446.81 269.48,447.40 C269.17,447.98 269.26,447.83 268.83,448.09 C268.39,448.34 268.57,448.20 268.18,448.16 C267.79,448.12 267.97,448.18 267.65,447.96 C267.33,447.73 267.39,447.95 267.22,447.48 C267.04,447.02 267.12,447.23 267.13,446.57 C267.13,445.91 266.99,446.13 267.23,445.51 C267.47,444.88 267.45,445.18 267.84,444.69 C268.23,444.20 267.99,444.41 268.40,444.03 C268.80,443.66 268.64,443.66 269.05,443.56 C269.47,443.46 269.35,443.43 269.65,443.73 C269.95,444.03 269.81,443.92 269.94,444.46 C270.08,445.00 270.11,444.72 270.05,445.34 C269.98,445.97 269.95,445.64 269.76,446.33Z" fill="rgb(150,150,150)" fill-opacity="1.0" stroke="rgb(45,45,45)" stroke-width="0.6"/>
<line x1="267.74" y1="443.23" x2="267.22" y2="450.65" stroke="#444" stroke-width="0.5" />
<line x1="268.91" y1="442.73" x2="269.37" y2="450.65" stroke="#444" stroke-width="0.5" />
<line x1="268.95" y1="441.78" x2="269.70" y2="450.65" stroke="#444" stroke-width="0.5" />
<path d="M244.3,422.3 L291.8,422.3 L291.8,469.5" fill="none" stroke="#b0b0b0" stroke-width="0.9"/>
<path d="M244.3,422.3 L244.3,469.5 L291.8,469.5" fill="none" stroke="#6e6e6e" stroke-width="0.9"/>
<line x1="244.3" y1="461.63" x2="245.5" y2="461.63" stroke="#6e6e6e" stroke-width="0.6"/>
<line x1="252.22" y1="469.5" x2="252.22" y2="468.3" stroke="#6e6e6e" stroke-width="0.6"/>
<line x1="244.3" y1="453.77" x2="245.5" y2="453.77" stroke="#6e6e6e" stroke-width="0.6"/>
<line x1="260.13" y1="469.5" x2="260.13" y2="468.3" stroke="#6e6e6e" stroke-width="0.6"/>
<line x1="244.3" y1="445.90" x2="245.5" y2="445.90" stroke="#6e6e6e" stroke-width="0.6"/>
<line x1="268.05" y1="469.5" x2="268.05" y2="468.3" stroke="#6e6e6e" stroke-width="0.6"/>
<line x1="244.3" y1="438.03" x2="245.5" y2="438.03" stroke="#6e6e6e" stroke-width="0.6"/>
<line x1="275.97" y1="469.5" x2="275.97" y2="468.3" stroke="#6e6e6e" stroke-width="0.6"/>
<line x1="244.3" y1="430.17" x2="245.5" y2="430.17" stroke="#6e6e6e" stroke-width="0.6"/>
<line x1="283.88" y1="469.5" x2="283.88" y2="468.3" stroke="#6e6e6e" stroke-width="0.6"/>
<rect x="260.1" y="436.9" width="16.0" height="16.5" fill="none" stroke="#7c7c7c" stroke-width="0.9"/>
<text x="254.2" y="441.9" font-size="5.2" font-weight="bold" text-anchor="middle" fill="#000" >25.9</text>
<text x="58.75" y="315" font-weight="bold" text-anchor="middle"><tspan font-size="8.2" dy="0">BM</tspan></text>
<text x="109.6" y="315" font-weight="bold" text-anchor="middle"><tspan font-size="8.4" dy="0">T</tspan><tspan font-size="6.5" dy="2.18">MH60</tspan></text>
<text x="161" y="315" font-weight="bold" text-anchor="middle"><tspan font-size="8.4" dy="0">T</tspan><tspan font-size="6.5" dy="2.18">MLCMV</tspan></text>
<text x="214.2" y="315" font-weight="bold" text-anchor="middle"><tspan font-size="8.4" dy="0">T</tspan><tspan font-size="6.6" dy="2.18">MH60-LCMV</tspan></text>
<text x="268.2" y="315" font-weight="bold" text-anchor="middle"><tspan font-size="8.4" dy="0">T</tspan><tspan font-size="6.5" dy="2.18">MH60</tspan><tspan font-size="8.4" dy="-2.184">+T</tspan><tspan font-size="6.5" dy="2.18">MLCMV</tspan></text>
<text x="0" y="0" font-weight="bold" font-size="8.6" text-anchor="middle" transform="translate(26.8,342.6) rotate(-90)">Gp33<tspan font-size="5.4" dy="-3.2">+</tspan></text>
<line x1="24.6" y1="321.3" x2="24.6" y2="328.5" stroke="#000" stroke-width="1.1" />
<line x1="24.6" y1="356.1" x2="24.6" y2="364.6" stroke="#000" stroke-width="1.1" />
<text x="0" y="0" font-weight="bold" font-size="8.6" text-anchor="middle" transform="translate(26.8,394.40000000000003) rotate(-90)">Gp276<tspan font-size="5.4" dy="-3.2">+</tspan></text>
<line x1="24.6" y1="373.1" x2="24.6" y2="377.9" stroke="#000" stroke-width="1.1" />
<line x1="24.6" y1="410.30000000000007" x2="24.6" y2="416.40000000000003" stroke="#000" stroke-width="1.1" />
<text x="0" y="0" font-weight="bold" font-size="8.6" text-anchor="middle" transform="translate(26.8,446.2) rotate(-90)">Np396<tspan font-size="5.4" dy="-3.2">+</tspan></text>
<line x1="24.6" y1="424.8" x2="24.6" y2="429.9" stroke="#000" stroke-width="1.1" />
<line x1="24.6" y1="461.9" x2="24.6" y2="468.3" stroke="#000" stroke-width="1.1" />
<line x1="30" y1="477.1" x2="148.8" y2="477.1" stroke="#000" stroke-width="1.2" />
<line x1="172" y1="477.1" x2="291.5" y2="477.1" stroke="#000" stroke-width="1.2" />
<text x="161.6" y="480.6" font-size="8.8" font-weight="bold" text-anchor="middle" fill="#000" >CD8</text>
<line x1="28.4" y1="508.5" x2="28.4" y2="590.8000000000001" stroke="#000" stroke-width="1.3" />
<line x1="27.799999999999997" y1="590.2" x2="106.5" y2="590.2" stroke="#000" stroke-width="1.3" />
<line x1="25.9" y1="509.1" x2="28.4" y2="509.1" stroke="#000" stroke-width="1.1" />
<text x="22.4" y="511.26000000000005" font-size="6.0" font-weight="bold" text-anchor="end" fill="#000" >10</text>
<text x="22.599999999999998" y="508.5" font-size="3.5999999999999996" font-weight="bold" text-anchor="start" fill="#000" >6</text>
<line x1="25.9" y1="549.2" x2="28.4" y2="549.2" stroke="#000" stroke-width="1.1" />
<text x="22.4" y="551.36" font-size="6.0" font-weight="bold" text-anchor="end" fill="#000" >10</text>
<text x="22.599999999999998" y="548.6" font-size="3.5999999999999996" font-weight="bold" text-anchor="start" fill="#000" >5</text>
<line x1="25.9" y1="590.2" x2="28.4" y2="590.2" stroke="#000" stroke-width="1.1" />
<text x="22.4" y="592.36" font-size="6.0" font-weight="bold" text-anchor="end" fill="#000" >10</text>
<text x="22.599999999999998" y="589.6" font-size="3.5999999999999996" font-weight="bold" text-anchor="start" fill="#000" >4</text>
<line x1="36.8" y1="590.2" x2="36.8" y2="592.7" stroke="#000" stroke-width="1.1" />
<line x1="53.1" y1="590.2" x2="53.1" y2="592.7" stroke="#000" stroke-width="1.1" />
<line x1="69.5" y1="590.2" x2="69.5" y2="592.7" stroke="#000" stroke-width="1.1" />
<line x1="85.8" y1="590.2" x2="85.8" y2="592.7" stroke="#000" stroke-width="1.1" />
<line x1="101.8" y1="590.2" x2="101.8" y2="592.7" stroke="#000" stroke-width="1.1" />
<text x="0" y="0" font-size="6.5" font-weight="bold" text-anchor="middle" transform="translate(10.2,549.5) rotate(-90)">GP33<tspan font-size="4.2" dy="-2">+</tspan><tspan dy="2"> /spleen</tspan></text>
<path d="M34.95,545.37L36.80,542.04L38.65,545.37Z" stroke="#000" stroke-width="1.0" fill="none" stroke-linejoin="miter"/>
<path d="M34.95,561.46L36.80,558.13L38.65,561.46Z" stroke="#000" stroke-width="1.0" fill="none" stroke-linejoin="miter"/>
<path d="M34.95,568.46L36.80,565.13L38.65,568.46Z" stroke="#000" stroke-width="1.0" fill="none" stroke-linejoin="miter"/>
<line x1="31.5" y1="553.7" x2="42.6" y2="553.7" stroke="#8a8a8a" stroke-width="1.2" />
<path d="M51.25,517.26L53.10,513.94L54.95,517.26Z" stroke="#000" stroke-width="1.0" fill="none" stroke-linejoin="miter"/>
<path d="M51.25,537.37L53.10,534.04L54.95,537.37Z" stroke="#000" stroke-width="1.0" fill="none" stroke-linejoin="miter"/>
<path d="M51.25,551.66L53.10,548.34L54.95,551.66Z" stroke="#000" stroke-width="1.0" fill="none" stroke-linejoin="miter"/>
<line x1="47.9" y1="527.9" x2="59.3" y2="527.9" stroke="#8a8a8a" stroke-width="1.2" />
<path d="M68.95,565.26L70.80,561.94L72.65,565.26Z" stroke="#000" stroke-width="1.0" fill="none" stroke-linejoin="miter"/>
<path d="M66.95,566.76L68.80,563.44L70.65,566.76Z" stroke="#000" stroke-width="1.0" fill="none" stroke-linejoin="miter"/>
<path d="M62.75,573.96L64.60,570.63L66.45,573.96Z" stroke="#000" stroke-width="1.0" fill="none" stroke-linejoin="miter"/>
<path d="M67.65,574.46L69.50,571.13L71.35,574.46Z" stroke="#000" stroke-width="1.0" fill="none" stroke-linejoin="miter"/>
<path d="M67.65,590.06L69.50,586.74L71.35,590.06Z" stroke="#000" stroke-width="1.0" fill="none" stroke-linejoin="miter"/>
<line x1="62.6" y1="570.4" x2="75.7" y2="570.4" stroke="#000" stroke-width="1.0" />
<path d="M83.95,522.16L85.80,518.84L87.65,522.16Z" stroke="#000" stroke-width="1.0" fill="none" stroke-linejoin="miter"/>
<path d="M83.95,527.87L85.80,524.54L87.65,527.87Z" stroke="#000" stroke-width="1.0" fill="none" stroke-linejoin="miter"/>
<path d="M81.15,534.76L83.00,531.44L84.85,534.76Z" stroke="#000" stroke-width="1.0" fill="none" stroke-linejoin="miter"/>
<path d="M86.85,534.76L88.70,531.44L90.55,534.76Z" stroke="#000" stroke-width="1.0" fill="none" stroke-linejoin="miter"/>
<path d="M83.95,537.66L85.80,534.34L87.65,537.66Z" stroke="#000" stroke-width="1.0" fill="none" stroke-linejoin="miter"/>
<line x1="80.6" y1="528.7" x2="91.7" y2="528.7" stroke="#8a8a8a" stroke-width="1.2" />
<path d="M99.95,519.37L101.80,516.04L103.65,519.37Z" stroke="#000" stroke-width="1.0" fill="none" stroke-linejoin="miter"/>
<path d="M95.05,524.37L96.90,521.04L98.75,524.37Z" stroke="#000" stroke-width="1.0" fill="none" stroke-linejoin="miter"/>
<path d="M99.95,524.66L101.80,521.34L103.65,524.66Z" stroke="#000" stroke-width="1.0" fill="none" stroke-linejoin="miter"/>
<path d="M102.65,524.66L104.50,521.34L106.35,524.66Z" stroke="#000" stroke-width="1.0" fill="none" stroke-linejoin="miter"/>
<path d="M99.95,535.26L101.80,531.94L103.65,535.26Z" stroke="#000" stroke-width="1.0" fill="none" stroke-linejoin="miter"/>
<path d="M103.15,535.26L105.00,531.94L106.85,535.26Z" stroke="#000" stroke-width="1.0" fill="none" stroke-linejoin="miter"/>
<line x1="95.3" y1="524.6" x2="108.4" y2="524.6" stroke="#8a8a8a" stroke-width="1.2" />
<text x="0" y="0" font-weight="bold" text-anchor="end" transform="translate(39.0,598) rotate(-45)"><tspan font-size="6.6" dy="0.00">BM</tspan></text>
<text x="0" y="0" font-weight="bold" text-anchor="end" transform="translate(55.300000000000004,598) rotate(-45)"><tspan font-size="7.2" dy="0.00">T</tspan><tspan font-size="4.7" dy="1.80">MLCMV</tspan></text>
<text x="0" y="0" font-weight="bold" text-anchor="end" transform="translate(71.7,598) rotate(-45)"><tspan font-size="7.2" dy="0.00">T</tspan><tspan font-size="4.7" dy="1.80">MH60</tspan></text>
<text x="0" y="0" font-weight="bold" text-anchor="end" transform="translate(88.0,598) rotate(-45)"><tspan font-size="7.2" dy="0.00">T</tspan><tspan font-size="4.7" dy="1.80">MLCMV</tspan><tspan font-size="7.2" dy="-1.80"> +T</tspan><tspan font-size="4.7" dy="1.80">MH60</tspan></text>
<text x="0" y="0" font-weight="bold" text-anchor="end" transform="translate(104.0,598) rotate(-45)"><tspan font-size="7.2" dy="0.00">T</tspan><tspan font-size="4.7" dy="1.80">MLCMV+MH60</tspan></text>
<line x1="144.3" y1="508.5" x2="144.3" y2="590.4" stroke="#000" stroke-width="1.3" />
<line x1="143.70000000000002" y1="589.8" x2="225.5" y2="589.8" stroke="#000" stroke-width="1.3" />
<line x1="141.8" y1="508.6" x2="144.3" y2="508.6" stroke="#000" stroke-width="1.1" />
<text x="138.3" y="510.76000000000005" font-size="6.0" font-weight="bold" text-anchor="end" fill="#000" >10</text>
<text x="138.50000000000003" y="508.0" font-size="3.5999999999999996" font-weight="bold" text-anchor="start" fill="#000" >6</text>
<line x1="141.8" y1="548.8" x2="144.3" y2="548.8" stroke="#000" stroke-width="1.1" />
<text x="138.3" y="550.9599999999999" font-size="6.0" font-weight="bold" text-anchor="end" fill="#000" >10</text>
<text x="138.50000000000003" y="548.1999999999999" font-size="3.5999999999999996" font-weight="bold" text-anchor="start" fill="#000" >5</text>
<line x1="141.8" y1="589.8" x2="144.3" y2="589.8" stroke="#000" stroke-width="1.1" />
<text x="138.3" y="591.9599999999999" font-size="6.0" font-weight="bold" text-anchor="end" fill="#000" >10</text>
<text x="138.50000000000003" y="589.1999999999999" font-size="3.5999999999999996" font-weight="bold" text-anchor="start" fill="#000" >4</text>
<line x1="152.5" y1="589.8" x2="152.5" y2="592.3" stroke="#000" stroke-width="1.1" />
<line x1="169.1" y1="589.8" x2="169.1" y2="592.3" stroke="#000" stroke-width="1.1" />
<line x1="185.3" y1="589.8" x2="185.3" y2="592.3" stroke="#000" stroke-width="1.1" />
<line x1="202" y1="589.8" x2="202" y2="592.3" stroke="#000" stroke-width="1.1" />
<line x1="218.2" y1="589.8" x2="218.2" y2="592.3" stroke="#000" stroke-width="1.1" />
<text x="0" y="0" font-size="6.5" font-weight="bold" text-anchor="middle" transform="translate(125,551) rotate(-90)">GP276<tspan font-size="4.2" dy="-2">+</tspan><tspan dy="2">/spleen</tspan></text>
<path d="M148.15,557.16L150.00,553.84L151.85,557.16Z" stroke="#000" stroke-width="1.0" fill="none" stroke-linejoin="miter"/>
<path d="M151.15,558.56L153.00,555.24L154.85,558.56Z" stroke="#000" stroke-width="1.0" fill="none" stroke-linejoin="miter"/>
<path d="M154.15,557.66L156.00,554.34L157.85,557.66Z" stroke="#000" stroke-width="1.0" fill="none" stroke-linejoin="miter"/>
<line x1="147.8" y1="556.4" x2="158.2" y2="556.4" stroke="#000" stroke-width="1.1" />
<path d="M162.35,536.46L164.20,533.13L166.05,536.46Z" stroke="#000" stroke-width="1.0" fill="none" stroke-linejoin="miter"/>
<path d="M167.25,537.46L169.10,534.13L170.95,537.46Z" stroke="#000" stroke-width="1.0" fill="none" stroke-linejoin="miter"/>
<path d="M167.25,556.87L169.10,553.54L170.95,556.87Z" stroke="#000" stroke-width="1.0" fill="none" stroke-linejoin="miter"/>
<line x1="163.4" y1="539.1" x2="174.6" y2="539.1" stroke="#000" stroke-width="1.1" />
<path d="M183.45,558.26L185.30,554.94L187.15,558.26Z" stroke="#000" stroke-width="1.0" fill="none" stroke-linejoin="miter"/>
<path d="M183.45,565.46L185.30,562.13L187.15,565.46Z" stroke="#000" stroke-width="1.0" fill="none" stroke-linejoin="miter"/>
<path d="M181.05,567.56L182.90,564.24L184.75,567.56Z" stroke="#000" stroke-width="1.0" fill="none" stroke-linejoin="miter"/>
<path d="M185.25,568.66L187.10,565.34L188.95,568.66Z" stroke="#000" stroke-width="1.0" fill="none" stroke-linejoin="miter"/>
<path d="M183.45,571.56L185.30,568.24L187.15,571.56Z" stroke="#000" stroke-width="1.0" fill="none" stroke-linejoin="miter"/>
<line x1="180.2" y1="563.8" x2="191.2" y2="563.8" stroke="#000" stroke-width="1.1" />
<path d="M200.15,530.87L202.00,527.54L203.85,530.87Z" stroke="#000" stroke-width="1.0" fill="none" stroke-linejoin="miter"/>
<path d="M197.35,537.46L199.20,534.13L201.05,537.46Z" stroke="#000" stroke-width="1.0" fill="none" stroke-linejoin="miter"/>
<path d="M199.65,537.46L201.50,534.13L203.35,537.46Z" stroke="#000" stroke-width="1.0" fill="none" stroke-linejoin="miter"/>
<path d="M200.15,542.66L202.00,539.34L203.85,542.66Z" stroke="#000" stroke-width="1.0" fill="none" stroke-linejoin="miter"/>
<path d="M202.55,542.66L204.40,539.34L206.25,542.66Z" stroke="#000" stroke-width="1.0" fill="none" stroke-linejoin="miter"/>
<line x1="196.2" y1="535.6" x2="207.5" y2="535.6" stroke="#000" stroke-width="1.1" />
<path d="M211.75,528.26L213.60,524.94L215.45,528.26Z" stroke="#000" stroke-width="1.0" fill="none" stroke-linejoin="miter"/>
<path d="M216.35,525.66L218.20,522.34L220.05,525.66Z" stroke="#000" stroke-width="1.0" fill="none" stroke-linejoin="miter"/>
<path d="M216.35,531.76L218.20,528.44L220.05,531.76Z" stroke="#000" stroke-width="1.0" fill="none" stroke-linejoin="miter"/>
<path d="M218.65,542.16L220.50,538.84L222.35,542.16Z" stroke="#000" stroke-width="1.0" fill="none" stroke-linejoin="miter"/>
<path d="M216.35,545.06L218.20,541.74L220.05,545.06Z" stroke="#000" stroke-width="1.0" fill="none" stroke-linejoin="miter"/>
<line x1="212.7" y1="531.3" x2="223.9" y2="531.3" stroke="#000" stroke-width="1.1" />
<text x="0" y="0" font-weight="bold" text-anchor="end" transform="translate(154.7,598) rotate(-45)"><tspan font-size="6.6" dy="0.00">BM</tspan></text>
<text x="0" y="0" font-weight="bold" text-anchor="end" transform="translate(171.29999999999998,598) rotate(-45)"><tspan font-size="7.2" dy="0.00">T</tspan><tspan font-size="4.7" dy="1.80">MLCMV</tspan></text>
<text x="0" y="0" font-weight="bold" text-anchor="end" transform="translate(187.5,598) rotate(-45)"><tspan font-size="7.2" dy="0.00">T</tspan><tspan font-size="4.7" dy="1.80">MH60</tspan></text>
<text x="0" y="0" font-weight="bold" text-anchor="end" transform="translate(204.2,598) rotate(-45)"><tspan font-size="7.2" dy="0.00">T</tspan><tspan font-size="4.7" dy="1.80">MLCMV</tspan><tspan font-size="7.2" dy="-1.80"> +T</tspan><tspan font-size="4.7" dy="1.80">MH60</tspan></text>
<text x="0" y="0" font-weight="bold" text-anchor="end" transform="translate(220.39999999999998,598) rotate(-45)"><tspan font-size="7.2" dy="0.00">T</tspan><tspan font-size="4.7" dy="1.80">MLCMV+MH60</tspan></text>
<line x1="255.5" y1="507.5" x2="255.5" y2="590.1" stroke="#000" stroke-width="1.3" />
<line x1="254.9" y1="589.5" x2="335" y2="589.5" stroke="#000" stroke-width="1.3" />
<line x1="253.0" y1="508" x2="255.5" y2="508" stroke="#000" stroke-width="1.1" />
<text x="249.5" y="510.16" font-size="6.0" font-weight="bold" text-anchor="end" fill="#000" >10</text>
<text x="249.70000000000002" y="507.4" font-size="3.5999999999999996" font-weight="bold" text-anchor="start" fill="#000" >7</text>
<line x1="253.0" y1="528.4" x2="255.5" y2="528.4" stroke="#000" stroke-width="1.1" />
<text x="249.5" y="530.56" font-size="6.0" font-weight="bold" text-anchor="end" fill="#000" >10</text>
<text x="249.70000000000002" y="527.8" font-size="3.5999999999999996" font-weight="bold" text-anchor="start" fill="#000" >6</text>
<line x1="253.0" y1="548.6" x2="255.5" y2="548.6" stroke="#000" stroke-width="1.1" />
<text x="249.5" y="550.76" font-size="6.0" font-weight="bold" text-anchor="end" fill="#000" >10</text>
<text x="249.70000000000002" y="548.0" font-size="3.5999999999999996" font-weight="bold" text-anchor="start" fill="#000" >5</text>
<line x1="253.0" y1="569" x2="255.5" y2="569" stroke="#000" stroke-width="1.1" />
<text x="249.5" y="571.16" font-size="6.0" font-weight="bold" text-anchor="end" fill="#000" >10</text>
<text x="249.70000000000002" y="568.4" font-size="3.5999999999999996" font-weight="bold" text-anchor="start" fill="#000" >4</text>
<line x1="253.0" y1="589.5" x2="255.5" y2="589.5" stroke="#000" stroke-width="1.1" />
<text x="249.5" y="591.66" font-size="6.0" font-weight="bold" text-anchor="end" fill="#000" >10</text>
<text x="249.70000000000002" y="588.9" font-size="3.5999999999999996" font-weight="bold" text-anchor="start" fill="#000" >3</text>
<line x1="263.5" y1="589.5" x2="263.5" y2="592.0" stroke="#000" stroke-width="1.1" />
<line x1="279.8" y1="589.5" x2="279.8" y2="592.0" stroke="#000" stroke-width="1.1" />
<line x1="296.4" y1="589.5" x2="296.4" y2="592.0" stroke="#000" stroke-width="1.1" />
<line x1="312.7" y1="589.5" x2="312.7" y2="592.0" stroke="#000" stroke-width="1.1" />
<line x1="328.7" y1="589.5" x2="328.7" y2="592.0" stroke="#000" stroke-width="1.1" />
<text x="0" y="0" font-size="6.5" font-weight="bold" text-anchor="middle" transform="translate(236,549) rotate(-90)">NP396<tspan font-size="4.2" dy="-2">+</tspan><tspan dy="2">/spleen</tspan></text>
<path d="M258.55,552.56L260.40,549.24L262.25,552.56Z" stroke="#000" stroke-width="1.0" fill="none" stroke-linejoin="miter"/>
<path d="M261.65,553.76L263.50,550.44L265.35,553.76Z" stroke="#000" stroke-width="1.0" fill="none" stroke-linejoin="miter"/>
<path d="M264.55,553.37L266.40,550.04L268.25,553.37Z" stroke="#000" stroke-width="1.0" fill="none" stroke-linejoin="miter"/>
<line x1="258.7" y1="551.4" x2="269.4" y2="551.4" stroke="#000" stroke-width="1.1" />
<path d="M274.95,530.06L276.80,526.74L278.65,530.06Z" stroke="#000" stroke-width="1.0" fill="none" stroke-linejoin="miter"/>
<path d="M277.95,533.46L279.80,530.13L281.65,533.46Z" stroke="#000" stroke-width="1.0" fill="none" stroke-linejoin="miter"/>
<path d="M280.15,533.46L282.00,530.13L283.85,533.46Z" stroke="#000" stroke-width="1.0" fill="none" stroke-linejoin="miter"/>
<line x1="275.6" y1="530.6" x2="285.5" y2="530.6" stroke="#000" stroke-width="1.1" />
<path d="M289.65,561.16L291.50,557.84L293.35,561.16Z" stroke="#000" stroke-width="1.0" fill="none" stroke-linejoin="miter"/>
<path d="M294.05,557.66L295.90,554.34L297.75,557.66Z" stroke="#000" stroke-width="1.0" fill="none" stroke-linejoin="miter"/>
<path d="M297.45,561.16L299.30,557.84L301.15,561.16Z" stroke="#000" stroke-width="1.0" fill="none" stroke-linejoin="miter"/>
<path d="M294.05,565.16L295.90,561.84L297.75,565.16Z" stroke="#000" stroke-width="1.0" fill="none" stroke-linejoin="miter"/>
<path d="M294.55,583.66L296.40,580.34L298.25,583.66Z" stroke="#000" stroke-width="1.0" fill="none" stroke-linejoin="miter"/>
<line x1="291.5" y1="560.4" x2="301.9" y2="560.4" stroke="#000" stroke-width="1.1" />
<path d="M306.15,525.66L308.00,522.34L309.85,525.66Z" stroke="#000" stroke-width="1.0" fill="none" stroke-linejoin="miter"/>
<path d="M308.35,530.06L310.20,526.74L312.05,530.06Z" stroke="#000" stroke-width="1.0" fill="none" stroke-linejoin="miter"/>
<path d="M310.85,529.16L312.70,525.84L314.55,529.16Z" stroke="#000" stroke-width="1.0" fill="none" stroke-linejoin="miter"/>
<path d="M313.05,532.26L314.90,528.94L316.75,532.26Z" stroke="#000" stroke-width="1.0" fill="none" stroke-linejoin="miter"/>
<path d="M310.85,534.66L312.70,531.34L314.55,534.66Z" stroke="#000" stroke-width="1.0" fill="none" stroke-linejoin="miter"/>
<line x1="307" y1="527.8" x2="318.4" y2="527.8" stroke="#000" stroke-width="1.1" />
<path d="M322.55,524.87L324.40,521.54L326.25,524.87Z" stroke="#000" stroke-width="1.0" fill="none" stroke-linejoin="miter"/>
<path d="M329.45,523.06L331.30,519.74L333.15,523.06Z" stroke="#000" stroke-width="1.0" fill="none" stroke-linejoin="miter"/>
<path d="M326.85,527.46L328.70,524.13L330.55,527.46Z" stroke="#000" stroke-width="1.0" fill="none" stroke-linejoin="miter"/>
<path d="M326.85,534.37L328.70,531.04L330.55,534.37Z" stroke="#000" stroke-width="1.0" fill="none" stroke-linejoin="miter"/>
<path d="M329.45,534.37L331.30,531.04L333.15,534.37Z" stroke="#000" stroke-width="1.0" fill="none" stroke-linejoin="miter"/>
<line x1="322.7" y1="526.1" x2="334.8" y2="526.1" stroke="#000" stroke-width="1.1" />
<text x="0" y="0" font-weight="bold" text-anchor="end" transform="translate(265.7,597.5) rotate(-45)"><tspan font-size="6.6" dy="0.00">BM</tspan></text>
<text x="0" y="0" font-weight="bold" text-anchor="end" transform="translate(282.0,597.5) rotate(-45)"><tspan font-size="7.2" dy="0.00">T</tspan><tspan font-size="4.7" dy="1.80">MLCMV</tspan></text>
<text x="0" y="0" font-weight="bold" text-anchor="end" transform="translate(298.59999999999997,597.5) rotate(-45)"><tspan font-size="7.2" dy="0.00">T</tspan><tspan font-size="4.7" dy="1.80">MH60</tspan></text>
<text x="0" y="0" font-weight="bold" text-anchor="end" transform="translate(314.9,597.5) rotate(-45)"><tspan font-size="7.2" dy="0.00">T</tspan><tspan font-size="4.7" dy="1.80">MLCMV</tspan><tspan font-size="7.2" dy="-1.80"> +T</tspan><tspan font-size="4.7" dy="1.80">MH60</tspan></text>
<text x="0" y="0" font-weight="bold" text-anchor="end" transform="translate(330.9,597.5) rotate(-45)"><tspan font-size="7.2" dy="0.00">T</tspan><tspan font-size="4.7" dy="1.80">MLCMV+MH60</tspan></text>
<line x1="392.8" y1="509.5" x2="392.8" y2="592.4" stroke="#000" stroke-width="1.3" />
<line x1="392.2" y1="591.8" x2="517.5" y2="591.8" stroke="#000" stroke-width="1.3" />
<line x1="389.8" y1="591.8" x2="392.8" y2="591.8" stroke="#000" stroke-width="1.1" />
<text x="389.3" y="594.0" font-size="6.1" font-weight="bold" text-anchor="end" fill="#000" >0</text>
<line x1="389.8" y1="564.9" x2="392.8" y2="564.9" stroke="#000" stroke-width="1.1" />
<text x="389.3" y="567.1" font-size="6.1" font-weight="bold" text-anchor="end" fill="#000" >30000</text>
<line x1="389.8" y1="538.0" x2="392.8" y2="538.0" stroke="#000" stroke-width="1.1" />
<text x="389.3" y="540.2" font-size="6.1" font-weight="bold" text-anchor="end" fill="#000" >60000</text>
<line x1="389.8" y1="511.09999999999997" x2="392.8" y2="511.09999999999997" stroke="#000" stroke-width="1.1" />
<text x="389.3" y="513.3" font-size="6.1" font-weight="bold" text-anchor="end" fill="#000" >90000</text>
<line x1="405.5" y1="591.8" x2="405.5" y2="594.3" stroke="#000" stroke-width="1.1" />
<line x1="429.8" y1="591.8" x2="429.8" y2="594.3" stroke="#000" stroke-width="1.1" />
<line x1="454.4" y1="591.8" x2="454.4" y2="594.3" stroke="#000" stroke-width="1.1" />
<line x1="477.8" y1="591.8" x2="477.8" y2="594.3" stroke="#000" stroke-width="1.1" />
<line x1="502.5" y1="591.8" x2="502.5" y2="594.3" stroke="#000" stroke-width="1.1" />
<text x="0" y="0" font-size="8.4" font-weight="bold" text-anchor="middle" transform="translate(367.4,555.4) rotate(-90)">Virus titer (pfu/ml)</text>
<path d="M403.45,513.56L405.30,510.23L407.15,513.56Z" stroke="#000" stroke-width="1.0" fill="none" stroke-linejoin="miter"/>
<path d="M402.55,528.87L404.40,525.54L406.25,528.87Z" stroke="#000" stroke-width="1.0" fill="none" stroke-linejoin="miter"/>
<path d="M408.15,528.87L410.00,525.54L411.85,528.87Z" stroke="#000" stroke-width="1.0" fill="none" stroke-linejoin="miter"/>
<line x1="397.4" y1="520.9" x2="413.9" y2="520.9" stroke="#000" stroke-width="1.1" />
<path d="M422.75,592.87L424.60,589.54L426.45,592.87Z" stroke="#000" stroke-width="1.0" fill="none" stroke-linejoin="miter"/>
<path d="M428.15,592.87L430.00,589.54L431.85,592.87Z" stroke="#000" stroke-width="1.0" fill="none" stroke-linejoin="miter"/>
<path d="M433.15,592.87L435.00,589.54L436.85,592.87Z" stroke="#000" stroke-width="1.0" fill="none" stroke-linejoin="miter"/>
<path d="M452.55,548.06L454.40,544.74L456.25,548.06Z" stroke="#000" stroke-width="1.0" fill="none" stroke-linejoin="miter"/>
<path d="M452.55,568.16L454.40,564.84L456.25,568.16Z" stroke="#000" stroke-width="1.0" fill="none" stroke-linejoin="miter"/>
<path d="M447.35,573.46L449.20,570.13L451.05,573.46Z" stroke="#000" stroke-width="1.0" fill="none" stroke-linejoin="miter"/>
<path d="M452.75,573.87L454.60,570.54L456.45,573.87Z" stroke="#000" stroke-width="1.0" fill="none" stroke-linejoin="miter"/>
<path d="M452.55,581.56L454.40,578.24L456.25,581.56Z" stroke="#000" stroke-width="1.0" fill="none" stroke-linejoin="miter"/>
<line x1="446.4" y1="567" x2="462.9" y2="567" stroke="#000" stroke-width="1.1" />
<path d="M471.65,592.87L473.50,589.54L475.35,592.87Z" stroke="#000" stroke-width="1.0" fill="none" stroke-linejoin="miter"/>
<path d="M474.35,592.87L476.20,589.54L478.05,592.87Z" stroke="#000" stroke-width="1.0" fill="none" stroke-linejoin="miter"/>
<path d="M476.95,592.87L478.80,589.54L480.65,592.87Z" stroke="#000" stroke-width="1.0" fill="none" stroke-linejoin="miter"/>
<path d="M479.55,592.87L481.40,589.54L483.25,592.87Z" stroke="#000" stroke-width="1.0" fill="none" stroke-linejoin="miter"/>
<path d="M482.15,592.87L484.00,589.54L485.85,592.87Z" stroke="#000" stroke-width="1.0" fill="none" stroke-linejoin="miter"/>
<path d="M496.15,592.87L498.00,589.54L499.85,592.87Z" stroke="#000" stroke-width="1.0" fill="none" stroke-linejoin="miter"/>
<path d="M498.95,592.87L500.80,589.54L502.65,592.87Z" stroke="#000" stroke-width="1.0" fill="none" stroke-linejoin="miter"/>
<path d="M501.75,592.87L503.60,589.54L505.45,592.87Z" stroke="#000" stroke-width="1.0" fill="none" stroke-linejoin="miter"/>
<path d="M504.55,592.87L506.40,589.54L508.25,592.87Z" stroke="#000" stroke-width="1.0" fill="none" stroke-linejoin="miter"/>
<path d="M507.35,592.87L509.20,589.54L511.05,592.87Z" stroke="#000" stroke-width="1.0" fill="none" stroke-linejoin="miter"/>
<text x="0" y="0" font-weight="bold" text-anchor="end" transform="translate(407.3,600.8) rotate(-22)"><tspan font-size="6.3" dy="0.00">BM</tspan></text>
<text x="0" y="0" font-weight="bold" text-anchor="end" transform="translate(431.6,600.8) rotate(-22)"><tspan font-size="6.5" dy="0.00">T</tspan><tspan font-size="4.4" dy="1.62">MLCMV</tspan><tspan font-size="6.5" dy="-1.62"> 2.5x10</tspan><tspan font-size="4.4" dy="-2.60">5</tspan></text>
<text x="0" y="0" font-weight="bold" text-anchor="end" transform="translate(456.2,600.8) rotate(-22)"><tspan font-size="6.5" dy="0.00">T</tspan><tspan font-size="4.4" dy="1.62">MH60</tspan><tspan font-size="6.5" dy="-1.62"> 5x10</tspan><tspan font-size="4.4" dy="-2.60">4</tspan></text>
<text x="0" y="0" font-weight="bold" text-anchor="end" transform="translate(479.6,600.8) rotate(-22)"><tspan font-size="6.5" dy="0.00">T</tspan><tspan font-size="4.4" dy="1.62">MLCMV</tspan><tspan font-size="6.5" dy="-1.62">+T</tspan><tspan font-size="4.4" dy="1.62">MH60</tspan><tspan font-size="6.5" dy="-1.62"> 3x10</tspan><tspan font-size="4.4" dy="-2.60">5</tspan></text>
<text x="0" y="0" font-weight="bold" text-anchor="end" transform="translate(504.3,600.8) rotate(-22)"><tspan font-size="6.5" dy="0.00">T</tspan><tspan font-size="4.4" dy="1.62">MH60-LCMV</tspan><tspan font-size="6.5" dy="-1.62"> 3x10</tspan><tspan font-size="4.4" dy="-2.60">5</tspan></text>
</svg></body></html>
